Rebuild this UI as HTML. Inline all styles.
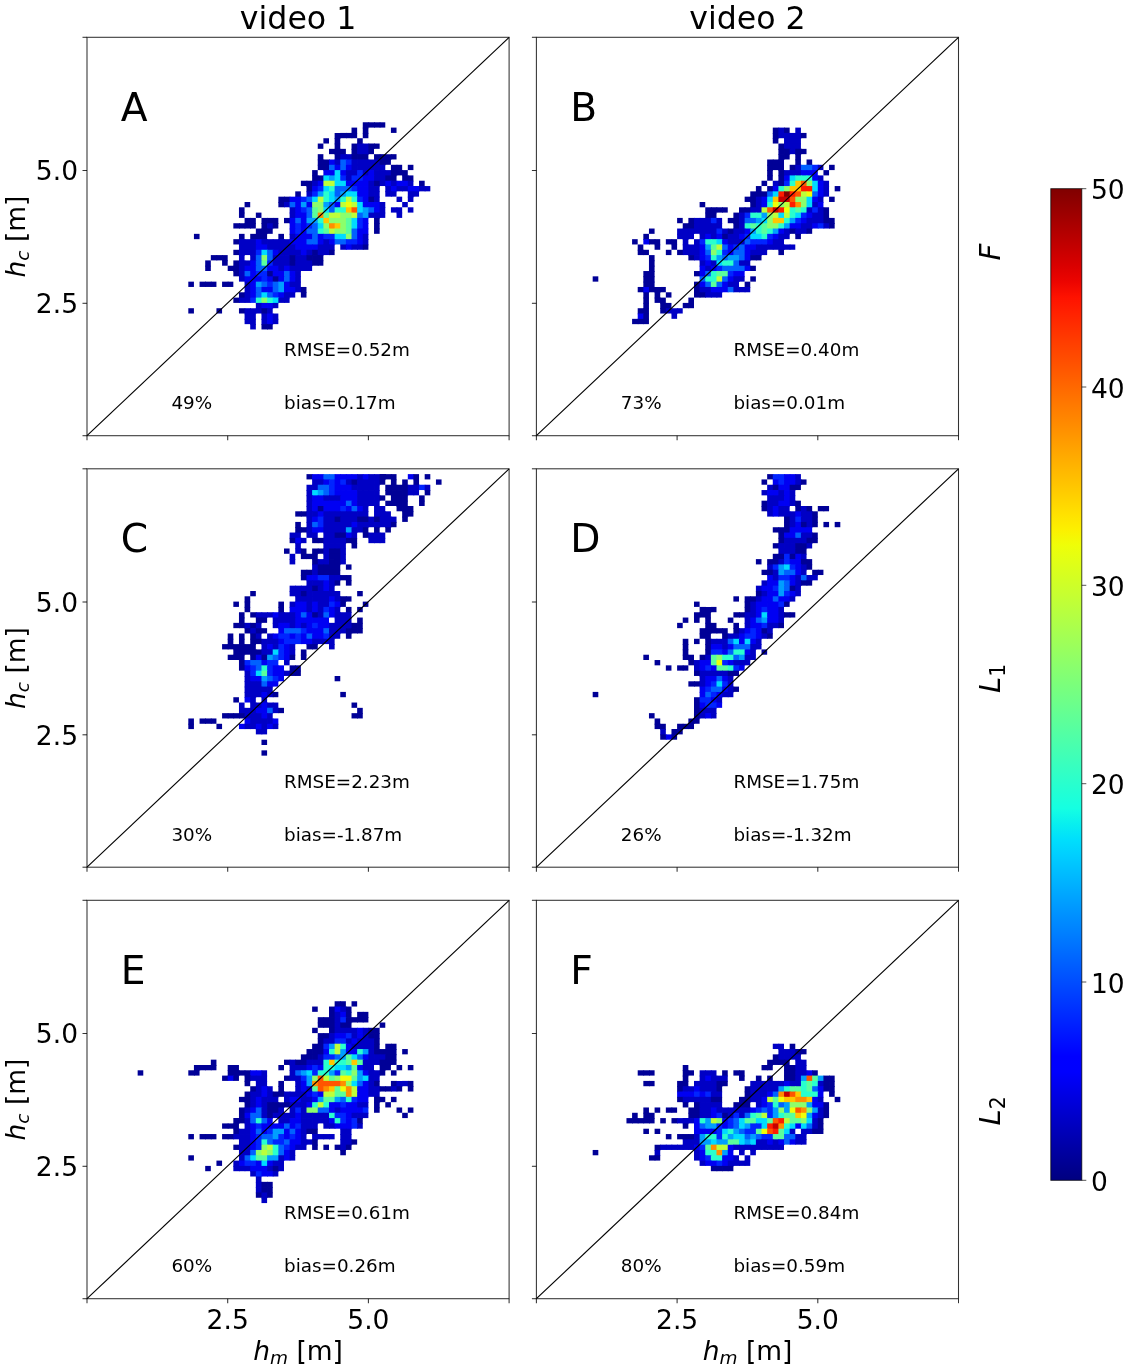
<!DOCTYPE html>
<html><head><meta charset="utf-8"><title>figure</title>
<style>html,body{margin:0;padding:0;background:#fff}svg{display:block}text{font-family:"DejaVu Sans","Liberation Sans",sans-serif;fill:#000}.it{font-style:oblique}</style></head><body>
<svg width="1127" height="1368" viewBox="0 0 1127 1368">
<rect width="1127" height="1368" fill="#fff"/>
<g id="panelA">
<g>
<path d="M362.77 122.29H369.20V127.60H368.40V128.40H362.77Z" fill="#000097"/>
<path d="M368.40 122.29H374.83V127.60H368.40Z" fill="#000097"/>
<path d="M374.03 122.29H380.46V127.60H374.03Z" fill="#000097"/>
<path d="M379.66 122.29H385.28V127.60H379.66Z" fill="#000097"/>
<path d="M351.52 127.60H357.14V133.72H351.52Z" fill="#000097"/>
<path d="M362.77 127.60H368.40V133.72H362.77Z" fill="#000097"/>
<path d="M390.91 127.60H396.54V132.92H390.91Z" fill="#000097"/>
<path d="M334.63 132.92H341.06V138.23H340.26V139.03H334.63Z" fill="#000097"/>
<path d="M340.26 132.92H346.69V138.23H340.26Z" fill="#000097"/>
<path d="M345.89 132.92H352.32V138.23H345.89Z" fill="#000097"/>
<path d="M351.52 132.92H357.14V138.23H351.52Z" fill="#000097"/>
<path d="M362.77 132.92H368.40V138.23H362.77Z" fill="#000097"/>
<path d="M323.38 138.23H329.00V143.54H323.38Z" fill="#000097"/>
<path d="M334.63 138.23H340.26V144.34H334.63Z" fill="#000097"/>
<path d="M357.14 138.23H362.77V144.34H357.14Z" fill="#000097"/>
<path d="M317.75 143.54H323.38V148.85H317.75Z" fill="#000097"/>
<path d="M334.63 143.54H340.26V149.65H334.63Z" fill="#000097"/>
<path d="M351.52 143.54H357.94V149.65H351.52Z" fill="#000097"/>
<path d="M357.14 143.54H363.57V149.65H357.14Z" fill="#0000c5"/>
<path d="M362.77 143.54H369.20V149.65H362.77Z" fill="#0000c5"/>
<path d="M368.40 143.54H374.83V148.85H374.03V149.65H368.40Z" fill="#000097"/>
<path d="M374.03 143.54H379.66V148.85H374.03Z" fill="#000097"/>
<path d="M329.00 148.85H335.43V154.16H329.00Z" fill="#000097"/>
<path d="M334.63 148.85H341.06V154.96H334.63Z" fill="#000097"/>
<path d="M340.26 148.85H345.89V154.96H340.26Z" fill="#000097"/>
<path d="M351.52 148.85H357.94V154.96H351.52Z" fill="#000097"/>
<path d="M357.14 148.85H363.57V154.96H357.14Z" fill="#0000c5"/>
<path d="M362.77 148.85H369.20V154.16H368.40V154.96H362.77Z" fill="#0000c5"/>
<path d="M368.40 148.85H374.03V154.16H368.40Z" fill="#000097"/>
<path d="M317.75 154.16H323.38V160.28H317.75Z" fill="#000097"/>
<path d="M334.63 154.16H341.06V160.28H334.63Z" fill="#000097"/>
<path d="M340.26 154.16H346.69V160.28H340.26Z" fill="#0000c5"/>
<path d="M345.89 154.16H352.32V160.28H345.89Z" fill="#0000c5"/>
<path d="M351.52 154.16H357.94V160.28H351.52Z" fill="#000097"/>
<path d="M357.14 154.16H363.57V160.28H357.14Z" fill="#000097"/>
<path d="M362.77 154.16H368.40V160.28H362.77Z" fill="#000097"/>
<path d="M374.03 154.16H380.46V160.28H374.03Z" fill="#000097"/>
<path d="M379.66 154.16H386.08V160.28H379.66Z" fill="#000097"/>
<path d="M385.28 154.16H391.71V159.48H390.91V160.28H385.28Z" fill="#000097"/>
<path d="M390.91 154.16H396.54V159.48H390.91Z" fill="#000097"/>
<path d="M317.75 159.48H324.18V165.59H317.75Z" fill="#000097"/>
<path d="M323.38 159.48H329.80V165.59H323.38Z" fill="#000097"/>
<path d="M329.00 159.48H335.43V165.59H329.00Z" fill="#0000f3"/>
<path d="M334.63 159.48H341.06V165.59H334.63Z" fill="#0000c5"/>
<path d="M340.26 159.48H346.69V165.59H340.26Z" fill="#0061ff"/>
<path d="M345.89 159.48H352.32V165.59H345.89Z" fill="#0024ff"/>
<path d="M351.52 159.48H357.94V165.59H351.52Z" fill="#0000c5"/>
<path d="M357.14 159.48H363.57V165.59H357.14Z" fill="#0000c5"/>
<path d="M362.77 159.48H369.20V165.59H362.77Z" fill="#0000c5"/>
<path d="M368.40 159.48H374.83V165.59H368.40Z" fill="#0000c5"/>
<path d="M374.03 159.48H380.46V165.59H374.03Z" fill="#0000c5"/>
<path d="M379.66 159.48H386.08V164.79H385.28V165.59H379.66Z" fill="#000097"/>
<path d="M385.28 159.48H390.91V164.79H385.28Z" fill="#000097"/>
<path d="M317.75 164.79H324.18V170.10H317.75Z" fill="#000097"/>
<path d="M323.38 164.79H329.80V170.90H323.38Z" fill="#000097"/>
<path d="M329.00 164.79H335.43V170.90H329.00Z" fill="#0061ff"/>
<path d="M334.63 164.79H341.06V170.90H334.63Z" fill="#0000f3"/>
<path d="M340.26 164.79H346.69V170.90H340.26Z" fill="#0061ff"/>
<path d="M345.89 164.79H352.32V170.90H345.89Z" fill="#0000f3"/>
<path d="M351.52 164.79H357.94V170.90H351.52Z" fill="#0000c5"/>
<path d="M357.14 164.79H363.57V170.90H357.14Z" fill="#0000c5"/>
<path d="M362.77 164.79H369.20V170.90H362.77Z" fill="#0000c5"/>
<path d="M368.40 164.79H374.83V170.90H368.40Z" fill="#0000c5"/>
<path d="M374.03 164.79H380.46V170.90H374.03Z" fill="#0000c5"/>
<path d="M379.66 164.79H385.28V170.90H379.66Z" fill="#0000c5"/>
<path d="M390.91 164.79H397.34V170.90H390.91Z" fill="#000097"/>
<path d="M396.54 164.79H402.17V170.90H396.54Z" fill="#000097"/>
<path d="M407.80 164.79H413.42V170.10H407.80Z" fill="#000097"/>
<path d="M312.12 170.10H317.75V176.21H312.12Z" fill="#000097"/>
<path d="M323.38 170.10H329.80V176.21H323.38Z" fill="#0000f3"/>
<path d="M329.00 170.10H335.43V176.21H329.00Z" fill="#0000f3"/>
<path d="M334.63 170.10H341.06V176.21H334.63Z" fill="#00dbff"/>
<path d="M340.26 170.10H346.69V176.21H340.26Z" fill="#0000f3"/>
<path d="M345.89 170.10H352.32V176.21H345.89Z" fill="#0000c5"/>
<path d="M351.52 170.10H357.94V176.21H351.52Z" fill="#0000c5"/>
<path d="M357.14 170.10H363.57V176.21H357.14Z" fill="#0024ff"/>
<path d="M362.77 170.10H369.20V176.21H362.77Z" fill="#0000c5"/>
<path d="M368.40 170.10H374.83V176.21H368.40Z" fill="#0000f3"/>
<path d="M374.03 170.10H380.46V176.21H374.03Z" fill="#0000c5"/>
<path d="M379.66 170.10H386.08V176.21H379.66Z" fill="#0000c5"/>
<path d="M385.28 170.10H391.71V176.21H385.28Z" fill="#0000c5"/>
<path d="M390.91 170.10H397.34V175.41H396.54V176.21H390.91Z" fill="#000097"/>
<path d="M396.54 170.10H402.97V175.41H396.54Z" fill="#000097"/>
<path d="M402.17 170.10H407.80V176.21H402.17Z" fill="#000097"/>
<path d="M312.12 175.41H318.55V181.52H312.12Z" fill="#000097"/>
<path d="M317.75 175.41H324.18V181.52H317.75Z" fill="#000097"/>
<path d="M323.38 175.41H329.80V181.52H323.38Z" fill="#00dbff"/>
<path d="M329.00 175.41H335.43V181.52H329.00Z" fill="#009eff"/>
<path d="M334.63 175.41H341.06V181.52H334.63Z" fill="#00dbff"/>
<path d="M340.26 175.41H346.69V181.52H340.26Z" fill="#0024ff"/>
<path d="M345.89 175.41H352.32V181.52H345.89Z" fill="#0000c5"/>
<path d="M351.52 175.41H357.94V181.52H351.52Z" fill="#0024ff"/>
<path d="M357.14 175.41H363.57V181.52H357.14Z" fill="#0024ff"/>
<path d="M362.77 175.41H369.20V181.52H362.77Z" fill="#0000f3"/>
<path d="M368.40 175.41H374.83V181.52H368.40Z" fill="#0000f3"/>
<path d="M374.03 175.41H380.46V181.52H374.03Z" fill="#0000c5"/>
<path d="M379.66 175.41H386.08V181.52H379.66Z" fill="#0000c5"/>
<path d="M385.28 175.41H391.71V181.52H385.28Z" fill="#000097"/>
<path d="M390.91 175.41H396.54V181.52H390.91Z" fill="#000097"/>
<path d="M402.17 175.41H408.60V181.52H402.17Z" fill="#000097"/>
<path d="M407.80 175.41H413.42V181.52H407.80Z" fill="#000097"/>
<path d="M300.86 180.72H307.29V186.04H300.86Z" fill="#000097"/>
<path d="M306.49 180.72H312.92V186.84H306.49Z" fill="#000097"/>
<path d="M312.12 180.72H318.55V186.84H312.12Z" fill="#0000c5"/>
<path d="M317.75 180.72H324.18V186.84H317.75Z" fill="#0000f3"/>
<path d="M323.38 180.72H329.80V186.84H323.38Z" fill="#bdff3a"/>
<path d="M329.00 180.72H335.43V186.84H329.00Z" fill="#bdff3a"/>
<path d="M334.63 180.72H341.06V186.84H334.63Z" fill="#00dbff"/>
<path d="M340.26 180.72H346.69V186.84H340.26Z" fill="#00dbff"/>
<path d="M345.89 180.72H352.32V186.84H345.89Z" fill="#0000f3"/>
<path d="M351.52 180.72H357.94V186.84H351.52Z" fill="#0000f3"/>
<path d="M357.14 180.72H363.57V186.84H357.14Z" fill="#0000f3"/>
<path d="M362.77 180.72H369.20V186.84H362.77Z" fill="#0000f3"/>
<path d="M368.40 180.72H374.83V186.84H368.40Z" fill="#0000c5"/>
<path d="M374.03 180.72H380.46V186.04H379.66V186.84H374.03Z" fill="#000097"/>
<path d="M379.66 180.72H386.08V186.04H379.66Z" fill="#0000c5"/>
<path d="M385.28 180.72H391.71V186.84H385.28Z" fill="#0000f3"/>
<path d="M390.91 180.72H397.34V186.84H390.91Z" fill="#0000c5"/>
<path d="M396.54 180.72H402.97V186.84H396.54Z" fill="#0000f3"/>
<path d="M402.17 180.72H408.60V186.84H402.17Z" fill="#0000f3"/>
<path d="M407.80 180.72H413.42V186.84H407.80Z" fill="#0000c5"/>
<path d="M419.05 180.72H424.68V186.84H419.05Z" fill="#000097"/>
<path d="M306.49 186.04H312.92V192.15H306.49Z" fill="#000097"/>
<path d="M312.12 186.04H318.55V192.15H312.12Z" fill="#0000f3"/>
<path d="M317.75 186.04H324.18V192.15H317.75Z" fill="#0024ff"/>
<path d="M323.38 186.04H329.80V192.15H323.38Z" fill="#00dbff"/>
<path d="M329.00 186.04H335.43V192.15H329.00Z" fill="#29ffce"/>
<path d="M334.63 186.04H341.06V192.15H334.63Z" fill="#0061ff"/>
<path d="M340.26 186.04H346.69V192.15H340.26Z" fill="#0061ff"/>
<path d="M345.89 186.04H352.32V192.15H345.89Z" fill="#0061ff"/>
<path d="M351.52 186.04H357.94V192.15H351.52Z" fill="#0024ff"/>
<path d="M357.14 186.04H363.57V192.15H357.14Z" fill="#0000f3"/>
<path d="M362.77 186.04H369.20V192.15H362.77Z" fill="#0000f3"/>
<path d="M368.40 186.04H374.83V192.15H368.40Z" fill="#0000c5"/>
<path d="M374.03 186.04H379.66V192.15H374.03Z" fill="#0000c5"/>
<path d="M385.28 186.04H391.71V192.15H385.28Z" fill="#0000c5"/>
<path d="M390.91 186.04H397.34V191.35H396.54V192.15H390.91Z" fill="#0000f3"/>
<path d="M396.54 186.04H402.97V191.35H396.54Z" fill="#0000c5"/>
<path d="M402.17 186.04H408.60V191.35H402.17Z" fill="#0000c5"/>
<path d="M407.80 186.04H414.22V192.15H407.80Z" fill="#0000f3"/>
<path d="M413.42 186.04H419.85V191.35H419.05V192.15H413.42Z" fill="#0000f3"/>
<path d="M419.05 186.04H425.48V191.35H419.05Z" fill="#0000c5"/>
<path d="M424.68 186.04H430.31V191.35H424.68Z" fill="#0000c5"/>
<path d="M295.24 191.35H300.86V197.46H295.24Z" fill="#000097"/>
<path d="M306.49 191.35H312.92V197.46H306.49Z" fill="#0000c5"/>
<path d="M312.12 191.35H318.55V197.46H312.12Z" fill="#0024ff"/>
<path d="M317.75 191.35H324.18V197.46H317.75Z" fill="#009eff"/>
<path d="M323.38 191.35H329.80V197.46H323.38Z" fill="#29ffce"/>
<path d="M329.00 191.35H335.43V197.46H329.00Z" fill="#00dbff"/>
<path d="M334.63 191.35H341.06V197.46H334.63Z" fill="#0061ff"/>
<path d="M340.26 191.35H346.69V197.46H340.26Z" fill="#009eff"/>
<path d="M345.89 191.35H352.32V197.46H345.89Z" fill="#00dbff"/>
<path d="M351.52 191.35H357.94V197.46H351.52Z" fill="#00dbff"/>
<path d="M357.14 191.35H363.57V197.46H357.14Z" fill="#0000f3"/>
<path d="M362.77 191.35H369.20V197.46H362.77Z" fill="#0000f3"/>
<path d="M368.40 191.35H374.83V197.46H368.40Z" fill="#0000c5"/>
<path d="M374.03 191.35H379.66V197.46H374.03Z" fill="#0000c5"/>
<path d="M385.28 191.35H391.71V196.66H385.28Z" fill="#0000c5"/>
<path d="M390.91 191.35H396.54V196.66H390.91Z" fill="#0000c5"/>
<path d="M407.80 191.35H414.22V196.66H413.42V197.46H407.80Z" fill="#0000c5"/>
<path d="M413.42 191.35H419.05V196.66H413.42Z" fill="#0000c5"/>
<path d="M278.35 196.66H284.78V202.77H278.35Z" fill="#000097"/>
<path d="M283.98 196.66H290.41V202.77H283.98Z" fill="#000097"/>
<path d="M289.61 196.66H296.04V202.77H289.61Z" fill="#0000f3"/>
<path d="M295.24 196.66H301.66V202.77H295.24Z" fill="#0000f3"/>
<path d="M300.86 196.66H307.29V202.77H300.86Z" fill="#0024ff"/>
<path d="M306.49 196.66H312.92V202.77H306.49Z" fill="#0061ff"/>
<path d="M312.12 196.66H318.55V202.77H312.12Z" fill="#00dbff"/>
<path d="M317.75 196.66H324.18V202.77H317.75Z" fill="#bdff3a"/>
<path d="M323.38 196.66H329.80V202.77H323.38Z" fill="#29ffce"/>
<path d="M329.00 196.66H335.43V202.77H329.00Z" fill="#00dbff"/>
<path d="M334.63 196.66H341.06V202.77H334.63Z" fill="#009eff"/>
<path d="M340.26 196.66H346.69V202.77H340.26Z" fill="#29ffce"/>
<path d="M345.89 196.66H352.32V202.77H345.89Z" fill="#bdff3a"/>
<path d="M351.52 196.66H357.94V202.77H351.52Z" fill="#29ffce"/>
<path d="M357.14 196.66H363.57V202.77H357.14Z" fill="#0024ff"/>
<path d="M362.77 196.66H369.20V202.77H362.77Z" fill="#0000f3"/>
<path d="M368.40 196.66H374.83V202.77H368.40Z" fill="#000097"/>
<path d="M374.03 196.66H379.66V202.77H374.03Z" fill="#0000c5"/>
<path d="M396.54 196.66H402.17V201.97H396.54Z" fill="#0000c5"/>
<path d="M407.80 196.66H413.42V201.97H407.80Z" fill="#0000c5"/>
<path d="M244.58 201.97H250.21V207.28H244.58Z" fill="#000097"/>
<path d="M278.35 201.97H284.78V207.28H278.35Z" fill="#000097"/>
<path d="M283.98 201.97H290.41V207.28H283.98Z" fill="#0000c5"/>
<path d="M289.61 201.97H296.04V208.08H289.61Z" fill="#0061ff"/>
<path d="M295.24 201.97H301.66V208.08H295.24Z" fill="#0000f3"/>
<path d="M300.86 201.97H307.29V208.08H300.86Z" fill="#009eff"/>
<path d="M306.49 201.97H312.92V208.08H306.49Z" fill="#0000f3"/>
<path d="M312.12 201.97H318.55V208.08H312.12Z" fill="#8cff6b"/>
<path d="M317.75 201.97H324.18V208.08H317.75Z" fill="#8cff6b"/>
<path d="M323.38 201.97H329.80V208.08H323.38Z" fill="#009eff"/>
<path d="M329.00 201.97H335.43V208.08H329.00Z" fill="#0061ff"/>
<path d="M334.63 201.97H341.06V208.08H334.63Z" fill="#0000f3"/>
<path d="M340.26 201.97H346.69V208.08H340.26Z" fill="#bdff3a"/>
<path d="M345.89 201.97H352.32V208.08H345.89Z" fill="#efff08"/>
<path d="M351.52 201.97H357.94V208.08H351.52Z" fill="#bdff3a"/>
<path d="M357.14 201.97H363.57V208.08H357.14Z" fill="#00dbff"/>
<path d="M362.77 201.97H369.20V208.08H362.77Z" fill="#0000f3"/>
<path d="M368.40 201.97H374.83V208.08H368.40Z" fill="#0000f3"/>
<path d="M374.03 201.97H380.46V208.08H374.03Z" fill="#0000f3"/>
<path d="M379.66 201.97H385.28V208.08H379.66Z" fill="#0000c5"/>
<path d="M402.17 201.97H407.80V207.28H402.17Z" fill="#0000c5"/>
<path d="M238.96 207.28H244.58V213.40H238.96Z" fill="#000097"/>
<path d="M289.61 207.28H296.04V213.40H289.61Z" fill="#0000c5"/>
<path d="M295.24 207.28H301.66V213.40H295.24Z" fill="#0000f3"/>
<path d="M300.86 207.28H307.29V213.40H300.86Z" fill="#0024ff"/>
<path d="M306.49 207.28H312.92V213.40H306.49Z" fill="#0061ff"/>
<path d="M312.12 207.28H318.55V213.40H312.12Z" fill="#5aff9c"/>
<path d="M317.75 207.28H324.18V213.40H317.75Z" fill="#8cff6b"/>
<path d="M323.38 207.28H329.80V213.40H323.38Z" fill="#00dbff"/>
<path d="M329.00 207.28H335.43V213.40H329.00Z" fill="#0061ff"/>
<path d="M334.63 207.28H341.06V213.40H334.63Z" fill="#29ffce"/>
<path d="M340.26 207.28H346.69V213.40H340.26Z" fill="#29ffce"/>
<path d="M345.89 207.28H352.32V213.40H345.89Z" fill="#ffc600"/>
<path d="M351.52 207.28H357.94V213.40H351.52Z" fill="#ff5500"/>
<path d="M357.14 207.28H363.57V213.40H357.14Z" fill="#00dbff"/>
<path d="M362.77 207.28H369.20V213.40H362.77Z" fill="#009eff"/>
<path d="M368.40 207.28H374.83V213.40H368.40Z" fill="#0061ff"/>
<path d="M374.03 207.28H380.46V213.40H374.03Z" fill="#0000f3"/>
<path d="M379.66 207.28H385.28V213.40H379.66Z" fill="#0000c5"/>
<path d="M390.91 207.28H397.34V212.60H390.91Z" fill="#0000c5"/>
<path d="M396.54 207.28H402.17V213.40H396.54Z" fill="#0000c5"/>
<path d="M407.80 207.28H413.42V212.60H407.80Z" fill="#0000c5"/>
<path d="M238.96 212.60H244.58V217.91H238.96Z" fill="#000097"/>
<path d="M255.84 212.60H261.47V217.91H255.84Z" fill="#000097"/>
<path d="M289.61 212.60H296.04V218.71H289.61Z" fill="#0000c5"/>
<path d="M295.24 212.60H301.66V218.71H295.24Z" fill="#0000f3"/>
<path d="M300.86 212.60H307.29V218.71H300.86Z" fill="#0000f3"/>
<path d="M306.49 212.60H312.92V218.71H306.49Z" fill="#0061ff"/>
<path d="M312.12 212.60H318.55V218.71H312.12Z" fill="#5aff9c"/>
<path d="M317.75 212.60H324.18V218.71H317.75Z" fill="#ff8e00"/>
<path d="M323.38 212.60H329.80V218.71H323.38Z" fill="#5aff9c"/>
<path d="M329.00 212.60H335.43V218.71H329.00Z" fill="#bdff3a"/>
<path d="M334.63 212.60H341.06V218.71H334.63Z" fill="#bdff3a"/>
<path d="M340.26 212.60H346.69V218.71H340.26Z" fill="#8cff6b"/>
<path d="M345.89 212.60H352.32V218.71H345.89Z" fill="#8cff6b"/>
<path d="M351.52 212.60H357.94V218.71H351.52Z" fill="#bdff3a"/>
<path d="M357.14 212.60H363.57V218.71H357.14Z" fill="#0061ff"/>
<path d="M362.77 212.60H369.20V217.91H368.40V218.71H362.77Z" fill="#009eff"/>
<path d="M368.40 212.60H374.83V217.91H368.40Z" fill="#0000c5"/>
<path d="M374.03 212.60H380.46V217.91H379.66V218.71H374.03Z" fill="#0000c5"/>
<path d="M379.66 212.60H385.28V217.91H379.66Z" fill="#0000c5"/>
<path d="M396.54 212.60H402.17V217.91H396.54Z" fill="#0000c5"/>
<path d="M244.58 217.91H251.01V224.02H244.58Z" fill="#000097"/>
<path d="M250.21 217.91H255.84V224.02H250.21Z" fill="#000097"/>
<path d="M261.47 217.91H267.90V224.02H261.47Z" fill="#000097"/>
<path d="M267.10 217.91H273.52V224.02H267.10Z" fill="#000097"/>
<path d="M272.72 217.91H278.35V224.02H272.72Z" fill="#000097"/>
<path d="M283.98 217.91H290.41V223.22H283.98Z" fill="#000097"/>
<path d="M289.61 217.91H296.04V224.02H289.61Z" fill="#0000f3"/>
<path d="M295.24 217.91H301.66V224.02H295.24Z" fill="#0061ff"/>
<path d="M300.86 217.91H307.29V224.02H300.86Z" fill="#0000f3"/>
<path d="M306.49 217.91H312.92V224.02H306.49Z" fill="#009eff"/>
<path d="M312.12 217.91H318.55V224.02H312.12Z" fill="#009eff"/>
<path d="M317.75 217.91H324.18V224.02H317.75Z" fill="#29ffce"/>
<path d="M323.38 217.91H329.80V224.02H323.38Z" fill="#ffc600"/>
<path d="M329.00 217.91H335.43V224.02H329.00Z" fill="#8cff6b"/>
<path d="M334.63 217.91H341.06V224.02H334.63Z" fill="#8cff6b"/>
<path d="M340.26 217.91H346.69V224.02H340.26Z" fill="#8cff6b"/>
<path d="M345.89 217.91H352.32V224.02H345.89Z" fill="#5aff9c"/>
<path d="M351.52 217.91H357.94V224.02H351.52Z" fill="#00dbff"/>
<path d="M357.14 217.91H363.57V224.02H357.14Z" fill="#0024ff"/>
<path d="M362.77 217.91H368.40V224.02H362.77Z" fill="#0000f3"/>
<path d="M374.03 217.91H379.66V224.02H374.03Z" fill="#000097"/>
<path d="M233.33 223.22H239.76V228.53H233.33Z" fill="#000097"/>
<path d="M238.96 223.22H245.38V228.53H238.96Z" fill="#000097"/>
<path d="M244.58 223.22H251.01V228.53H244.58Z" fill="#000097"/>
<path d="M250.21 223.22H255.84V228.53H250.21Z" fill="#000097"/>
<path d="M261.47 223.22H267.90V229.33H261.47Z" fill="#000097"/>
<path d="M267.10 223.22H273.52V228.53H272.72V229.33H267.10Z" fill="#0000c5"/>
<path d="M272.72 223.22H278.35V228.53H272.72Z" fill="#000097"/>
<path d="M289.61 223.22H296.04V229.33H289.61Z" fill="#0000f3"/>
<path d="M295.24 223.22H301.66V229.33H295.24Z" fill="#0024ff"/>
<path d="M300.86 223.22H307.29V229.33H300.86Z" fill="#0000f3"/>
<path d="M306.49 223.22H312.92V229.33H306.49Z" fill="#0024ff"/>
<path d="M312.12 223.22H318.55V229.33H312.12Z" fill="#0061ff"/>
<path d="M317.75 223.22H324.18V229.33H317.75Z" fill="#00dbff"/>
<path d="M323.38 223.22H329.80V229.33H323.38Z" fill="#8cff6b"/>
<path d="M329.00 223.22H335.43V229.33H329.00Z" fill="#ff8e00"/>
<path d="M334.63 223.22H341.06V229.33H334.63Z" fill="#ffc600"/>
<path d="M340.26 223.22H346.69V229.33H340.26Z" fill="#8cff6b"/>
<path d="M345.89 223.22H352.32V229.33H345.89Z" fill="#5aff9c"/>
<path d="M351.52 223.22H357.94V229.33H351.52Z" fill="#00dbff"/>
<path d="M357.14 223.22H363.57V229.33H357.14Z" fill="#0024ff"/>
<path d="M362.77 223.22H368.40V229.33H362.77Z" fill="#0000f3"/>
<path d="M374.03 223.22H379.66V229.33H374.03Z" fill="#000097"/>
<path d="M255.84 228.53H262.27V234.64H255.84Z" fill="#000097"/>
<path d="M261.47 228.53H267.90V233.84H267.10V234.64H261.47Z" fill="#000097"/>
<path d="M267.10 228.53H272.72V233.84H267.10Z" fill="#000097"/>
<path d="M289.61 228.53H296.04V234.64H289.61Z" fill="#0000f3"/>
<path d="M295.24 228.53H301.66V234.64H295.24Z" fill="#0024ff"/>
<path d="M300.86 228.53H307.29V234.64H300.86Z" fill="#0000f3"/>
<path d="M306.49 228.53H312.92V234.64H306.49Z" fill="#0061ff"/>
<path d="M312.12 228.53H318.55V234.64H312.12Z" fill="#0061ff"/>
<path d="M317.75 228.53H324.18V234.64H317.75Z" fill="#29ffce"/>
<path d="M323.38 228.53H329.80V234.64H323.38Z" fill="#5aff9c"/>
<path d="M329.00 228.53H335.43V234.64H329.00Z" fill="#bdff3a"/>
<path d="M334.63 228.53H341.06V234.64H334.63Z" fill="#8cff6b"/>
<path d="M340.26 228.53H346.69V234.64H340.26Z" fill="#8cff6b"/>
<path d="M345.89 228.53H352.32V234.64H345.89Z" fill="#5aff9c"/>
<path d="M351.52 228.53H357.94V234.64H351.52Z" fill="#0061ff"/>
<path d="M357.14 228.53H363.57V234.64H357.14Z" fill="#0000f3"/>
<path d="M362.77 228.53H368.40V234.64H362.77Z" fill="#0000f3"/>
<path d="M374.03 228.53H379.66V233.84H374.03Z" fill="#000097"/>
<path d="M193.93 233.84H199.56V239.16H193.93Z" fill="#000097"/>
<path d="M238.96 233.84H244.58V239.96H238.96Z" fill="#000097"/>
<path d="M250.21 233.84H256.64V239.96H250.21Z" fill="#000097"/>
<path d="M255.84 233.84H262.27V239.96H255.84Z" fill="#000097"/>
<path d="M261.47 233.84H267.10V239.96H261.47Z" fill="#000097"/>
<path d="M278.35 233.84H283.98V239.96H278.35Z" fill="#000097"/>
<path d="M289.61 233.84H296.04V239.96H289.61Z" fill="#0000c5"/>
<path d="M295.24 233.84H301.66V239.96H295.24Z" fill="#0000f3"/>
<path d="M300.86 233.84H307.29V239.96H300.86Z" fill="#0000f3"/>
<path d="M306.49 233.84H312.92V239.96H306.49Z" fill="#0000f3"/>
<path d="M312.12 233.84H318.55V239.96H312.12Z" fill="#0061ff"/>
<path d="M317.75 233.84H324.18V239.96H317.75Z" fill="#0000f3"/>
<path d="M323.38 233.84H329.80V239.96H323.38Z" fill="#0024ff"/>
<path d="M329.00 233.84H335.43V239.96H329.00Z" fill="#0024ff"/>
<path d="M334.63 233.84H341.06V239.96H334.63Z" fill="#00dbff"/>
<path d="M340.26 233.84H346.69V239.96H340.26Z" fill="#00dbff"/>
<path d="M345.89 233.84H352.32V239.96H345.89Z" fill="#8cff6b"/>
<path d="M351.52 233.84H357.94V239.96H351.52Z" fill="#0061ff"/>
<path d="M357.14 233.84H363.57V239.96H357.14Z" fill="#0000f3"/>
<path d="M362.77 233.84H368.40V239.96H362.77Z" fill="#0000c5"/>
<path d="M233.33 239.16H239.76V244.47H233.33Z" fill="#000097"/>
<path d="M238.96 239.16H245.38V245.27H238.96Z" fill="#0000c5"/>
<path d="M244.58 239.16H251.01V245.27H244.58Z" fill="#0000c5"/>
<path d="M250.21 239.16H256.64V245.27H250.21Z" fill="#0000c5"/>
<path d="M255.84 239.16H262.27V245.27H255.84Z" fill="#0000f3"/>
<path d="M261.47 239.16H267.90V245.27H261.47Z" fill="#0000c5"/>
<path d="M267.10 239.16H273.52V245.27H267.10Z" fill="#0000c5"/>
<path d="M272.72 239.16H279.15V245.27H272.72Z" fill="#0000c5"/>
<path d="M278.35 239.16H284.78V245.27H278.35Z" fill="#0000c5"/>
<path d="M283.98 239.16H290.41V245.27H283.98Z" fill="#0000c5"/>
<path d="M289.61 239.16H296.04V245.27H289.61Z" fill="#0000f3"/>
<path d="M295.24 239.16H301.66V245.27H295.24Z" fill="#0000f3"/>
<path d="M300.86 239.16H307.29V245.27H300.86Z" fill="#0000f3"/>
<path d="M306.49 239.16H312.92V245.27H306.49Z" fill="#0061ff"/>
<path d="M312.12 239.16H318.55V245.27H312.12Z" fill="#0061ff"/>
<path d="M317.75 239.16H324.18V245.27H317.75Z" fill="#0000f3"/>
<path d="M323.38 239.16H329.80V245.27H323.38Z" fill="#0000c5"/>
<path d="M329.00 239.16H335.43V244.47H334.63V245.27H329.00Z" fill="#0000f3"/>
<path d="M334.63 239.16H341.06V244.47H334.63Z" fill="#0061ff"/>
<path d="M340.26 239.16H346.69V245.27H340.26Z" fill="#0061ff"/>
<path d="M345.89 239.16H352.32V245.27H345.89Z" fill="#0024ff"/>
<path d="M351.52 239.16H357.94V245.27H351.52Z" fill="#0024ff"/>
<path d="M357.14 239.16H363.57V245.27H357.14Z" fill="#0000f3"/>
<path d="M362.77 239.16H368.40V245.27H362.77Z" fill="#0000c5"/>
<path d="M238.96 244.47H245.38V250.58H238.96Z" fill="#0000c5"/>
<path d="M244.58 244.47H251.01V250.58H244.58Z" fill="#0000c5"/>
<path d="M250.21 244.47H256.64V250.58H250.21Z" fill="#0000c5"/>
<path d="M255.84 244.47H262.27V250.58H255.84Z" fill="#0000f3"/>
<path d="M261.47 244.47H267.90V250.58H261.47Z" fill="#0000f3"/>
<path d="M267.10 244.47H273.52V250.58H267.10Z" fill="#0000c5"/>
<path d="M272.72 244.47H279.15V250.58H272.72Z" fill="#0000c5"/>
<path d="M278.35 244.47H284.78V250.58H278.35Z" fill="#0000c5"/>
<path d="M283.98 244.47H290.41V250.58H283.98Z" fill="#0000c5"/>
<path d="M289.61 244.47H296.04V250.58H289.61Z" fill="#0000c5"/>
<path d="M295.24 244.47H301.66V250.58H295.24Z" fill="#0000f3"/>
<path d="M300.86 244.47H307.29V250.58H300.86Z" fill="#0000f3"/>
<path d="M306.49 244.47H312.92V250.58H306.49Z" fill="#0000f3"/>
<path d="M312.12 244.47H318.55V250.58H312.12Z" fill="#0000f3"/>
<path d="M317.75 244.47H324.18V250.58H317.75Z" fill="#0000c5"/>
<path d="M323.38 244.47H329.80V250.58H323.38Z" fill="#0000c5"/>
<path d="M329.00 244.47H334.63V250.58H329.00Z" fill="#0000c5"/>
<path d="M340.26 244.47H346.69V249.78H340.26Z" fill="#0000c5"/>
<path d="M345.89 244.47H352.32V249.78H345.89Z" fill="#0000f3"/>
<path d="M351.52 244.47H357.94V249.78H351.52Z" fill="#0000c5"/>
<path d="M357.14 244.47H363.57V249.78H357.14Z" fill="#0000c5"/>
<path d="M362.77 244.47H368.40V249.78H362.77Z" fill="#000097"/>
<path d="M233.33 249.78H239.76V255.09H233.33Z" fill="#000097"/>
<path d="M238.96 249.78H245.38V255.09H244.58V255.89H238.96Z" fill="#0000c5"/>
<path d="M244.58 249.78H251.01V255.09H244.58Z" fill="#0000c5"/>
<path d="M250.21 249.78H256.64V255.89H250.21Z" fill="#0000c5"/>
<path d="M255.84 249.78H262.27V255.89H255.84Z" fill="#0024ff"/>
<path d="M261.47 249.78H267.90V255.89H261.47Z" fill="#00dbff"/>
<path d="M267.10 249.78H273.52V255.89H267.10Z" fill="#0061ff"/>
<path d="M272.72 249.78H279.15V255.89H272.72Z" fill="#0000f3"/>
<path d="M278.35 249.78H284.78V255.89H278.35Z" fill="#0000c5"/>
<path d="M283.98 249.78H290.41V255.89H283.98Z" fill="#0000c5"/>
<path d="M289.61 249.78H296.04V255.89H289.61Z" fill="#0000c5"/>
<path d="M295.24 249.78H301.66V255.89H295.24Z" fill="#0000c5"/>
<path d="M300.86 249.78H307.29V255.89H300.86Z" fill="#0000f3"/>
<path d="M306.49 249.78H312.92V255.89H306.49Z" fill="#0000c5"/>
<path d="M312.12 249.78H318.55V255.89H312.12Z" fill="#000097"/>
<path d="M317.75 249.78H324.18V255.09H323.38V255.89H317.75Z" fill="#0000c5"/>
<path d="M323.38 249.78H329.80V255.09H323.38Z" fill="#0000c5"/>
<path d="M329.00 249.78H334.63V255.09H329.00Z" fill="#000097"/>
<path d="M210.82 255.09H217.24V260.40H210.82Z" fill="#000097"/>
<path d="M216.44 255.09H222.87V260.40H216.44Z" fill="#000097"/>
<path d="M222.07 255.09H227.70V261.20H222.07Z" fill="#000097"/>
<path d="M238.96 255.09H244.58V261.20H238.96Z" fill="#0000c5"/>
<path d="M250.21 255.09H256.64V261.20H250.21Z" fill="#0000c5"/>
<path d="M255.84 255.09H262.27V261.20H255.84Z" fill="#0061ff"/>
<path d="M261.47 255.09H267.90V261.20H261.47Z" fill="#8cff6b"/>
<path d="M267.10 255.09H273.52V261.20H267.10Z" fill="#0061ff"/>
<path d="M272.72 255.09H279.15V261.20H272.72Z" fill="#0000c5"/>
<path d="M278.35 255.09H284.78V261.20H278.35Z" fill="#0000c5"/>
<path d="M283.98 255.09H290.41V261.20H283.98Z" fill="#0000c5"/>
<path d="M289.61 255.09H296.04V261.20H289.61Z" fill="#000097"/>
<path d="M295.24 255.09H301.66V261.20H295.24Z" fill="#0000c5"/>
<path d="M300.86 255.09H307.29V261.20H300.86Z" fill="#0000c5"/>
<path d="M306.49 255.09H312.92V261.20H306.49Z" fill="#000097"/>
<path d="M312.12 255.09H318.55V261.20H312.12Z" fill="#000097"/>
<path d="M317.75 255.09H323.38V261.20H317.75Z" fill="#000097"/>
<path d="M205.19 260.40H210.82V266.52H205.19Z" fill="#000097"/>
<path d="M222.07 260.40H227.70V265.72H222.07Z" fill="#000097"/>
<path d="M233.33 260.40H239.76V266.52H233.33Z" fill="#000097"/>
<path d="M238.96 260.40H245.38V266.52H238.96Z" fill="#0000c5"/>
<path d="M244.58 260.40H251.01V266.52H244.58Z" fill="#0000c5"/>
<path d="M250.21 260.40H256.64V266.52H250.21Z" fill="#0000f3"/>
<path d="M255.84 260.40H262.27V266.52H255.84Z" fill="#0061ff"/>
<path d="M261.47 260.40H267.90V266.52H261.47Z" fill="#5aff9c"/>
<path d="M267.10 260.40H273.52V266.52H267.10Z" fill="#0024ff"/>
<path d="M272.72 260.40H279.15V266.52H272.72Z" fill="#0000c5"/>
<path d="M278.35 260.40H284.78V266.52H278.35Z" fill="#0000c5"/>
<path d="M283.98 260.40H290.41V266.52H283.98Z" fill="#0000c5"/>
<path d="M289.61 260.40H296.04V266.52H289.61Z" fill="#000097"/>
<path d="M295.24 260.40H301.66V266.52H295.24Z" fill="#0000c5"/>
<path d="M300.86 260.40H307.29V266.52H300.86Z" fill="#0000c5"/>
<path d="M306.49 260.40H312.92V265.72H312.12V266.52H306.49Z" fill="#0000c5"/>
<path d="M312.12 260.40H318.55V265.72H312.12Z" fill="#000097"/>
<path d="M317.75 260.40H323.38V265.72H317.75Z" fill="#000097"/>
<path d="M205.19 265.72H210.82V271.03H205.19Z" fill="#000097"/>
<path d="M227.70 265.72H234.13V271.03H227.70Z" fill="#000097"/>
<path d="M233.33 265.72H239.76V271.83H233.33Z" fill="#000097"/>
<path d="M238.96 265.72H245.38V271.83H238.96Z" fill="#0000c5"/>
<path d="M244.58 265.72H251.01V271.83H244.58Z" fill="#0000f3"/>
<path d="M250.21 265.72H256.64V271.83H250.21Z" fill="#0000f3"/>
<path d="M255.84 265.72H262.27V271.83H255.84Z" fill="#0061ff"/>
<path d="M261.47 265.72H267.90V271.83H261.47Z" fill="#0061ff"/>
<path d="M267.10 265.72H273.52V271.83H267.10Z" fill="#0000f3"/>
<path d="M272.72 265.72H279.15V271.83H272.72Z" fill="#0000f3"/>
<path d="M278.35 265.72H284.78V271.83H278.35Z" fill="#0000c5"/>
<path d="M283.98 265.72H290.41V271.83H283.98Z" fill="#0000f3"/>
<path d="M289.61 265.72H296.04V271.83H289.61Z" fill="#0000c5"/>
<path d="M295.24 265.72H301.66V271.03H300.86V271.83H295.24Z" fill="#0000c5"/>
<path d="M300.86 265.72H307.29V271.03H300.86Z" fill="#0000c5"/>
<path d="M306.49 265.72H312.12V271.03H306.49Z" fill="#0000c5"/>
<path d="M233.33 271.03H239.76V276.34H233.33Z" fill="#000097"/>
<path d="M238.96 271.03H245.38V277.14H238.96Z" fill="#0000c5"/>
<path d="M244.58 271.03H251.01V277.14H244.58Z" fill="#0061ff"/>
<path d="M250.21 271.03H256.64V277.14H250.21Z" fill="#0000f3"/>
<path d="M255.84 271.03H262.27V277.14H255.84Z" fill="#0024ff"/>
<path d="M261.47 271.03H267.90V277.14H261.47Z" fill="#0024ff"/>
<path d="M267.10 271.03H273.52V277.14H267.10Z" fill="#000097"/>
<path d="M272.72 271.03H279.15V277.14H272.72Z" fill="#0000f3"/>
<path d="M278.35 271.03H284.78V277.14H278.35Z" fill="#0000f3"/>
<path d="M283.98 271.03H290.41V277.14H283.98Z" fill="#0061ff"/>
<path d="M289.61 271.03H296.04V277.14H289.61Z" fill="#0000f3"/>
<path d="M295.24 271.03H300.86V277.14H295.24Z" fill="#0000c5"/>
<path d="M238.96 276.34H245.38V281.65H238.96Z" fill="#0000c5"/>
<path d="M244.58 276.34H251.01V282.45H244.58Z" fill="#0000f3"/>
<path d="M250.21 276.34H256.64V282.45H250.21Z" fill="#0000f3"/>
<path d="M255.84 276.34H262.27V282.45H255.84Z" fill="#0000f3"/>
<path d="M261.47 276.34H267.90V282.45H261.47Z" fill="#0024ff"/>
<path d="M267.10 276.34H273.52V282.45H267.10Z" fill="#0000f3"/>
<path d="M272.72 276.34H279.15V282.45H272.72Z" fill="#000097"/>
<path d="M278.35 276.34H284.78V282.45H278.35Z" fill="#0000f3"/>
<path d="M283.98 276.34H290.41V282.45H283.98Z" fill="#0061ff"/>
<path d="M289.61 276.34H296.04V282.45H289.61Z" fill="#0000f3"/>
<path d="M295.24 276.34H300.86V282.45H295.24Z" fill="#0000c5"/>
<path d="M188.30 281.65H193.93V286.96H188.30Z" fill="#000097"/>
<path d="M199.56 281.65H205.99V286.96H199.56Z" fill="#000097"/>
<path d="M205.19 281.65H211.62V286.96H205.19Z" fill="#000097"/>
<path d="M210.82 281.65H216.44V286.96H210.82Z" fill="#000097"/>
<path d="M222.07 281.65H228.50V286.96H222.07Z" fill="#000097"/>
<path d="M227.70 281.65H233.33V286.96H227.70Z" fill="#000097"/>
<path d="M244.58 281.65H251.01V287.76H244.58Z" fill="#0000c5"/>
<path d="M250.21 281.65H256.64V287.76H250.21Z" fill="#0000f3"/>
<path d="M255.84 281.65H262.27V287.76H255.84Z" fill="#009eff"/>
<path d="M261.47 281.65H267.90V287.76H261.47Z" fill="#0061ff"/>
<path d="M267.10 281.65H273.52V287.76H267.10Z" fill="#0024ff"/>
<path d="M272.72 281.65H279.15V287.76H272.72Z" fill="#0061ff"/>
<path d="M278.35 281.65H284.78V287.76H278.35Z" fill="#009eff"/>
<path d="M283.98 281.65H290.41V287.76H283.98Z" fill="#0000f3"/>
<path d="M289.61 281.65H296.04V287.76H289.61Z" fill="#0000c5"/>
<path d="M295.24 281.65H300.86V287.76H295.24Z" fill="#0000c5"/>
<path d="M244.58 286.96H251.01V293.08H244.58Z" fill="#0000c5"/>
<path d="M250.21 286.96H256.64V293.08H250.21Z" fill="#0000f3"/>
<path d="M255.84 286.96H262.27V293.08H255.84Z" fill="#0061ff"/>
<path d="M261.47 286.96H267.90V293.08H261.47Z" fill="#0000f3"/>
<path d="M267.10 286.96H273.52V293.08H267.10Z" fill="#0000f3"/>
<path d="M272.72 286.96H279.15V293.08H272.72Z" fill="#0061ff"/>
<path d="M278.35 286.96H284.78V293.08H278.35Z" fill="#009eff"/>
<path d="M283.98 286.96H290.41V293.08H283.98Z" fill="#0000f3"/>
<path d="M289.61 286.96H296.04V292.28H295.24V293.08H289.61Z" fill="#0000f3"/>
<path d="M295.24 286.96H301.66V292.28H295.24Z" fill="#0000c5"/>
<path d="M300.86 286.96H306.49V293.08H300.86Z" fill="#000097"/>
<path d="M238.96 292.28H245.38V298.39H238.96Z" fill="#000097"/>
<path d="M244.58 292.28H251.01V298.39H244.58Z" fill="#0000c5"/>
<path d="M250.21 292.28H256.64V298.39H250.21Z" fill="#0000f3"/>
<path d="M255.84 292.28H262.27V298.39H255.84Z" fill="#0061ff"/>
<path d="M261.47 292.28H267.90V298.39H261.47Z" fill="#00dbff"/>
<path d="M267.10 292.28H273.52V298.39H267.10Z" fill="#0061ff"/>
<path d="M272.72 292.28H279.15V298.39H272.72Z" fill="#0024ff"/>
<path d="M278.35 292.28H284.78V298.39H278.35Z" fill="#0000f3"/>
<path d="M283.98 292.28H290.41V297.59H289.61V298.39H283.98Z" fill="#0000c5"/>
<path d="M289.61 292.28H295.24V297.59H289.61Z" fill="#0000c5"/>
<path d="M300.86 292.28H306.49V297.59H300.86Z" fill="#000097"/>
<path d="M233.33 297.59H239.76V302.90H233.33Z" fill="#000097"/>
<path d="M238.96 297.59H245.38V302.90H238.96Z" fill="#0000c5"/>
<path d="M244.58 297.59H251.01V302.90H244.58Z" fill="#0000c5"/>
<path d="M250.21 297.59H256.64V302.90H250.21Z" fill="#0024ff"/>
<path d="M255.84 297.59H262.27V303.70H255.84Z" fill="#29ffce"/>
<path d="M261.47 297.59H267.90V303.70H261.47Z" fill="#8cff6b"/>
<path d="M267.10 297.59H273.52V303.70H267.10Z" fill="#29ffce"/>
<path d="M272.72 297.59H279.15V302.90H278.35V303.70H272.72Z" fill="#00dbff"/>
<path d="M278.35 297.59H284.78V302.90H278.35Z" fill="#0000c5"/>
<path d="M283.98 297.59H289.61V302.90H283.98Z" fill="#0000c5"/>
<path d="M255.84 302.90H262.27V309.01H255.84Z" fill="#0000c5"/>
<path d="M261.47 302.90H267.90V309.01H261.47Z" fill="#0000f3"/>
<path d="M267.10 302.90H273.52V308.21H272.72V309.01H267.10Z" fill="#0000f3"/>
<path d="M272.72 302.90H278.35V308.21H272.72Z" fill="#0000c5"/>
<path d="M188.30 308.21H193.93V313.52H188.30Z" fill="#000097"/>
<path d="M216.44 308.21H222.07V313.52H216.44Z" fill="#000097"/>
<path d="M238.96 308.21H245.38V313.52H238.96Z" fill="#000097"/>
<path d="M244.58 308.21H251.01V314.32H244.58Z" fill="#0000c5"/>
<path d="M250.21 308.21H256.64V313.52H255.84V314.32H250.21Z" fill="#0000c5"/>
<path d="M255.84 308.21H262.27V313.52H255.84Z" fill="#0000c5"/>
<path d="M261.47 308.21H267.90V314.32H261.47Z" fill="#000097"/>
<path d="M267.10 308.21H272.72V314.32H267.10Z" fill="#0000c5"/>
<path d="M244.58 313.52H251.01V319.64H244.58Z" fill="#0000c5"/>
<path d="M250.21 313.52H255.84V319.64H250.21Z" fill="#0000c5"/>
<path d="M261.47 313.52H267.90V319.64H261.47Z" fill="#0000c5"/>
<path d="M267.10 313.52H273.52V319.64H267.10Z" fill="#0000f3"/>
<path d="M272.72 313.52H278.35V319.64H272.72Z" fill="#0000c5"/>
<path d="M244.58 318.84H251.01V324.15H244.58Z" fill="#0000c5"/>
<path d="M250.21 318.84H255.84V324.95H250.21Z" fill="#0000c5"/>
<path d="M261.47 318.84H267.90V324.95H261.47Z" fill="#0000c5"/>
<path d="M267.10 318.84H273.52V324.15H272.72V324.95H267.10Z" fill="#0000f3"/>
<path d="M272.72 318.84H278.35V324.15H272.72Z" fill="#0000c5"/>
<path d="M250.21 324.15H255.84V329.46H250.21Z" fill="#0000c5"/>
<path d="M261.47 324.15H267.90V329.46H261.47Z" fill="#000097"/>
<path d="M267.10 324.15H272.72V329.46H267.10Z" fill="#000097"/>
</g>
<line x1="87.0" y1="435.7" x2="509.1" y2="37.3" stroke="#000" stroke-width="1.15"/>
<rect x="87.0" y="37.3" width="422.1" height="398.4" fill="none" stroke="#000" stroke-width="1.06" stroke-opacity="0.8"/>
<line x1="87.0" y1="435.7" x2="87.0" y2="440.2" stroke="#000" stroke-width="1.06" stroke-opacity="0.8"/>
<line x1="87.0" y1="435.7" x2="82.5" y2="435.7" stroke="#000" stroke-width="1.06" stroke-opacity="0.8"/>
<line x1="227.7" y1="435.7" x2="227.7" y2="440.2" stroke="#000" stroke-width="1.06" stroke-opacity="0.8"/>
<line x1="87.0" y1="303.3" x2="82.5" y2="303.3" stroke="#000" stroke-width="1.06" stroke-opacity="0.8"/>
<line x1="368.4" y1="435.7" x2="368.4" y2="440.2" stroke="#000" stroke-width="1.06" stroke-opacity="0.8"/>
<line x1="87.0" y1="170.5" x2="82.5" y2="170.5" stroke="#000" stroke-width="1.06" stroke-opacity="0.8"/>
<line x1="509.1" y1="435.7" x2="509.1" y2="440.2" stroke="#000" stroke-width="1.06" stroke-opacity="0.8"/>
<line x1="87.0" y1="37.3" x2="82.5" y2="37.3" stroke="#000" stroke-width="1.06" stroke-opacity="0.8"/>
<text x="78.0" y="313.1" font-size="26.5" text-anchor="end">2.5</text>
<text x="78.0" y="180.3" font-size="26.5" text-anchor="end">5.0</text>
<text transform="translate(25,236.5) rotate(-90)" font-size="26.5" text-anchor="middle"><tspan class="it">h</tspan><tspan class="it" font-size="18.5" dy="4">c</tspan><tspan dy="-4"> [m]</tspan></text>
<text x="298.1" y="29.3" font-size="31.6" text-anchor="middle">video 1</text>
<text x="120.8" y="120.7" font-size="39.2">A</text>
<text x="284.0" y="356.0" font-size="18.35" fill="#222">RMSE=0.52m</text>
<text x="284.0" y="409.1" font-size="18.35" fill="#222">bias=0.17m</text>
<text x="171.4" y="409.1" font-size="18.35" fill="#222">49%</text>
</g>
<g id="panelB">
<g>
<path d="M772.78 127.60H779.20V133.72H772.78Z" fill="#000097"/>
<path d="M778.40 127.60H784.83V133.72H778.40Z" fill="#0000c5"/>
<path d="M784.03 127.60H789.66V133.72H784.03Z" fill="#000097"/>
<path d="M795.29 127.60H800.92V133.72H795.29Z" fill="#0000c5"/>
<path d="M772.78 132.92H779.20V138.23H778.40V139.03H772.78Z" fill="#000097"/>
<path d="M778.40 132.92H784.83V138.23H778.40Z" fill="#0000c5"/>
<path d="M784.03 132.92H790.46V139.03H784.03Z" fill="#0000c5"/>
<path d="M789.66 132.92H796.09V139.03H789.66Z" fill="#0000c5"/>
<path d="M795.29 132.92H801.72V138.23H800.92V139.03H795.29Z" fill="#0000c5"/>
<path d="M800.92 132.92H806.54V138.23H800.92Z" fill="#000097"/>
<path d="M772.78 138.23H778.40V143.54H772.78Z" fill="#000097"/>
<path d="M784.03 138.23H790.46V144.34H784.03Z" fill="#0000c5"/>
<path d="M789.66 138.23H796.09V144.34H789.66Z" fill="#0000c5"/>
<path d="M795.29 138.23H800.92V144.34H795.29Z" fill="#0000c5"/>
<path d="M778.40 143.54H784.83V149.65H778.40Z" fill="#000097"/>
<path d="M784.03 143.54H790.46V149.65H784.03Z" fill="#0000c5"/>
<path d="M789.66 143.54H796.09V149.65H789.66Z" fill="#0000c5"/>
<path d="M795.29 143.54H800.92V149.65H795.29Z" fill="#0000c5"/>
<path d="M778.40 148.85H784.83V154.96H778.40Z" fill="#000097"/>
<path d="M784.03 148.85H790.46V154.16H789.66V154.96H784.03Z" fill="#000097"/>
<path d="M789.66 148.85H796.09V154.16H789.66Z" fill="#0000c5"/>
<path d="M795.29 148.85H801.72V154.16H800.92V154.96H795.29Z" fill="#000097"/>
<path d="M800.92 148.85H806.54V154.16H800.92Z" fill="#000097"/>
<path d="M778.40 154.16H784.83V159.48H784.03V160.28H778.40Z" fill="#000097"/>
<path d="M784.03 154.16H789.66V159.48H784.03Z" fill="#000097"/>
<path d="M795.29 154.16H800.92V160.28H795.29Z" fill="#000097"/>
<path d="M767.15 159.48H773.58V165.59H767.15Z" fill="#000097"/>
<path d="M772.78 159.48H779.20V165.59H772.78Z" fill="#000097"/>
<path d="M778.40 159.48H784.03V165.59H778.40Z" fill="#000097"/>
<path d="M795.29 159.48H800.92V165.59H795.29Z" fill="#000097"/>
<path d="M806.54 159.48H812.17V165.59H806.54Z" fill="#000097"/>
<path d="M767.15 164.79H773.58V170.10H772.78V170.90H767.15Z" fill="#000097"/>
<path d="M772.78 164.79H779.20V170.10H772.78Z" fill="#000097"/>
<path d="M778.40 164.79H784.03V170.90H778.40Z" fill="#000097"/>
<path d="M789.66 164.79H796.09V170.90H789.66Z" fill="#000097"/>
<path d="M795.29 164.79H801.72V170.90H795.29Z" fill="#0000c5"/>
<path d="M800.92 164.79H807.34V170.90H800.92Z" fill="#0061ff"/>
<path d="M806.54 164.79H812.97V170.90H806.54Z" fill="#0061ff"/>
<path d="M812.17 164.79H818.60V170.10H817.80V170.90H812.17Z" fill="#0024ff"/>
<path d="M817.80 164.79H823.43V170.10H817.80Z" fill="#0000c5"/>
<path d="M829.06 164.79H834.68V170.10H829.06Z" fill="#000097"/>
<path d="M767.15 170.10H772.78V176.21H767.15Z" fill="#000097"/>
<path d="M778.40 170.10H784.83V176.21H778.40Z" fill="#000097"/>
<path d="M784.03 170.10H790.46V176.21H784.03Z" fill="#0000c5"/>
<path d="M789.66 170.10H796.09V176.21H789.66Z" fill="#0000c5"/>
<path d="M795.29 170.10H801.72V176.21H795.29Z" fill="#0000c5"/>
<path d="M800.92 170.10H807.34V176.21H800.92Z" fill="#0000f3"/>
<path d="M806.54 170.10H812.97V176.21H806.54Z" fill="#0000f3"/>
<path d="M812.17 170.10H817.80V176.21H812.17Z" fill="#0000f3"/>
<path d="M823.43 170.10H829.06V175.41H823.43Z" fill="#000097"/>
<path d="M767.15 175.41H772.78V180.72H767.15Z" fill="#000097"/>
<path d="M778.40 175.41H784.83V181.52H778.40Z" fill="#000097"/>
<path d="M784.03 175.41H790.46V181.52H784.03Z" fill="#0000f3"/>
<path d="M789.66 175.41H796.09V181.52H789.66Z" fill="#00dbff"/>
<path d="M795.29 175.41H801.72V181.52H795.29Z" fill="#29ffce"/>
<path d="M800.92 175.41H807.34V181.52H800.92Z" fill="#29ffce"/>
<path d="M806.54 175.41H812.97V181.52H806.54Z" fill="#29ffce"/>
<path d="M812.17 175.41H818.60V181.52H812.17Z" fill="#0000f3"/>
<path d="M817.80 175.41H823.43V181.52H817.80Z" fill="#0000c5"/>
<path d="M761.52 180.72H767.15V186.04H761.52Z" fill="#000097"/>
<path d="M772.78 180.72H779.20V186.84H772.78Z" fill="#0000c5"/>
<path d="M778.40 180.72H784.83V186.84H778.40Z" fill="#000097"/>
<path d="M784.03 180.72H790.46V186.84H784.03Z" fill="#0024ff"/>
<path d="M789.66 180.72H796.09V186.84H789.66Z" fill="#29ffce"/>
<path d="M795.29 180.72H801.72V186.84H795.29Z" fill="#ffc600"/>
<path d="M800.92 180.72H807.34V186.84H800.92Z" fill="#ff5500"/>
<path d="M806.54 180.72H812.97V186.84H806.54Z" fill="#8cff6b"/>
<path d="M812.17 180.72H818.60V186.84H812.17Z" fill="#00dbff"/>
<path d="M817.80 180.72H824.23V186.84H817.80Z" fill="#0000f3"/>
<path d="M823.43 180.72H829.06V186.84H823.43Z" fill="#0000c5"/>
<path d="M755.89 186.04H761.52V192.15H755.89Z" fill="#000097"/>
<path d="M767.15 186.04H773.58V192.15H767.15Z" fill="#000097"/>
<path d="M772.78 186.04H779.20V192.15H772.78Z" fill="#0000f3"/>
<path d="M778.40 186.04H784.83V192.15H778.40Z" fill="#29ffce"/>
<path d="M784.03 186.04H790.46V192.15H784.03Z" fill="#8cff6b"/>
<path d="M789.66 186.04H796.09V192.15H789.66Z" fill="#ffc600"/>
<path d="M795.29 186.04H801.72V192.15H795.29Z" fill="#ffc600"/>
<path d="M800.92 186.04H807.34V192.15H800.92Z" fill="#ff1c00"/>
<path d="M806.54 186.04H812.97V192.15H806.54Z" fill="#ff1c00"/>
<path d="M812.17 186.04H818.60V192.15H812.17Z" fill="#00dbff"/>
<path d="M817.80 186.04H824.23V192.15H817.80Z" fill="#0000f3"/>
<path d="M823.43 186.04H829.06V192.15H823.43Z" fill="#0000c5"/>
<path d="M834.68 186.04H840.31V191.35H834.68Z" fill="#000097"/>
<path d="M750.26 191.35H756.69V197.46H750.26Z" fill="#000097"/>
<path d="M755.89 191.35H762.32V197.46H755.89Z" fill="#000097"/>
<path d="M761.52 191.35H767.95V197.46H761.52Z" fill="#000097"/>
<path d="M767.15 191.35H773.58V197.46H767.15Z" fill="#0061ff"/>
<path d="M772.78 191.35H779.20V197.46H772.78Z" fill="#00dbff"/>
<path d="M778.40 191.35H784.83V197.46H778.40Z" fill="#ff1c00"/>
<path d="M784.03 191.35H790.46V197.46H784.03Z" fill="#800000"/>
<path d="M789.66 191.35H796.09V197.46H789.66Z" fill="#ff1c00"/>
<path d="M795.29 191.35H801.72V197.46H795.29Z" fill="#ff5500"/>
<path d="M800.92 191.35H807.34V197.46H800.92Z" fill="#bdff3a"/>
<path d="M806.54 191.35H812.97V197.46H806.54Z" fill="#efff08"/>
<path d="M812.17 191.35H818.60V197.46H812.17Z" fill="#0061ff"/>
<path d="M817.80 191.35H824.23V196.66H823.43V197.46H817.80Z" fill="#0000f3"/>
<path d="M823.43 191.35H829.06V196.66H823.43Z" fill="#0000c5"/>
<path d="M744.64 196.66H751.06V201.97H744.64Z" fill="#000097"/>
<path d="M750.26 196.66H756.69V202.77H750.26Z" fill="#000097"/>
<path d="M755.89 196.66H762.32V202.77H755.89Z" fill="#0000c5"/>
<path d="M761.52 196.66H767.95V202.77H761.52Z" fill="#0000f3"/>
<path d="M767.15 196.66H773.58V202.77H767.15Z" fill="#00dbff"/>
<path d="M772.78 196.66H779.20V202.77H772.78Z" fill="#ffc600"/>
<path d="M778.40 196.66H784.83V202.77H778.40Z" fill="#c50000"/>
<path d="M784.03 196.66H790.46V202.77H784.03Z" fill="#c50000"/>
<path d="M789.66 196.66H796.09V202.77H789.66Z" fill="#ff5500"/>
<path d="M795.29 196.66H801.72V202.77H795.29Z" fill="#8cff6b"/>
<path d="M800.92 196.66H807.34V202.77H800.92Z" fill="#8cff6b"/>
<path d="M806.54 196.66H812.97V202.77H806.54Z" fill="#00dbff"/>
<path d="M812.17 196.66H818.60V202.77H812.17Z" fill="#0000f3"/>
<path d="M817.80 196.66H823.43V202.77H817.80Z" fill="#0000c5"/>
<path d="M829.06 196.66H834.68V201.97H829.06Z" fill="#000097"/>
<path d="M699.61 201.97H705.24V207.28H699.61Z" fill="#000097"/>
<path d="M750.26 201.97H756.69V208.08H750.26Z" fill="#000097"/>
<path d="M755.89 201.97H762.32V208.08H755.89Z" fill="#0000c5"/>
<path d="M761.52 201.97H767.95V208.08H761.52Z" fill="#0000f3"/>
<path d="M767.15 201.97H773.58V208.08H767.15Z" fill="#29ffce"/>
<path d="M772.78 201.97H779.20V208.08H772.78Z" fill="#efff08"/>
<path d="M778.40 201.97H784.83V208.08H778.40Z" fill="#8cff6b"/>
<path d="M784.03 201.97H790.46V208.08H784.03Z" fill="#bdff3a"/>
<path d="M789.66 201.97H796.09V208.08H789.66Z" fill="#ff1c00"/>
<path d="M795.29 201.97H801.72V208.08H795.29Z" fill="#ff8e00"/>
<path d="M800.92 201.97H807.34V208.08H800.92Z" fill="#8cff6b"/>
<path d="M806.54 201.97H812.97V208.08H806.54Z" fill="#00dbff"/>
<path d="M812.17 201.97H818.60V208.08H812.17Z" fill="#0000c5"/>
<path d="M817.80 201.97H823.43V208.08H817.80Z" fill="#0000f3"/>
<path d="M705.24 207.28H711.67V213.40H705.24Z" fill="#000097"/>
<path d="M710.87 207.28H717.30V212.60H716.50V213.40H710.87Z" fill="#000097"/>
<path d="M716.50 207.28H722.92V212.60H716.50Z" fill="#000097"/>
<path d="M722.12 207.28H727.75V212.60H722.12Z" fill="#000097"/>
<path d="M739.01 207.28H745.44V213.40H739.01Z" fill="#000097"/>
<path d="M744.64 207.28H751.06V213.40H744.64Z" fill="#000097"/>
<path d="M750.26 207.28H756.69V213.40H750.26Z" fill="#0000c5"/>
<path d="M755.89 207.28H762.32V213.40H755.89Z" fill="#0000c5"/>
<path d="M761.52 207.28H767.95V213.40H761.52Z" fill="#bdff3a"/>
<path d="M767.15 207.28H773.58V213.40H767.15Z" fill="#ff5500"/>
<path d="M772.78 207.28H779.20V213.40H772.78Z" fill="#c50000"/>
<path d="M778.40 207.28H784.83V213.40H778.40Z" fill="#ff1c00"/>
<path d="M784.03 207.28H790.46V213.40H784.03Z" fill="#efff08"/>
<path d="M789.66 207.28H796.09V213.40H789.66Z" fill="#29ffce"/>
<path d="M795.29 207.28H801.72V213.40H795.29Z" fill="#5aff9c"/>
<path d="M800.92 207.28H807.34V213.40H800.92Z" fill="#29ffce"/>
<path d="M806.54 207.28H812.97V213.40H806.54Z" fill="#0000c5"/>
<path d="M812.17 207.28H818.60V213.40H812.17Z" fill="#0024ff"/>
<path d="M817.80 207.28H824.23V213.40H817.80Z" fill="#0000c5"/>
<path d="M823.43 207.28H829.06V213.40H823.43Z" fill="#000097"/>
<path d="M705.24 212.60H711.67V218.71H705.24Z" fill="#000097"/>
<path d="M710.87 212.60H716.50V218.71H710.87Z" fill="#000097"/>
<path d="M733.38 212.60H739.81V218.71H733.38Z" fill="#000097"/>
<path d="M739.01 212.60H745.44V218.71H739.01Z" fill="#0000c5"/>
<path d="M744.64 212.60H751.06V218.71H744.64Z" fill="#0024ff"/>
<path d="M750.26 212.60H756.69V218.71H750.26Z" fill="#29ffce"/>
<path d="M755.89 212.60H762.32V218.71H755.89Z" fill="#29ffce"/>
<path d="M761.52 212.60H767.95V218.71H761.52Z" fill="#009eff"/>
<path d="M767.15 212.60H773.58V218.71H767.15Z" fill="#8cff6b"/>
<path d="M772.78 212.60H779.20V218.71H772.78Z" fill="#bdff3a"/>
<path d="M778.40 212.60H784.83V218.71H778.40Z" fill="#00dbff"/>
<path d="M784.03 212.60H790.46V218.71H784.03Z" fill="#bdff3a"/>
<path d="M789.66 212.60H796.09V218.71H789.66Z" fill="#29ffce"/>
<path d="M795.29 212.60H801.72V218.71H795.29Z" fill="#00dbff"/>
<path d="M800.92 212.60H807.34V218.71H800.92Z" fill="#0024ff"/>
<path d="M806.54 212.60H812.97V218.71H806.54Z" fill="#0000f3"/>
<path d="M812.17 212.60H818.60V218.71H812.17Z" fill="#0000c5"/>
<path d="M817.80 212.60H824.23V218.71H817.80Z" fill="#0000c5"/>
<path d="M823.43 212.60H829.06V218.71H823.43Z" fill="#000097"/>
<path d="M677.10 217.91H682.73V223.22H677.10Z" fill="#000097"/>
<path d="M688.36 217.91H694.78V224.02H688.36Z" fill="#000097"/>
<path d="M693.98 217.91H700.41V224.02H693.98Z" fill="#0000c5"/>
<path d="M699.61 217.91H706.04V224.02H699.61Z" fill="#0000c5"/>
<path d="M705.24 217.91H711.67V224.02H705.24Z" fill="#0000c5"/>
<path d="M710.87 217.91H717.30V224.02H710.87Z" fill="#0024ff"/>
<path d="M716.50 217.91H722.12V224.02H716.50Z" fill="#0000c5"/>
<path d="M727.75 217.91H734.18V223.22H727.75Z" fill="#000097"/>
<path d="M733.38 217.91H739.81V224.02H733.38Z" fill="#000097"/>
<path d="M739.01 217.91H745.44V224.02H739.01Z" fill="#0000c5"/>
<path d="M744.64 217.91H751.06V224.02H744.64Z" fill="#0061ff"/>
<path d="M750.26 217.91H756.69V224.02H750.26Z" fill="#0061ff"/>
<path d="M755.89 217.91H762.32V224.02H755.89Z" fill="#009eff"/>
<path d="M761.52 217.91H767.95V224.02H761.52Z" fill="#00dbff"/>
<path d="M767.15 217.91H773.58V224.02H767.15Z" fill="#8cff6b"/>
<path d="M772.78 217.91H779.20V224.02H772.78Z" fill="#ffc600"/>
<path d="M778.40 217.91H784.83V224.02H778.40Z" fill="#ffc600"/>
<path d="M784.03 217.91H790.46V224.02H784.03Z" fill="#29ffce"/>
<path d="M789.66 217.91H796.09V224.02H789.66Z" fill="#009eff"/>
<path d="M795.29 217.91H801.72V224.02H795.29Z" fill="#0024ff"/>
<path d="M800.92 217.91H807.34V224.02H800.92Z" fill="#0000f3"/>
<path d="M806.54 217.91H812.97V224.02H806.54Z" fill="#0000c5"/>
<path d="M812.17 217.91H818.60V224.02H812.17Z" fill="#0000c5"/>
<path d="M817.80 217.91H824.23V224.02H817.80Z" fill="#0000c5"/>
<path d="M823.43 217.91H829.86V224.02H823.43Z" fill="#000097"/>
<path d="M829.06 217.91H834.68V224.02H829.06Z" fill="#000097"/>
<path d="M682.73 223.22H689.16V229.33H682.73Z" fill="#000097"/>
<path d="M688.36 223.22H694.78V229.33H688.36Z" fill="#000097"/>
<path d="M693.98 223.22H700.41V229.33H693.98Z" fill="#0000c5"/>
<path d="M699.61 223.22H706.04V229.33H699.61Z" fill="#0000c5"/>
<path d="M705.24 223.22H711.67V229.33H705.24Z" fill="#0000c5"/>
<path d="M710.87 223.22H717.30V229.33H710.87Z" fill="#0000c5"/>
<path d="M716.50 223.22H722.12V229.33H716.50Z" fill="#0000c5"/>
<path d="M733.38 223.22H739.81V229.33H733.38Z" fill="#000097"/>
<path d="M739.01 223.22H745.44V229.33H739.01Z" fill="#0000c5"/>
<path d="M744.64 223.22H751.06V229.33H744.64Z" fill="#29ffce"/>
<path d="M750.26 223.22H756.69V229.33H750.26Z" fill="#5aff9c"/>
<path d="M755.89 223.22H762.32V229.33H755.89Z" fill="#29ffce"/>
<path d="M761.52 223.22H767.95V229.33H761.52Z" fill="#5aff9c"/>
<path d="M767.15 223.22H773.58V229.33H767.15Z" fill="#8cff6b"/>
<path d="M772.78 223.22H779.20V229.33H772.78Z" fill="#8cff6b"/>
<path d="M778.40 223.22H784.83V229.33H778.40Z" fill="#29ffce"/>
<path d="M784.03 223.22H790.46V229.33H784.03Z" fill="#009eff"/>
<path d="M789.66 223.22H796.09V229.33H789.66Z" fill="#0000f3"/>
<path d="M795.29 223.22H801.72V229.33H795.29Z" fill="#0000f3"/>
<path d="M800.92 223.22H807.34V229.33H800.92Z" fill="#0000c5"/>
<path d="M806.54 223.22H812.97V228.53H812.17V229.33H806.54Z" fill="#0000c5"/>
<path d="M812.17 223.22H818.60V228.53H812.17Z" fill="#0000f3"/>
<path d="M817.80 223.22H824.23V228.53H817.80Z" fill="#0024ff"/>
<path d="M823.43 223.22H829.86V228.53H823.43Z" fill="#0000c5"/>
<path d="M829.06 223.22H834.68V228.53H829.06Z" fill="#000097"/>
<path d="M648.96 228.53H654.59V233.84H648.96Z" fill="#000097"/>
<path d="M677.10 228.53H683.53V234.64H677.10Z" fill="#0000c5"/>
<path d="M682.73 228.53H689.16V234.64H682.73Z" fill="#0000c5"/>
<path d="M688.36 228.53H694.78V233.84H693.98V234.64H688.36Z" fill="#0000c5"/>
<path d="M693.98 228.53H700.41V233.84H693.98Z" fill="#0000c5"/>
<path d="M699.61 228.53H706.04V234.64H699.61Z" fill="#0000c5"/>
<path d="M705.24 228.53H711.67V234.64H705.24Z" fill="#0000c5"/>
<path d="M710.87 228.53H717.30V234.64H710.87Z" fill="#0000c5"/>
<path d="M716.50 228.53H722.92V234.64H716.50Z" fill="#0024ff"/>
<path d="M722.12 228.53H728.55V234.64H722.12Z" fill="#0000c5"/>
<path d="M727.75 228.53H734.18V234.64H727.75Z" fill="#000097"/>
<path d="M733.38 228.53H739.81V234.64H733.38Z" fill="#0000c5"/>
<path d="M739.01 228.53H745.44V234.64H739.01Z" fill="#0000c5"/>
<path d="M744.64 228.53H751.06V234.64H744.64Z" fill="#0000f3"/>
<path d="M750.26 228.53H756.69V234.64H750.26Z" fill="#009eff"/>
<path d="M755.89 228.53H762.32V234.64H755.89Z" fill="#29ffce"/>
<path d="M761.52 228.53H767.95V234.64H761.52Z" fill="#5aff9c"/>
<path d="M767.15 228.53H773.58V234.64H767.15Z" fill="#29ffce"/>
<path d="M772.78 228.53H779.20V234.64H772.78Z" fill="#009eff"/>
<path d="M778.40 228.53H784.83V234.64H778.40Z" fill="#0000f3"/>
<path d="M784.03 228.53H790.46V233.84H789.66V234.64H784.03Z" fill="#0000c5"/>
<path d="M789.66 228.53H796.09V233.84H789.66Z" fill="#000097"/>
<path d="M795.29 228.53H801.72V233.84H800.92V234.64H795.29Z" fill="#0000c5"/>
<path d="M800.92 228.53H807.34V233.84H800.92Z" fill="#0000c5"/>
<path d="M806.54 228.53H812.17V233.84H806.54Z" fill="#000097"/>
<path d="M643.33 233.84H648.96V239.96H643.33Z" fill="#000097"/>
<path d="M677.10 233.84H683.53V239.16H677.10Z" fill="#0000c5"/>
<path d="M682.73 233.84H689.16V239.16H688.36V239.96H682.73Z" fill="#0000c5"/>
<path d="M688.36 233.84H693.98V239.16H688.36Z" fill="#0000c5"/>
<path d="M699.61 233.84H706.04V239.96H699.61Z" fill="#0000c5"/>
<path d="M705.24 233.84H711.67V239.96H705.24Z" fill="#0000f3"/>
<path d="M710.87 233.84H717.30V239.96H710.87Z" fill="#0000c5"/>
<path d="M716.50 233.84H722.92V239.96H716.50Z" fill="#0000f3"/>
<path d="M722.12 233.84H728.55V239.96H722.12Z" fill="#000097"/>
<path d="M727.75 233.84H734.18V239.96H727.75Z" fill="#0000c5"/>
<path d="M733.38 233.84H739.81V239.96H733.38Z" fill="#0000c5"/>
<path d="M739.01 233.84H745.44V239.96H739.01Z" fill="#0000f3"/>
<path d="M744.64 233.84H751.06V239.96H744.64Z" fill="#0024ff"/>
<path d="M750.26 233.84H756.69V239.96H750.26Z" fill="#00dbff"/>
<path d="M755.89 233.84H762.32V239.96H755.89Z" fill="#00dbff"/>
<path d="M761.52 233.84H767.95V239.96H761.52Z" fill="#29ffce"/>
<path d="M767.15 233.84H773.58V239.96H767.15Z" fill="#0024ff"/>
<path d="M772.78 233.84H779.20V239.96H772.78Z" fill="#0000f3"/>
<path d="M778.40 233.84H784.83V239.16H784.03V239.96H778.40Z" fill="#0000c5"/>
<path d="M784.03 233.84H789.66V239.16H784.03Z" fill="#0000c5"/>
<path d="M795.29 233.84H800.92V239.16H795.29Z" fill="#000097"/>
<path d="M632.08 239.16H637.70V244.47H632.08Z" fill="#000097"/>
<path d="M643.33 239.16H649.76V244.47H643.33Z" fill="#0000f3"/>
<path d="M648.96 239.16H655.39V244.47H648.96Z" fill="#000097"/>
<path d="M654.59 239.16H660.22V245.27H654.59Z" fill="#000097"/>
<path d="M665.84 239.16H672.27V244.47H665.84Z" fill="#000097"/>
<path d="M671.47 239.16H677.10V245.27H671.47Z" fill="#000097"/>
<path d="M682.73 239.16H688.36V245.27H682.73Z" fill="#0000c5"/>
<path d="M693.98 239.16H700.41V245.27H693.98Z" fill="#0000c5"/>
<path d="M699.61 239.16H706.04V245.27H699.61Z" fill="#0024ff"/>
<path d="M705.24 239.16H711.67V245.27H705.24Z" fill="#29ffce"/>
<path d="M710.87 239.16H717.30V245.27H710.87Z" fill="#29ffce"/>
<path d="M716.50 239.16H722.92V245.27H716.50Z" fill="#00dbff"/>
<path d="M722.12 239.16H728.55V245.27H722.12Z" fill="#0000f3"/>
<path d="M727.75 239.16H734.18V245.27H727.75Z" fill="#0000c5"/>
<path d="M733.38 239.16H739.81V245.27H733.38Z" fill="#0000c5"/>
<path d="M739.01 239.16H745.44V245.27H739.01Z" fill="#0000c5"/>
<path d="M744.64 239.16H751.06V245.27H744.64Z" fill="#0061ff"/>
<path d="M750.26 239.16H756.69V245.27H750.26Z" fill="#0024ff"/>
<path d="M755.89 239.16H762.32V245.27H755.89Z" fill="#0024ff"/>
<path d="M761.52 239.16H767.95V245.27H761.52Z" fill="#0024ff"/>
<path d="M767.15 239.16H773.58V245.27H767.15Z" fill="#0000f3"/>
<path d="M772.78 239.16H779.20V245.27H772.78Z" fill="#0000c5"/>
<path d="M778.40 239.16H784.03V245.27H778.40Z" fill="#0000c5"/>
<path d="M637.70 244.47H643.33V250.58H637.70Z" fill="#000097"/>
<path d="M654.59 244.47H660.22V249.78H654.59Z" fill="#000097"/>
<path d="M671.47 244.47H677.10V249.78H671.47Z" fill="#000097"/>
<path d="M682.73 244.47H689.16V250.58H682.73Z" fill="#0000c5"/>
<path d="M688.36 244.47H694.78V250.58H688.36Z" fill="#0000c5"/>
<path d="M693.98 244.47H700.41V250.58H693.98Z" fill="#0000c5"/>
<path d="M699.61 244.47H706.04V250.58H699.61Z" fill="#0000f3"/>
<path d="M705.24 244.47H711.67V250.58H705.24Z" fill="#009eff"/>
<path d="M710.87 244.47H717.30V250.58H710.87Z" fill="#5aff9c"/>
<path d="M716.50 244.47H722.92V250.58H716.50Z" fill="#bdff3a"/>
<path d="M722.12 244.47H728.55V250.58H722.12Z" fill="#0061ff"/>
<path d="M727.75 244.47H734.18V250.58H727.75Z" fill="#0000f3"/>
<path d="M733.38 244.47H739.81V250.58H733.38Z" fill="#0024ff"/>
<path d="M739.01 244.47H745.44V250.58H739.01Z" fill="#0061ff"/>
<path d="M744.64 244.47H751.06V250.58H744.64Z" fill="#0000f3"/>
<path d="M750.26 244.47H756.69V250.58H750.26Z" fill="#0000f3"/>
<path d="M755.89 244.47H762.32V250.58H755.89Z" fill="#0000c5"/>
<path d="M761.52 244.47H767.95V249.78H767.15V250.58H761.52Z" fill="#0000c5"/>
<path d="M767.15 244.47H773.58V249.78H767.15Z" fill="#0000c5"/>
<path d="M772.78 244.47H779.20V249.78H772.78Z" fill="#0000c5"/>
<path d="M778.40 244.47H784.83V249.78H784.03V250.58H778.40Z" fill="#0000c5"/>
<path d="M784.03 244.47H790.46V249.78H784.03Z" fill="#0000c5"/>
<path d="M789.66 244.47H795.29V249.78H789.66Z" fill="#0000c5"/>
<path d="M637.70 249.78H644.13V255.09H637.70Z" fill="#000097"/>
<path d="M643.33 249.78H648.96V255.09H643.33Z" fill="#000097"/>
<path d="M665.84 249.78H671.47V255.09H665.84Z" fill="#000097"/>
<path d="M677.10 249.78H683.53V255.09H677.10Z" fill="#000097"/>
<path d="M682.73 249.78H689.16V255.09H682.73Z" fill="#0000c5"/>
<path d="M688.36 249.78H694.78V255.89H688.36Z" fill="#0000c5"/>
<path d="M693.98 249.78H700.41V255.89H693.98Z" fill="#0000c5"/>
<path d="M699.61 249.78H706.04V255.89H699.61Z" fill="#0000f3"/>
<path d="M705.24 249.78H711.67V255.89H705.24Z" fill="#0061ff"/>
<path d="M710.87 249.78H717.30V255.89H710.87Z" fill="#8cff6b"/>
<path d="M716.50 249.78H722.92V255.89H716.50Z" fill="#29ffce"/>
<path d="M722.12 249.78H728.55V255.89H722.12Z" fill="#0024ff"/>
<path d="M727.75 249.78H734.18V255.89H727.75Z" fill="#0000f3"/>
<path d="M733.38 249.78H739.81V255.89H733.38Z" fill="#0061ff"/>
<path d="M739.01 249.78H745.44V255.89H739.01Z" fill="#0061ff"/>
<path d="M744.64 249.78H751.06V255.89H744.64Z" fill="#0000f3"/>
<path d="M750.26 249.78H756.69V255.89H750.26Z" fill="#0000c5"/>
<path d="M755.89 249.78H762.32V255.09H761.52V255.89H755.89Z" fill="#0000c5"/>
<path d="M761.52 249.78H767.15V255.09H761.52Z" fill="#0000c5"/>
<path d="M778.40 249.78H784.03V255.09H778.40Z" fill="#000097"/>
<path d="M648.96 255.09H654.59V261.20H648.96Z" fill="#000097"/>
<path d="M688.36 255.09H694.78V260.40H688.36Z" fill="#000097"/>
<path d="M693.98 255.09H700.41V260.40H693.98Z" fill="#0000c5"/>
<path d="M699.61 255.09H706.04V261.20H699.61Z" fill="#0000f3"/>
<path d="M705.24 255.09H711.67V261.20H705.24Z" fill="#0024ff"/>
<path d="M710.87 255.09H717.30V261.20H710.87Z" fill="#29ffce"/>
<path d="M716.50 255.09H722.92V261.20H716.50Z" fill="#009eff"/>
<path d="M722.12 255.09H728.55V261.20H722.12Z" fill="#0061ff"/>
<path d="M727.75 255.09H734.18V261.20H727.75Z" fill="#009eff"/>
<path d="M733.38 255.09H739.81V261.20H733.38Z" fill="#009eff"/>
<path d="M739.01 255.09H745.44V261.20H739.01Z" fill="#0061ff"/>
<path d="M744.64 255.09H751.06V260.40H750.26V261.20H744.64Z" fill="#0000f3"/>
<path d="M750.26 255.09H756.69V260.40H750.26Z" fill="#000097"/>
<path d="M755.89 255.09H761.52V260.40H755.89Z" fill="#000097"/>
<path d="M648.96 260.40H654.59V266.52H648.96Z" fill="#000097"/>
<path d="M699.61 260.40H706.04V266.52H699.61Z" fill="#0000c5"/>
<path d="M705.24 260.40H711.67V266.52H705.24Z" fill="#0000f3"/>
<path d="M710.87 260.40H717.30V266.52H710.87Z" fill="#0000c5"/>
<path d="M716.50 260.40H722.92V266.52H716.50Z" fill="#00dbff"/>
<path d="M722.12 260.40H728.55V266.52H722.12Z" fill="#29ffce"/>
<path d="M727.75 260.40H734.18V266.52H727.75Z" fill="#29ffce"/>
<path d="M733.38 260.40H739.81V266.52H733.38Z" fill="#0061ff"/>
<path d="M739.01 260.40H745.44V266.52H739.01Z" fill="#0000c5"/>
<path d="M744.64 260.40H750.26V266.52H744.64Z" fill="#0000c5"/>
<path d="M648.96 265.72H654.59V271.83H648.96Z" fill="#000097"/>
<path d="M699.61 265.72H706.04V271.83H699.61Z" fill="#0000f3"/>
<path d="M705.24 265.72H711.67V271.83H705.24Z" fill="#0000c5"/>
<path d="M710.87 265.72H717.30V271.83H710.87Z" fill="#0000f3"/>
<path d="M716.50 265.72H722.92V271.83H716.50Z" fill="#0024ff"/>
<path d="M722.12 265.72H728.55V271.83H722.12Z" fill="#0061ff"/>
<path d="M727.75 265.72H734.18V271.83H727.75Z" fill="#0061ff"/>
<path d="M733.38 265.72H739.81V271.83H733.38Z" fill="#0061ff"/>
<path d="M739.01 265.72H745.44V271.03H744.64V271.83H739.01Z" fill="#0061ff"/>
<path d="M744.64 265.72H751.06V271.03H744.64Z" fill="#0000f3"/>
<path d="M750.26 265.72H755.89V271.03H750.26Z" fill="#000097"/>
<path d="M643.33 271.03H649.76V277.14H643.33Z" fill="#000097"/>
<path d="M648.96 271.03H654.59V277.14H648.96Z" fill="#000097"/>
<path d="M693.98 271.03H700.41V276.34H693.98Z" fill="#000097"/>
<path d="M699.61 271.03H706.04V277.14H699.61Z" fill="#0000f3"/>
<path d="M705.24 271.03H711.67V277.14H705.24Z" fill="#0061ff"/>
<path d="M710.87 271.03H717.30V277.14H710.87Z" fill="#29ffce"/>
<path d="M716.50 271.03H722.92V277.14H716.50Z" fill="#5aff9c"/>
<path d="M722.12 271.03H728.55V277.14H722.12Z" fill="#5aff9c"/>
<path d="M727.75 271.03H734.18V277.14H727.75Z" fill="#0024ff"/>
<path d="M733.38 271.03H739.81V277.14H733.38Z" fill="#0000f3"/>
<path d="M739.01 271.03H744.64V277.14H739.01Z" fill="#0000f3"/>
<path d="M592.68 276.34H598.31V281.65H592.68Z" fill="#000097"/>
<path d="M643.33 276.34H649.76V282.45H643.33Z" fill="#000097"/>
<path d="M648.96 276.34H654.59V282.45H648.96Z" fill="#000097"/>
<path d="M699.61 276.34H706.04V282.45H699.61Z" fill="#0061ff"/>
<path d="M705.24 276.34H711.67V282.45H705.24Z" fill="#29ffce"/>
<path d="M710.87 276.34H717.30V282.45H710.87Z" fill="#29ffce"/>
<path d="M716.50 276.34H722.92V282.45H716.50Z" fill="#bdff3a"/>
<path d="M722.12 276.34H728.55V282.45H722.12Z" fill="#0061ff"/>
<path d="M727.75 276.34H734.18V282.45H727.75Z" fill="#0000f3"/>
<path d="M733.38 276.34H739.81V281.65H739.01V282.45H733.38Z" fill="#0000c5"/>
<path d="M739.01 276.34H744.64V281.65H739.01Z" fill="#0000c5"/>
<path d="M750.26 276.34H755.89V281.65H750.26Z" fill="#000097"/>
<path d="M643.33 281.65H649.76V287.76H643.33Z" fill="#000097"/>
<path d="M648.96 281.65H654.59V287.76H648.96Z" fill="#000097"/>
<path d="M693.98 281.65H700.41V287.76H693.98Z" fill="#000097"/>
<path d="M699.61 281.65H706.04V287.76H699.61Z" fill="#0000f3"/>
<path d="M705.24 281.65H711.67V287.76H705.24Z" fill="#0061ff"/>
<path d="M710.87 281.65H717.30V287.76H710.87Z" fill="#5aff9c"/>
<path d="M716.50 281.65H722.92V287.76H716.50Z" fill="#0061ff"/>
<path d="M722.12 281.65H728.55V287.76H722.12Z" fill="#0000f3"/>
<path d="M727.75 281.65H734.18V287.76H727.75Z" fill="#0000c5"/>
<path d="M733.38 281.65H739.01V287.76H733.38Z" fill="#0000c5"/>
<path d="M744.64 281.65H750.26V287.76H744.64Z" fill="#000097"/>
<path d="M637.70 286.96H644.13V292.28H637.70Z" fill="#000097"/>
<path d="M643.33 286.96H649.76V292.28H648.96V293.08H643.33Z" fill="#0000f3"/>
<path d="M648.96 286.96H655.39V292.28H648.96Z" fill="#000097"/>
<path d="M654.59 286.96H661.02V292.28H660.22V293.08H654.59Z" fill="#000097"/>
<path d="M660.22 286.96H665.84V292.28H660.22Z" fill="#000097"/>
<path d="M693.98 286.96H700.41V293.08H693.98Z" fill="#000097"/>
<path d="M699.61 286.96H706.04V293.08H699.61Z" fill="#0000c5"/>
<path d="M705.24 286.96H711.67V293.08H705.24Z" fill="#0000c5"/>
<path d="M710.87 286.96H717.30V293.08H710.87Z" fill="#0000f3"/>
<path d="M716.50 286.96H722.92V292.28H722.12V293.08H716.50Z" fill="#0000f3"/>
<path d="M722.12 286.96H728.55V292.28H722.12Z" fill="#0000f3"/>
<path d="M727.75 286.96H734.18V292.28H727.75Z" fill="#0061ff"/>
<path d="M733.38 286.96H739.81V292.28H733.38Z" fill="#0000c5"/>
<path d="M739.01 286.96H745.44V292.28H739.01Z" fill="#0000c5"/>
<path d="M744.64 286.96H750.26V292.28H744.64Z" fill="#0000c5"/>
<path d="M643.33 292.28H648.96V298.39H643.33Z" fill="#000097"/>
<path d="M654.59 292.28H660.22V298.39H654.59Z" fill="#000097"/>
<path d="M665.84 292.28H671.47V297.59H665.84Z" fill="#000097"/>
<path d="M693.98 292.28H700.41V297.59H693.98Z" fill="#000097"/>
<path d="M699.61 292.28H706.04V297.59H699.61Z" fill="#000097"/>
<path d="M705.24 292.28H711.67V297.59H705.24Z" fill="#0000c5"/>
<path d="M710.87 292.28H717.30V297.59H710.87Z" fill="#0000c5"/>
<path d="M716.50 292.28H722.12V297.59H716.50Z" fill="#0000c5"/>
<path d="M643.33 297.59H648.96V303.70H643.33Z" fill="#000097"/>
<path d="M654.59 297.59H661.02V302.90H654.59Z" fill="#000097"/>
<path d="M660.22 297.59H665.84V303.70H660.22Z" fill="#000097"/>
<path d="M688.36 297.59H693.98V303.70H688.36Z" fill="#000097"/>
<path d="M643.33 302.90H648.96V309.01H643.33Z" fill="#000097"/>
<path d="M660.22 302.90H666.64V309.01H660.22Z" fill="#000097"/>
<path d="M665.84 302.90H671.47V309.01H665.84Z" fill="#000097"/>
<path d="M682.73 302.90H689.16V308.21H682.73Z" fill="#000097"/>
<path d="M688.36 302.90H693.98V308.21H688.36Z" fill="#000097"/>
<path d="M637.70 308.21H644.13V314.32H637.70Z" fill="#000097"/>
<path d="M643.33 308.21H648.96V314.32H643.33Z" fill="#000097"/>
<path d="M660.22 308.21H666.64V313.52H660.22Z" fill="#000097"/>
<path d="M665.84 308.21H672.27V313.52H665.84Z" fill="#0000c5"/>
<path d="M671.47 308.21H677.90V313.52H677.10V314.32H671.47Z" fill="#0000c5"/>
<path d="M677.10 308.21H682.73V313.52H677.10Z" fill="#0000c5"/>
<path d="M637.70 313.52H644.13V319.64H637.70Z" fill="#0000f3"/>
<path d="M643.33 313.52H648.96V319.64H643.33Z" fill="#000097"/>
<path d="M671.47 313.52H677.10V318.84H671.47Z" fill="#0000c5"/>
<path d="M632.08 318.84H638.50V324.15H632.08Z" fill="#000097"/>
<path d="M637.70 318.84H644.13V324.15H637.70Z" fill="#000097"/>
<path d="M643.33 318.84H648.96V324.15H643.33Z" fill="#000097"/>
</g>
<line x1="536.4" y1="435.7" x2="958.5" y2="37.3" stroke="#000" stroke-width="1.15"/>
<rect x="536.4" y="37.3" width="422.1" height="398.4" fill="none" stroke="#000" stroke-width="1.06" stroke-opacity="0.8"/>
<line x1="536.4" y1="435.7" x2="536.4" y2="440.2" stroke="#000" stroke-width="1.06" stroke-opacity="0.8"/>
<line x1="536.4" y1="435.7" x2="531.9" y2="435.7" stroke="#000" stroke-width="1.06" stroke-opacity="0.8"/>
<line x1="677.1" y1="435.7" x2="677.1" y2="440.2" stroke="#000" stroke-width="1.06" stroke-opacity="0.8"/>
<line x1="536.4" y1="303.3" x2="531.9" y2="303.3" stroke="#000" stroke-width="1.06" stroke-opacity="0.8"/>
<line x1="817.8" y1="435.7" x2="817.8" y2="440.2" stroke="#000" stroke-width="1.06" stroke-opacity="0.8"/>
<line x1="536.4" y1="170.5" x2="531.9" y2="170.5" stroke="#000" stroke-width="1.06" stroke-opacity="0.8"/>
<line x1="958.5" y1="435.7" x2="958.5" y2="440.2" stroke="#000" stroke-width="1.06" stroke-opacity="0.8"/>
<line x1="536.4" y1="37.3" x2="531.9" y2="37.3" stroke="#000" stroke-width="1.06" stroke-opacity="0.8"/>
<text x="747.5" y="29.3" font-size="31.6" text-anchor="middle">video 2</text>
<text x="570.2" y="120.7" font-size="39.2">B</text>
<text x="733.4" y="356.0" font-size="18.35" fill="#222">RMSE=0.40m</text>
<text x="733.4" y="409.1" font-size="18.35" fill="#222">bias=0.01m</text>
<text x="620.8" y="409.1" font-size="18.35" fill="#222">73%</text>
</g>
<g id="panelC">
<g>
<path d="M306.49 474.11H312.92V479.42H306.49Z" fill="#000097"/>
<path d="M312.12 474.11H318.55V480.22H312.12Z" fill="#0000f3"/>
<path d="M317.75 474.11H324.18V480.22H317.75Z" fill="#0000f3"/>
<path d="M323.38 474.11H329.80V480.22H323.38Z" fill="#0061ff"/>
<path d="M329.00 474.11H335.43V480.22H329.00Z" fill="#0061ff"/>
<path d="M334.63 474.11H341.06V480.22H334.63Z" fill="#0000f3"/>
<path d="M340.26 474.11H346.69V480.22H340.26Z" fill="#0000f3"/>
<path d="M345.89 474.11H352.32V480.22H345.89Z" fill="#0000f3"/>
<path d="M351.52 474.11H357.94V480.22H351.52Z" fill="#0000f3"/>
<path d="M357.14 474.11H363.57V480.22H357.14Z" fill="#0000c5"/>
<path d="M362.77 474.11H369.20V480.22H362.77Z" fill="#0000f3"/>
<path d="M368.40 474.11H374.83V480.22H368.40Z" fill="#0000c5"/>
<path d="M374.03 474.11H380.46V480.22H374.03Z" fill="#0000c5"/>
<path d="M379.66 474.11H386.08V479.42H385.28V480.22H379.66Z" fill="#000097"/>
<path d="M385.28 474.11H391.71V479.42H385.28Z" fill="#000097"/>
<path d="M390.91 474.11H396.54V480.22H390.91Z" fill="#000097"/>
<path d="M407.80 474.11H414.22V479.42H407.80Z" fill="#0000f3"/>
<path d="M413.42 474.11H419.05V480.22H413.42Z" fill="#000097"/>
<path d="M424.68 474.11H430.31V479.42H424.68Z" fill="#000097"/>
<path d="M312.12 479.42H318.55V485.54H312.12Z" fill="#0000c5"/>
<path d="M317.75 479.42H324.18V485.54H317.75Z" fill="#0000c5"/>
<path d="M323.38 479.42H329.80V485.54H323.38Z" fill="#0000f3"/>
<path d="M329.00 479.42H335.43V485.54H329.00Z" fill="#0024ff"/>
<path d="M334.63 479.42H341.06V485.54H334.63Z" fill="#0000f3"/>
<path d="M340.26 479.42H346.69V485.54H340.26Z" fill="#0024ff"/>
<path d="M345.89 479.42H352.32V485.54H345.89Z" fill="#0000c5"/>
<path d="M351.52 479.42H357.94V485.54H351.52Z" fill="#000097"/>
<path d="M357.14 479.42H363.57V485.54H357.14Z" fill="#0000c5"/>
<path d="M362.77 479.42H369.20V485.54H362.77Z" fill="#0000c5"/>
<path d="M368.40 479.42H374.83V485.54H368.40Z" fill="#0000c5"/>
<path d="M374.03 479.42H380.46V484.74H379.66V485.54H374.03Z" fill="#0000c5"/>
<path d="M379.66 479.42H385.28V484.74H379.66Z" fill="#000097"/>
<path d="M390.91 479.42H396.54V485.54H390.91Z" fill="#000097"/>
<path d="M402.17 479.42H407.80V485.54H402.17Z" fill="#000097"/>
<path d="M413.42 479.42H419.05V485.54H413.42Z" fill="#000097"/>
<path d="M435.94 479.42H441.56V484.74H435.94Z" fill="#000097"/>
<path d="M306.49 484.74H312.92V490.85H306.49Z" fill="#0000c5"/>
<path d="M312.12 484.74H318.55V490.85H312.12Z" fill="#0000c5"/>
<path d="M317.75 484.74H324.18V490.85H317.75Z" fill="#0061ff"/>
<path d="M323.38 484.74H329.80V490.85H323.38Z" fill="#0061ff"/>
<path d="M329.00 484.74H335.43V490.85H329.00Z" fill="#0024ff"/>
<path d="M334.63 484.74H341.06V490.85H334.63Z" fill="#0000f3"/>
<path d="M340.26 484.74H346.69V490.85H340.26Z" fill="#0000f3"/>
<path d="M345.89 484.74H352.32V490.85H345.89Z" fill="#0000f3"/>
<path d="M351.52 484.74H357.94V490.85H351.52Z" fill="#0000c5"/>
<path d="M357.14 484.74H363.57V490.85H357.14Z" fill="#0000c5"/>
<path d="M362.77 484.74H369.20V490.85H362.77Z" fill="#0000c5"/>
<path d="M368.40 484.74H374.83V490.85H368.40Z" fill="#0000c5"/>
<path d="M374.03 484.74H379.66V490.85H374.03Z" fill="#0000c5"/>
<path d="M385.28 484.74H391.71V490.85H385.28Z" fill="#000097"/>
<path d="M390.91 484.74H397.34V490.85H390.91Z" fill="#000097"/>
<path d="M396.54 484.74H402.97V490.85H396.54Z" fill="#000097"/>
<path d="M402.17 484.74H408.60V490.85H402.17Z" fill="#000097"/>
<path d="M407.80 484.74H414.22V490.85H407.80Z" fill="#0000c5"/>
<path d="M413.42 484.74H419.85V490.05H419.05V490.85H413.42Z" fill="#0000c5"/>
<path d="M419.05 484.74H425.48V490.05H419.05Z" fill="#0024ff"/>
<path d="M424.68 484.74H430.31V490.85H424.68Z" fill="#0000c5"/>
<path d="M306.49 490.05H312.92V496.16H306.49Z" fill="#0000c5"/>
<path d="M312.12 490.05H318.55V496.16H312.12Z" fill="#00dbff"/>
<path d="M317.75 490.05H324.18V496.16H317.75Z" fill="#009eff"/>
<path d="M323.38 490.05H329.80V496.16H323.38Z" fill="#0061ff"/>
<path d="M329.00 490.05H335.43V496.16H329.00Z" fill="#0024ff"/>
<path d="M334.63 490.05H341.06V496.16H334.63Z" fill="#0000f3"/>
<path d="M340.26 490.05H346.69V496.16H340.26Z" fill="#0000f3"/>
<path d="M345.89 490.05H352.32V496.16H345.89Z" fill="#0000f3"/>
<path d="M351.52 490.05H357.94V496.16H351.52Z" fill="#0000f3"/>
<path d="M357.14 490.05H363.57V496.16H357.14Z" fill="#0000c5"/>
<path d="M362.77 490.05H369.20V496.16H362.77Z" fill="#0000c5"/>
<path d="M368.40 490.05H374.83V496.16H368.40Z" fill="#0000c5"/>
<path d="M374.03 490.05H379.66V496.16H374.03Z" fill="#0000c5"/>
<path d="M385.28 490.05H391.71V495.36H385.28Z" fill="#000097"/>
<path d="M390.91 490.05H397.34V496.16H390.91Z" fill="#000097"/>
<path d="M396.54 490.05H402.97V496.16H396.54Z" fill="#000097"/>
<path d="M402.17 490.05H408.60V495.36H407.80V496.16H402.17Z" fill="#000097"/>
<path d="M407.80 490.05H414.22V495.36H407.80Z" fill="#0000c5"/>
<path d="M413.42 490.05H419.05V495.36H413.42Z" fill="#0000c5"/>
<path d="M424.68 490.05H430.31V495.36H424.68Z" fill="#000097"/>
<path d="M306.49 495.36H312.92V501.47H306.49Z" fill="#0000c5"/>
<path d="M312.12 495.36H318.55V501.47H312.12Z" fill="#0000f3"/>
<path d="M317.75 495.36H324.18V501.47H317.75Z" fill="#0000f3"/>
<path d="M323.38 495.36H329.80V501.47H323.38Z" fill="#0000c5"/>
<path d="M329.00 495.36H335.43V501.47H329.00Z" fill="#0000c5"/>
<path d="M334.63 495.36H341.06V501.47H334.63Z" fill="#0000c5"/>
<path d="M340.26 495.36H346.69V501.47H340.26Z" fill="#0000f3"/>
<path d="M345.89 495.36H352.32V501.47H345.89Z" fill="#0000f3"/>
<path d="M351.52 495.36H357.94V501.47H351.52Z" fill="#0000f3"/>
<path d="M357.14 495.36H363.57V501.47H357.14Z" fill="#0000c5"/>
<path d="M362.77 495.36H369.20V501.47H362.77Z" fill="#0000c5"/>
<path d="M368.40 495.36H374.83V501.47H368.40Z" fill="#0000c5"/>
<path d="M374.03 495.36H380.46V500.67H379.66V501.47H374.03Z" fill="#0000c5"/>
<path d="M379.66 495.36H385.28V500.67H379.66Z" fill="#000097"/>
<path d="M390.91 495.36H397.34V501.47H390.91Z" fill="#000097"/>
<path d="M396.54 495.36H402.97V501.47H396.54Z" fill="#000097"/>
<path d="M402.17 495.36H407.80V501.47H402.17Z" fill="#000097"/>
<path d="M419.05 495.36H424.68V501.47H419.05Z" fill="#000097"/>
<path d="M306.49 500.67H312.92V506.78H306.49Z" fill="#0000c5"/>
<path d="M312.12 500.67H318.55V506.78H312.12Z" fill="#0000f3"/>
<path d="M317.75 500.67H324.18V506.78H317.75Z" fill="#0000f3"/>
<path d="M323.38 500.67H329.80V506.78H323.38Z" fill="#0000f3"/>
<path d="M329.00 500.67H335.43V506.78H329.00Z" fill="#0000f3"/>
<path d="M334.63 500.67H341.06V506.78H334.63Z" fill="#0000f3"/>
<path d="M340.26 500.67H346.69V506.78H340.26Z" fill="#0000f3"/>
<path d="M345.89 500.67H352.32V506.78H345.89Z" fill="#0061ff"/>
<path d="M351.52 500.67H357.94V506.78H351.52Z" fill="#0000f3"/>
<path d="M357.14 500.67H363.57V506.78H357.14Z" fill="#0000c5"/>
<path d="M362.77 500.67H369.20V505.98H368.40V506.78H362.77Z" fill="#0000c5"/>
<path d="M368.40 500.67H374.83V505.98H368.40Z" fill="#0000c5"/>
<path d="M374.03 500.67H379.66V506.78H374.03Z" fill="#0000c5"/>
<path d="M385.28 500.67H391.71V505.98H385.28Z" fill="#000097"/>
<path d="M390.91 500.67H397.34V505.98H390.91Z" fill="#000097"/>
<path d="M396.54 500.67H402.97V506.78H396.54Z" fill="#000097"/>
<path d="M402.17 500.67H407.80V506.78H402.17Z" fill="#000097"/>
<path d="M419.05 500.67H424.68V505.98H419.05Z" fill="#000097"/>
<path d="M306.49 505.98H312.92V512.10H306.49Z" fill="#0000c5"/>
<path d="M312.12 505.98H318.55V512.10H312.12Z" fill="#0000f3"/>
<path d="M317.75 505.98H324.18V512.10H317.75Z" fill="#000097"/>
<path d="M323.38 505.98H329.80V512.10H323.38Z" fill="#0000f3"/>
<path d="M329.00 505.98H335.43V512.10H329.00Z" fill="#0000f3"/>
<path d="M334.63 505.98H341.06V512.10H334.63Z" fill="#0000f3"/>
<path d="M340.26 505.98H346.69V512.10H340.26Z" fill="#0024ff"/>
<path d="M345.89 505.98H352.32V512.10H345.89Z" fill="#0000f3"/>
<path d="M351.52 505.98H357.94V512.10H351.52Z" fill="#0061ff"/>
<path d="M357.14 505.98H363.57V512.10H357.14Z" fill="#0000f3"/>
<path d="M362.77 505.98H368.40V512.10H362.77Z" fill="#0000c5"/>
<path d="M374.03 505.98H380.46V512.10H374.03Z" fill="#0000c5"/>
<path d="M379.66 505.98H385.28V512.10H379.66Z" fill="#0000c5"/>
<path d="M396.54 505.98H402.97V511.30H396.54Z" fill="#000097"/>
<path d="M402.17 505.98H408.60V512.10H402.17Z" fill="#000097"/>
<path d="M407.80 505.98H413.42V512.10H407.80Z" fill="#000097"/>
<path d="M295.24 511.30H301.66V516.61H295.24Z" fill="#000097"/>
<path d="M300.86 511.30H307.29V516.61H300.86Z" fill="#000097"/>
<path d="M306.49 511.30H312.92V517.41H306.49Z" fill="#0000c5"/>
<path d="M312.12 511.30H318.55V517.41H312.12Z" fill="#0000c5"/>
<path d="M317.75 511.30H324.18V517.41H317.75Z" fill="#0000f3"/>
<path d="M323.38 511.30H329.80V517.41H323.38Z" fill="#0000c5"/>
<path d="M329.00 511.30H335.43V517.41H329.00Z" fill="#0000c5"/>
<path d="M334.63 511.30H341.06V517.41H334.63Z" fill="#0000c5"/>
<path d="M340.26 511.30H346.69V517.41H340.26Z" fill="#0000c5"/>
<path d="M345.89 511.30H352.32V517.41H345.89Z" fill="#0000c5"/>
<path d="M351.52 511.30H357.94V517.41H351.52Z" fill="#0000c5"/>
<path d="M357.14 511.30H363.57V517.41H357.14Z" fill="#0000c5"/>
<path d="M362.77 511.30H368.40V517.41H362.77Z" fill="#0000c5"/>
<path d="M374.03 511.30H380.46V517.41H374.03Z" fill="#0000c5"/>
<path d="M379.66 511.30H386.08V517.41H379.66Z" fill="#0000c5"/>
<path d="M385.28 511.30H390.91V517.41H385.28Z" fill="#0000c5"/>
<path d="M402.17 511.30H408.60V516.61H407.80V517.41H402.17Z" fill="#000097"/>
<path d="M407.80 511.30H413.42V516.61H407.80Z" fill="#000097"/>
<path d="M306.49 516.61H312.92V522.72H306.49Z" fill="#0000c5"/>
<path d="M312.12 516.61H318.55V522.72H312.12Z" fill="#0000f3"/>
<path d="M317.75 516.61H324.18V522.72H317.75Z" fill="#0024ff"/>
<path d="M323.38 516.61H329.80V522.72H323.38Z" fill="#0000c5"/>
<path d="M329.00 516.61H335.43V522.72H329.00Z" fill="#0000c5"/>
<path d="M334.63 516.61H341.06V522.72H334.63Z" fill="#000097"/>
<path d="M340.26 516.61H346.69V522.72H340.26Z" fill="#0000c5"/>
<path d="M345.89 516.61H352.32V522.72H345.89Z" fill="#0000c5"/>
<path d="M351.52 516.61H357.94V522.72H351.52Z" fill="#0000c5"/>
<path d="M357.14 516.61H363.57V522.72H357.14Z" fill="#000097"/>
<path d="M362.77 516.61H369.20V522.72H362.77Z" fill="#000097"/>
<path d="M368.40 516.61H374.83V522.72H368.40Z" fill="#0000c5"/>
<path d="M374.03 516.61H380.46V522.72H374.03Z" fill="#000097"/>
<path d="M379.66 516.61H386.08V522.72H379.66Z" fill="#0000c5"/>
<path d="M385.28 516.61H391.71V522.72H385.28Z" fill="#0000c5"/>
<path d="M390.91 516.61H396.54V522.72H390.91Z" fill="#0000c5"/>
<path d="M402.17 516.61H407.80V521.92H402.17Z" fill="#000097"/>
<path d="M295.24 521.92H300.86V528.03H295.24Z" fill="#000097"/>
<path d="M306.49 521.92H312.92V528.03H306.49Z" fill="#0000c5"/>
<path d="M312.12 521.92H318.55V528.03H312.12Z" fill="#0061ff"/>
<path d="M317.75 521.92H324.18V528.03H317.75Z" fill="#0024ff"/>
<path d="M323.38 521.92H329.80V528.03H323.38Z" fill="#0000c5"/>
<path d="M329.00 521.92H335.43V528.03H329.00Z" fill="#0000c5"/>
<path d="M334.63 521.92H341.06V528.03H334.63Z" fill="#0000c5"/>
<path d="M340.26 521.92H346.69V528.03H340.26Z" fill="#0000c5"/>
<path d="M345.89 521.92H352.32V528.03H345.89Z" fill="#0000c5"/>
<path d="M351.52 521.92H357.94V528.03H351.52Z" fill="#0000f3"/>
<path d="M357.14 521.92H363.57V528.03H357.14Z" fill="#0000c5"/>
<path d="M362.77 521.92H369.20V527.23H368.40V528.03H362.77Z" fill="#0000c5"/>
<path d="M368.40 521.92H374.83V527.23H368.40Z" fill="#0000c5"/>
<path d="M374.03 521.92H380.46V527.23H379.66V528.03H374.03Z" fill="#0000c5"/>
<path d="M379.66 521.92H386.08V527.23H379.66Z" fill="#0000c5"/>
<path d="M385.28 521.92H391.71V527.23H390.91V528.03H385.28Z" fill="#0000c5"/>
<path d="M390.91 521.92H396.54V527.23H390.91Z" fill="#000097"/>
<path d="M295.24 527.23H301.66V532.54H300.86V533.34H295.24Z" fill="#000097"/>
<path d="M300.86 527.23H307.29V532.54H300.86Z" fill="#000097"/>
<path d="M306.49 527.23H312.92V533.34H306.49Z" fill="#0000c5"/>
<path d="M312.12 527.23H318.55V532.54H317.75V533.34H312.12Z" fill="#0000f3"/>
<path d="M317.75 527.23H324.18V532.54H317.75Z" fill="#0000f3"/>
<path d="M323.38 527.23H329.80V533.34H323.38Z" fill="#0000c5"/>
<path d="M329.00 527.23H335.43V533.34H329.00Z" fill="#0000c5"/>
<path d="M334.63 527.23H341.06V533.34H334.63Z" fill="#0000c5"/>
<path d="M340.26 527.23H346.69V533.34H340.26Z" fill="#0000c5"/>
<path d="M345.89 527.23H352.32V533.34H345.89Z" fill="#009eff"/>
<path d="M351.52 527.23H357.94V532.54H357.14V533.34H351.52Z" fill="#0000c5"/>
<path d="M357.14 527.23H363.57V532.54H357.14Z" fill="#0000c5"/>
<path d="M362.77 527.23H368.40V533.34H362.77Z" fill="#000097"/>
<path d="M374.03 527.23H379.66V533.34H374.03Z" fill="#000097"/>
<path d="M385.28 527.23H390.91V532.54H385.28Z" fill="#000097"/>
<path d="M289.61 532.54H296.04V538.66H289.61Z" fill="#0000c5"/>
<path d="M295.24 532.54H300.86V538.66H295.24Z" fill="#0000c5"/>
<path d="M306.49 532.54H312.92V537.86H306.49Z" fill="#0000c5"/>
<path d="M312.12 532.54H317.75V538.66H312.12Z" fill="#0000c5"/>
<path d="M323.38 532.54H329.80V538.66H323.38Z" fill="#0000c5"/>
<path d="M329.00 532.54H335.43V538.66H329.00Z" fill="#0000c5"/>
<path d="M334.63 532.54H341.06V538.66H334.63Z" fill="#000097"/>
<path d="M340.26 532.54H346.69V538.66H340.26Z" fill="#000097"/>
<path d="M345.89 532.54H352.32V538.66H345.89Z" fill="#0000f3"/>
<path d="M351.52 532.54H357.14V538.66H351.52Z" fill="#0000c5"/>
<path d="M362.77 532.54H369.20V537.86H362.77Z" fill="#000097"/>
<path d="M368.40 532.54H374.83V538.66H368.40Z" fill="#0000c5"/>
<path d="M374.03 532.54H380.46V538.66H374.03Z" fill="#0000c5"/>
<path d="M379.66 532.54H385.28V538.66H379.66Z" fill="#0000c5"/>
<path d="M289.61 537.86H296.04V543.17H289.61Z" fill="#000097"/>
<path d="M295.24 537.86H301.66V543.17H300.86V543.97H295.24Z" fill="#0000f3"/>
<path d="M300.86 537.86H306.49V543.17H300.86Z" fill="#0000c5"/>
<path d="M312.12 537.86H318.55V543.17H312.12Z" fill="#000097"/>
<path d="M317.75 537.86H324.18V543.17H317.75Z" fill="#000097"/>
<path d="M323.38 537.86H329.80V543.97H323.38Z" fill="#0000c5"/>
<path d="M329.00 537.86H335.43V543.97H329.00Z" fill="#0000c5"/>
<path d="M334.63 537.86H341.06V543.97H334.63Z" fill="#0000c5"/>
<path d="M340.26 537.86H346.69V543.17H345.89V543.97H340.26Z" fill="#0000c5"/>
<path d="M345.89 537.86H352.32V543.17H345.89Z" fill="#000097"/>
<path d="M351.52 537.86H357.14V543.97H351.52Z" fill="#000097"/>
<path d="M368.40 537.86H374.83V543.17H368.40Z" fill="#0000c5"/>
<path d="M374.03 537.86H380.46V543.17H374.03Z" fill="#0000c5"/>
<path d="M379.66 537.86H385.28V543.17H379.66Z" fill="#0000c5"/>
<path d="M295.24 543.17H300.86V549.28H295.24Z" fill="#0000c5"/>
<path d="M323.38 543.17H329.80V549.28H323.38Z" fill="#0000c5"/>
<path d="M329.00 543.17H335.43V549.28H329.00Z" fill="#0000c5"/>
<path d="M334.63 543.17H341.06V549.28H334.63Z" fill="#0000c5"/>
<path d="M340.26 543.17H345.89V549.28H340.26Z" fill="#0000c5"/>
<path d="M351.52 543.17H357.14V548.48H351.52Z" fill="#000097"/>
<path d="M283.98 548.48H289.61V553.79H283.98Z" fill="#000097"/>
<path d="M295.24 548.48H301.66V553.79H295.24Z" fill="#0000c5"/>
<path d="M300.86 548.48H306.49V554.59H300.86Z" fill="#000097"/>
<path d="M312.12 548.48H318.55V553.79H317.75V554.59H312.12Z" fill="#000097"/>
<path d="M317.75 548.48H324.18V553.79H317.75Z" fill="#000097"/>
<path d="M323.38 548.48H329.80V554.59H323.38Z" fill="#0000c5"/>
<path d="M329.00 548.48H335.43V554.59H329.00Z" fill="#000097"/>
<path d="M334.63 548.48H341.06V554.59H334.63Z" fill="#000097"/>
<path d="M340.26 548.48H345.89V554.59H340.26Z" fill="#0000c5"/>
<path d="M289.61 553.79H295.24V559.90H289.61Z" fill="#0000c5"/>
<path d="M300.86 553.79H307.29V559.10H300.86Z" fill="#000097"/>
<path d="M306.49 553.79H312.92V559.10H306.49Z" fill="#000097"/>
<path d="M312.12 553.79H317.75V559.90H312.12Z" fill="#000097"/>
<path d="M323.38 553.79H329.80V559.90H323.38Z" fill="#0000c5"/>
<path d="M329.00 553.79H335.43V559.90H329.00Z" fill="#000097"/>
<path d="M334.63 553.79H341.06V559.90H334.63Z" fill="#000097"/>
<path d="M340.26 553.79H345.89V559.90H340.26Z" fill="#0000c5"/>
<path d="M289.61 559.10H295.24V564.42H289.61Z" fill="#0000c5"/>
<path d="M312.12 559.10H318.55V565.22H312.12Z" fill="#000097"/>
<path d="M317.75 559.10H324.18V565.22H317.75Z" fill="#0000c5"/>
<path d="M323.38 559.10H329.80V565.22H323.38Z" fill="#0000c5"/>
<path d="M329.00 559.10H335.43V565.22H329.00Z" fill="#000097"/>
<path d="M334.63 559.10H341.06V564.42H340.26V565.22H334.63Z" fill="#000097"/>
<path d="M340.26 559.10H345.89V564.42H340.26Z" fill="#0000c5"/>
<path d="M312.12 564.42H318.55V570.53H312.12Z" fill="#0000c5"/>
<path d="M317.75 564.42H324.18V570.53H317.75Z" fill="#000097"/>
<path d="M323.38 564.42H329.80V570.53H323.38Z" fill="#000097"/>
<path d="M329.00 564.42H335.43V570.53H329.00Z" fill="#000097"/>
<path d="M334.63 564.42H340.26V570.53H334.63Z" fill="#000097"/>
<path d="M345.89 564.42H351.52V569.73H345.89Z" fill="#000097"/>
<path d="M300.86 569.73H307.29V575.84H300.86Z" fill="#000097"/>
<path d="M306.49 569.73H312.92V575.84H306.49Z" fill="#000097"/>
<path d="M312.12 569.73H318.55V575.84H312.12Z" fill="#0000c5"/>
<path d="M317.75 569.73H324.18V575.84H317.75Z" fill="#000097"/>
<path d="M323.38 569.73H329.80V575.84H323.38Z" fill="#000097"/>
<path d="M329.00 569.73H335.43V575.84H329.00Z" fill="#000097"/>
<path d="M334.63 569.73H340.26V575.84H334.63Z" fill="#000097"/>
<path d="M300.86 575.04H307.29V580.35H300.86Z" fill="#000097"/>
<path d="M306.49 575.04H312.92V581.15H306.49Z" fill="#0000f3"/>
<path d="M312.12 575.04H318.55V581.15H312.12Z" fill="#0000f3"/>
<path d="M317.75 575.04H324.18V581.15H317.75Z" fill="#0024ff"/>
<path d="M323.38 575.04H329.80V581.15H323.38Z" fill="#0024ff"/>
<path d="M329.00 575.04H335.43V581.15H329.00Z" fill="#0000c5"/>
<path d="M334.63 575.04H341.06V580.35H340.26V581.15H334.63Z" fill="#0000c5"/>
<path d="M340.26 575.04H346.69V580.35H340.26Z" fill="#000097"/>
<path d="M345.89 575.04H351.52V581.15H345.89Z" fill="#000097"/>
<path d="M306.49 580.35H312.92V586.46H306.49Z" fill="#0000c5"/>
<path d="M312.12 580.35H318.55V586.46H312.12Z" fill="#0000c5"/>
<path d="M317.75 580.35H324.18V586.46H317.75Z" fill="#0000c5"/>
<path d="M323.38 580.35H329.80V586.46H323.38Z" fill="#0000f3"/>
<path d="M329.00 580.35H335.43V585.66H334.63V586.46H329.00Z" fill="#0000c5"/>
<path d="M334.63 580.35H340.26V585.66H334.63Z" fill="#000097"/>
<path d="M345.89 580.35H351.52V585.66H345.89Z" fill="#000097"/>
<path d="M289.61 585.66H296.04V591.78H289.61Z" fill="#0000c5"/>
<path d="M295.24 585.66H301.66V591.78H295.24Z" fill="#0000c5"/>
<path d="M300.86 585.66H307.29V591.78H300.86Z" fill="#0000c5"/>
<path d="M306.49 585.66H312.92V591.78H306.49Z" fill="#0000c5"/>
<path d="M312.12 585.66H318.55V591.78H312.12Z" fill="#000097"/>
<path d="M317.75 585.66H324.18V591.78H317.75Z" fill="#0000c5"/>
<path d="M323.38 585.66H329.80V591.78H323.38Z" fill="#0000f3"/>
<path d="M329.00 585.66H334.63V591.78H329.00Z" fill="#0000c5"/>
<path d="M250.21 590.98H255.84V596.29H250.21Z" fill="#000097"/>
<path d="M289.61 590.98H296.04V596.29H289.61Z" fill="#0000c5"/>
<path d="M295.24 590.98H301.66V597.09H295.24Z" fill="#0000c5"/>
<path d="M300.86 590.98H307.29V597.09H300.86Z" fill="#000097"/>
<path d="M306.49 590.98H312.92V597.09H306.49Z" fill="#0000c5"/>
<path d="M312.12 590.98H318.55V597.09H312.12Z" fill="#0000c5"/>
<path d="M317.75 590.98H324.18V597.09H317.75Z" fill="#0000c5"/>
<path d="M323.38 590.98H329.80V597.09H323.38Z" fill="#0000c5"/>
<path d="M329.00 590.98H335.43V597.09H329.00Z" fill="#0000c5"/>
<path d="M334.63 590.98H340.26V597.09H334.63Z" fill="#0000c5"/>
<path d="M357.14 590.98H362.77V596.29H357.14Z" fill="#000097"/>
<path d="M244.58 596.29H250.21V602.40H244.58Z" fill="#000097"/>
<path d="M295.24 596.29H301.66V602.40H295.24Z" fill="#0000c5"/>
<path d="M300.86 596.29H307.29V602.40H300.86Z" fill="#0000c5"/>
<path d="M306.49 596.29H312.92V602.40H306.49Z" fill="#0000c5"/>
<path d="M312.12 596.29H318.55V602.40H312.12Z" fill="#0000c5"/>
<path d="M317.75 596.29H324.18V602.40H317.75Z" fill="#0000c5"/>
<path d="M323.38 596.29H329.80V602.40H323.38Z" fill="#0000c5"/>
<path d="M329.00 596.29H335.43V602.40H329.00Z" fill="#0000f3"/>
<path d="M334.63 596.29H341.06V602.40H334.63Z" fill="#0000c5"/>
<path d="M340.26 596.29H346.69V601.60H345.89V602.40H340.26Z" fill="#000097"/>
<path d="M345.89 596.29H351.52V601.60H345.89Z" fill="#000097"/>
<path d="M233.33 601.60H238.96V606.91H233.33Z" fill="#000097"/>
<path d="M244.58 601.60H250.21V607.71H244.58Z" fill="#000097"/>
<path d="M278.35 601.60H283.98V607.71H278.35Z" fill="#000097"/>
<path d="M289.61 601.60H296.04V607.71H289.61Z" fill="#0000c5"/>
<path d="M295.24 601.60H301.66V607.71H295.24Z" fill="#0000f3"/>
<path d="M300.86 601.60H307.29V607.71H300.86Z" fill="#0000f3"/>
<path d="M306.49 601.60H312.92V607.71H306.49Z" fill="#0000c5"/>
<path d="M312.12 601.60H318.55V607.71H312.12Z" fill="#0000f3"/>
<path d="M317.75 601.60H324.18V607.71H317.75Z" fill="#0000c5"/>
<path d="M323.38 601.60H329.80V607.71H323.38Z" fill="#0000c5"/>
<path d="M329.00 601.60H335.43V607.71H329.00Z" fill="#0024ff"/>
<path d="M334.63 601.60H341.06V606.91H340.26V607.71H334.63Z" fill="#0000f3"/>
<path d="M340.26 601.60H345.89V606.91H340.26Z" fill="#000097"/>
<path d="M362.77 601.60H368.40V606.91H362.77Z" fill="#000097"/>
<path d="M244.58 606.91H250.21V612.22H244.58Z" fill="#000097"/>
<path d="M278.35 606.91H283.98V613.02H278.35Z" fill="#000097"/>
<path d="M289.61 606.91H296.04V613.02H289.61Z" fill="#0000f3"/>
<path d="M295.24 606.91H301.66V613.02H295.24Z" fill="#0000f3"/>
<path d="M300.86 606.91H307.29V613.02H300.86Z" fill="#0000f3"/>
<path d="M306.49 606.91H312.92V613.02H306.49Z" fill="#0000c5"/>
<path d="M312.12 606.91H318.55V613.02H312.12Z" fill="#0000f3"/>
<path d="M317.75 606.91H324.18V613.02H317.75Z" fill="#0000c5"/>
<path d="M323.38 606.91H329.80V613.02H323.38Z" fill="#0024ff"/>
<path d="M329.00 606.91H335.43V613.02H329.00Z" fill="#0000f3"/>
<path d="M334.63 606.91H340.26V613.02H334.63Z" fill="#0000c5"/>
<path d="M345.89 606.91H351.52V613.02H345.89Z" fill="#000097"/>
<path d="M357.14 606.91H362.77V612.22H357.14Z" fill="#000097"/>
<path d="M238.96 612.22H244.58V618.34H238.96Z" fill="#000097"/>
<path d="M250.21 612.22H256.64V617.54H250.21Z" fill="#000097"/>
<path d="M255.84 612.22H262.27V618.34H255.84Z" fill="#0000c5"/>
<path d="M261.47 612.22H267.90V617.54H267.10V618.34H261.47Z" fill="#0000c5"/>
<path d="M267.10 612.22H273.52V617.54H267.10Z" fill="#0000c5"/>
<path d="M272.72 612.22H279.15V618.34H272.72Z" fill="#0000f3"/>
<path d="M278.35 612.22H284.78V618.34H278.35Z" fill="#0000c5"/>
<path d="M283.98 612.22H290.41V618.34H283.98Z" fill="#0000c5"/>
<path d="M289.61 612.22H296.04V618.34H289.61Z" fill="#0000c5"/>
<path d="M295.24 612.22H301.66V618.34H295.24Z" fill="#0000f3"/>
<path d="M300.86 612.22H307.29V618.34H300.86Z" fill="#0061ff"/>
<path d="M306.49 612.22H312.92V618.34H306.49Z" fill="#0000f3"/>
<path d="M312.12 612.22H318.55V618.34H312.12Z" fill="#000097"/>
<path d="M317.75 612.22H324.18V618.34H317.75Z" fill="#0000c5"/>
<path d="M323.38 612.22H329.80V617.54H329.00V618.34H323.38Z" fill="#0061ff"/>
<path d="M329.00 612.22H335.43V617.54H329.00Z" fill="#0000f3"/>
<path d="M334.63 612.22H341.06V618.34H334.63Z" fill="#0000c5"/>
<path d="M340.26 612.22H346.69V618.34H340.26Z" fill="#0000c5"/>
<path d="M345.89 612.22H351.52V618.34H345.89Z" fill="#0000c5"/>
<path d="M238.96 617.54H244.58V623.65H238.96Z" fill="#000097"/>
<path d="M255.84 617.54H262.27V622.85H261.47V623.65H255.84Z" fill="#000097"/>
<path d="M261.47 617.54H267.10V622.85H261.47Z" fill="#000097"/>
<path d="M272.72 617.54H279.15V623.65H272.72Z" fill="#0000c5"/>
<path d="M278.35 617.54H284.78V623.65H278.35Z" fill="#0000c5"/>
<path d="M283.98 617.54H290.41V623.65H283.98Z" fill="#0000c5"/>
<path d="M289.61 617.54H296.04V623.65H289.61Z" fill="#0000c5"/>
<path d="M295.24 617.54H301.66V623.65H295.24Z" fill="#0000f3"/>
<path d="M300.86 617.54H307.29V623.65H300.86Z" fill="#0000f3"/>
<path d="M306.49 617.54H312.92V623.65H306.49Z" fill="#0000f3"/>
<path d="M312.12 617.54H318.55V623.65H312.12Z" fill="#0000f3"/>
<path d="M317.75 617.54H324.18V623.65H317.75Z" fill="#0000f3"/>
<path d="M323.38 617.54H329.00V623.65H323.38Z" fill="#0000f3"/>
<path d="M334.63 617.54H341.06V623.65H334.63Z" fill="#0000c5"/>
<path d="M340.26 617.54H346.69V623.65H340.26Z" fill="#0000c5"/>
<path d="M345.89 617.54H351.52V623.65H345.89Z" fill="#0000c5"/>
<path d="M357.14 617.54H362.77V623.65H357.14Z" fill="#000097"/>
<path d="M233.33 622.85H239.76V628.16H233.33Z" fill="#000097"/>
<path d="M238.96 622.85H245.38V628.16H238.96Z" fill="#000097"/>
<path d="M244.58 622.85H251.01V628.96H244.58Z" fill="#0000c5"/>
<path d="M250.21 622.85H256.64V628.96H250.21Z" fill="#000097"/>
<path d="M255.84 622.85H261.47V628.96H255.84Z" fill="#0000c5"/>
<path d="M272.72 622.85H279.15V628.16H272.72Z" fill="#0000c5"/>
<path d="M278.35 622.85H284.78V628.96H278.35Z" fill="#0000f3"/>
<path d="M283.98 622.85H290.41V628.96H283.98Z" fill="#0000f3"/>
<path d="M289.61 622.85H296.04V628.96H289.61Z" fill="#0000c5"/>
<path d="M295.24 622.85H301.66V628.96H295.24Z" fill="#0000f3"/>
<path d="M300.86 622.85H307.29V628.96H300.86Z" fill="#0000c5"/>
<path d="M306.49 622.85H312.92V628.96H306.49Z" fill="#0000f3"/>
<path d="M312.12 622.85H318.55V628.96H312.12Z" fill="#0024ff"/>
<path d="M317.75 622.85H324.18V628.96H317.75Z" fill="#0000f3"/>
<path d="M323.38 622.85H329.80V628.96H323.38Z" fill="#0000f3"/>
<path d="M329.00 622.85H335.43V628.96H329.00Z" fill="#0000c5"/>
<path d="M334.63 622.85H341.06V628.96H334.63Z" fill="#0000c5"/>
<path d="M340.26 622.85H346.69V628.96H340.26Z" fill="#0000c5"/>
<path d="M345.89 622.85H352.32V628.96H345.89Z" fill="#0000c5"/>
<path d="M351.52 622.85H357.94V628.96H351.52Z" fill="#000097"/>
<path d="M357.14 622.85H362.77V628.96H357.14Z" fill="#000097"/>
<path d="M244.58 628.16H251.01V633.47H244.58Z" fill="#000097"/>
<path d="M250.21 628.16H256.64V634.27H250.21Z" fill="#0000c5"/>
<path d="M255.84 628.16H262.27V633.47H261.47V634.27H255.84Z" fill="#000097"/>
<path d="M261.47 628.16H267.10V633.47H261.47Z" fill="#000097"/>
<path d="M278.35 628.16H284.78V634.27H278.35Z" fill="#0000f3"/>
<path d="M283.98 628.16H290.41V634.27H283.98Z" fill="#0061ff"/>
<path d="M289.61 628.16H296.04V634.27H289.61Z" fill="#0061ff"/>
<path d="M295.24 628.16H301.66V634.27H295.24Z" fill="#0061ff"/>
<path d="M300.86 628.16H307.29V634.27H300.86Z" fill="#0024ff"/>
<path d="M306.49 628.16H312.92V634.27H306.49Z" fill="#0000f3"/>
<path d="M312.12 628.16H318.55V634.27H312.12Z" fill="#0000f3"/>
<path d="M317.75 628.16H324.18V634.27H317.75Z" fill="#0000f3"/>
<path d="M323.38 628.16H329.80V634.27H323.38Z" fill="#0061ff"/>
<path d="M329.00 628.16H335.43V634.27H329.00Z" fill="#0000c5"/>
<path d="M334.63 628.16H341.06V633.47H340.26V634.27H334.63Z" fill="#0000c5"/>
<path d="M340.26 628.16H346.69V633.47H340.26Z" fill="#0000c5"/>
<path d="M345.89 628.16H352.32V633.47H351.52V634.27H345.89Z" fill="#000097"/>
<path d="M351.52 628.16H357.94V633.47H351.52Z" fill="#000097"/>
<path d="M357.14 628.16H362.77V633.47H357.14Z" fill="#000097"/>
<path d="M227.70 633.47H233.33V639.58H227.70Z" fill="#000097"/>
<path d="M238.96 633.47H244.58V639.58H238.96Z" fill="#000097"/>
<path d="M250.21 633.47H256.64V639.58H250.21Z" fill="#000097"/>
<path d="M255.84 633.47H261.47V639.58H255.84Z" fill="#0000c5"/>
<path d="M267.10 633.47H273.52V639.58H267.10Z" fill="#0000c5"/>
<path d="M272.72 633.47H279.15V639.58H272.72Z" fill="#0000f3"/>
<path d="M278.35 633.47H284.78V639.58H278.35Z" fill="#0024ff"/>
<path d="M283.98 633.47H290.41V639.58H283.98Z" fill="#0024ff"/>
<path d="M289.61 633.47H296.04V639.58H289.61Z" fill="#0000f3"/>
<path d="M295.24 633.47H301.66V639.58H295.24Z" fill="#0024ff"/>
<path d="M300.86 633.47H307.29V639.58H300.86Z" fill="#0000f3"/>
<path d="M306.49 633.47H312.92V639.58H306.49Z" fill="#0061ff"/>
<path d="M312.12 633.47H318.55V639.58H312.12Z" fill="#0000f3"/>
<path d="M317.75 633.47H324.18V639.58H317.75Z" fill="#0000f3"/>
<path d="M323.38 633.47H329.80V639.58H323.38Z" fill="#0024ff"/>
<path d="M329.00 633.47H335.43V638.78H334.63V639.58H329.00Z" fill="#0000c5"/>
<path d="M334.63 633.47H340.26V638.78H334.63Z" fill="#0000c5"/>
<path d="M345.89 633.47H351.52V638.78H345.89Z" fill="#000097"/>
<path d="M227.70 638.78H233.33V644.90H227.70Z" fill="#000097"/>
<path d="M238.96 638.78H244.58V644.90H238.96Z" fill="#000097"/>
<path d="M250.21 638.78H256.64V644.10H255.84V644.90H250.21Z" fill="#000097"/>
<path d="M255.84 638.78H262.27V644.10H255.84Z" fill="#000097"/>
<path d="M261.47 638.78H267.90V644.90H261.47Z" fill="#0000c5"/>
<path d="M267.10 638.78H273.52V644.90H267.10Z" fill="#0000c5"/>
<path d="M272.72 638.78H279.15V644.90H272.72Z" fill="#0000c5"/>
<path d="M278.35 638.78H284.78V644.90H278.35Z" fill="#0000f3"/>
<path d="M283.98 638.78H290.41V644.90H283.98Z" fill="#0024ff"/>
<path d="M289.61 638.78H296.04V644.10H295.24V644.90H289.61Z" fill="#0024ff"/>
<path d="M295.24 638.78H301.66V644.10H295.24Z" fill="#0024ff"/>
<path d="M300.86 638.78H307.29V644.10H300.86Z" fill="#0000f3"/>
<path d="M306.49 638.78H312.92V644.90H306.49Z" fill="#0000f3"/>
<path d="M312.12 638.78H318.55V644.10H317.75V644.90H312.12Z" fill="#0000c5"/>
<path d="M317.75 638.78H324.18V644.10H317.75Z" fill="#0000c5"/>
<path d="M323.38 638.78H329.80V644.10H323.38Z" fill="#0000c5"/>
<path d="M329.00 638.78H334.63V644.90H329.00Z" fill="#0000c5"/>
<path d="M222.07 644.10H228.50V649.41H222.07Z" fill="#000097"/>
<path d="M227.70 644.10H234.13V649.41H227.70Z" fill="#000097"/>
<path d="M233.33 644.10H239.76V650.21H233.33Z" fill="#000097"/>
<path d="M238.96 644.10H245.38V650.21H238.96Z" fill="#000097"/>
<path d="M244.58 644.10H251.01V650.21H244.58Z" fill="#000097"/>
<path d="M250.21 644.10H255.84V650.21H250.21Z" fill="#000097"/>
<path d="M261.47 644.10H267.90V650.21H261.47Z" fill="#0000c5"/>
<path d="M267.10 644.10H273.52V650.21H267.10Z" fill="#0000f3"/>
<path d="M272.72 644.10H279.15V650.21H272.72Z" fill="#0000c5"/>
<path d="M278.35 644.10H284.78V650.21H278.35Z" fill="#0024ff"/>
<path d="M283.98 644.10H290.41V650.21H283.98Z" fill="#0000f3"/>
<path d="M289.61 644.10H295.24V650.21H289.61Z" fill="#0000c5"/>
<path d="M306.49 644.10H312.92V649.41H306.49Z" fill="#000097"/>
<path d="M312.12 644.10H317.75V649.41H312.12Z" fill="#000097"/>
<path d="M329.00 644.10H334.63V649.41H329.00Z" fill="#0000c5"/>
<path d="M233.33 649.41H239.76V655.52H233.33Z" fill="#000097"/>
<path d="M238.96 649.41H245.38V654.72H244.58V655.52H238.96Z" fill="#000097"/>
<path d="M244.58 649.41H251.01V654.72H244.58Z" fill="#000097"/>
<path d="M250.21 649.41H256.64V655.52H250.21Z" fill="#000097"/>
<path d="M255.84 649.41H262.27V655.52H255.84Z" fill="#000097"/>
<path d="M261.47 649.41H267.90V655.52H261.47Z" fill="#0000c5"/>
<path d="M267.10 649.41H273.52V655.52H267.10Z" fill="#0000c5"/>
<path d="M272.72 649.41H279.15V655.52H272.72Z" fill="#00dbff"/>
<path d="M278.35 649.41H284.78V655.52H278.35Z" fill="#0024ff"/>
<path d="M283.98 649.41H290.41V655.52H283.98Z" fill="#0000f3"/>
<path d="M289.61 649.41H295.24V655.52H289.61Z" fill="#0000c5"/>
<path d="M300.86 649.41H306.49V655.52H300.86Z" fill="#000097"/>
<path d="M227.70 654.72H234.13V660.03H227.70Z" fill="#000097"/>
<path d="M233.33 654.72H239.76V660.03H233.33Z" fill="#000097"/>
<path d="M238.96 654.72H244.58V660.83H238.96Z" fill="#000097"/>
<path d="M250.21 654.72H256.64V660.83H250.21Z" fill="#000097"/>
<path d="M255.84 654.72H262.27V660.83H255.84Z" fill="#0000f3"/>
<path d="M261.47 654.72H267.90V660.83H261.47Z" fill="#000097"/>
<path d="M267.10 654.72H273.52V660.83H267.10Z" fill="#009eff"/>
<path d="M272.72 654.72H279.15V660.03H278.35V660.83H272.72Z" fill="#0061ff"/>
<path d="M278.35 654.72H284.78V660.03H278.35Z" fill="#0024ff"/>
<path d="M283.98 654.72H290.41V660.03H289.61V660.83H283.98Z" fill="#0000f3"/>
<path d="M289.61 654.72H295.24V660.03H289.61Z" fill="#000097"/>
<path d="M300.86 654.72H306.49V660.03H300.86Z" fill="#000097"/>
<path d="M238.96 660.03H245.38V666.14H238.96Z" fill="#000097"/>
<path d="M244.58 660.03H251.01V666.14H244.58Z" fill="#0024ff"/>
<path d="M250.21 660.03H256.64V666.14H250.21Z" fill="#0061ff"/>
<path d="M255.84 660.03H262.27V666.14H255.84Z" fill="#0061ff"/>
<path d="M261.47 660.03H267.90V666.14H261.47Z" fill="#0000f3"/>
<path d="M267.10 660.03H273.52V666.14H267.10Z" fill="#0024ff"/>
<path d="M272.72 660.03H278.35V666.14H272.72Z" fill="#0024ff"/>
<path d="M283.98 660.03H289.61V665.34H283.98Z" fill="#0000c5"/>
<path d="M238.96 665.34H245.38V670.66H238.96Z" fill="#000097"/>
<path d="M244.58 665.34H251.01V671.46H244.58Z" fill="#0000f3"/>
<path d="M250.21 665.34H256.64V671.46H250.21Z" fill="#0024ff"/>
<path d="M255.84 665.34H262.27V671.46H255.84Z" fill="#0061ff"/>
<path d="M261.47 665.34H267.90V671.46H261.47Z" fill="#29ffce"/>
<path d="M267.10 665.34H273.52V671.46H267.10Z" fill="#0024ff"/>
<path d="M272.72 665.34H279.15V671.46H272.72Z" fill="#0000f3"/>
<path d="M278.35 665.34H283.98V671.46H278.35Z" fill="#0000f3"/>
<path d="M289.61 665.34H296.04V671.46H289.61Z" fill="#000097"/>
<path d="M295.24 665.34H300.86V671.46H295.24Z" fill="#000097"/>
<path d="M244.58 670.66H251.01V676.77H244.58Z" fill="#0000c5"/>
<path d="M250.21 670.66H256.64V676.77H250.21Z" fill="#0024ff"/>
<path d="M255.84 670.66H262.27V676.77H255.84Z" fill="#00dbff"/>
<path d="M261.47 670.66H267.90V676.77H261.47Z" fill="#5aff9c"/>
<path d="M267.10 670.66H273.52V676.77H267.10Z" fill="#0024ff"/>
<path d="M272.72 670.66H279.15V676.77H272.72Z" fill="#0000f3"/>
<path d="M278.35 670.66H284.78V675.97H283.98V676.77H278.35Z" fill="#0000f3"/>
<path d="M283.98 670.66H290.41V675.97H283.98Z" fill="#0000c5"/>
<path d="M289.61 670.66H296.04V675.97H289.61Z" fill="#000097"/>
<path d="M295.24 670.66H300.86V675.97H295.24Z" fill="#000097"/>
<path d="M244.58 675.97H251.01V682.08H244.58Z" fill="#0000c5"/>
<path d="M250.21 675.97H256.64V682.08H250.21Z" fill="#0000f3"/>
<path d="M255.84 675.97H262.27V682.08H255.84Z" fill="#0000f3"/>
<path d="M261.47 675.97H267.90V682.08H261.47Z" fill="#009eff"/>
<path d="M267.10 675.97H273.52V682.08H267.10Z" fill="#0061ff"/>
<path d="M272.72 675.97H279.15V681.28H278.35V682.08H272.72Z" fill="#0024ff"/>
<path d="M278.35 675.97H283.98V681.28H278.35Z" fill="#0000f3"/>
<path d="M334.63 675.97H340.26V681.28H334.63Z" fill="#000097"/>
<path d="M244.58 681.28H251.01V687.39H244.58Z" fill="#0000c5"/>
<path d="M250.21 681.28H256.64V687.39H250.21Z" fill="#0000c5"/>
<path d="M255.84 681.28H262.27V687.39H255.84Z" fill="#0000c5"/>
<path d="M261.47 681.28H267.90V687.39H261.47Z" fill="#0061ff"/>
<path d="M267.10 681.28H273.52V686.59H272.72V687.39H267.10Z" fill="#0000f3"/>
<path d="M272.72 681.28H278.35V686.59H272.72Z" fill="#0000f3"/>
<path d="M244.58 686.59H251.01V692.70H244.58Z" fill="#0000c5"/>
<path d="M250.21 686.59H256.64V692.70H250.21Z" fill="#0000c5"/>
<path d="M255.84 686.59H262.27V692.70H255.84Z" fill="#0000c5"/>
<path d="M261.47 686.59H267.90V692.70H261.47Z" fill="#0000c5"/>
<path d="M267.10 686.59H272.72V692.70H267.10Z" fill="#0000c5"/>
<path d="M244.58 691.90H251.01V698.02H244.58Z" fill="#0000c5"/>
<path d="M250.21 691.90H256.64V697.22H255.84V698.02H250.21Z" fill="#0000c5"/>
<path d="M255.84 691.90H262.27V697.22H255.84Z" fill="#0000c5"/>
<path d="M261.47 691.90H267.90V697.22H267.10V698.02H261.47Z" fill="#0000f3"/>
<path d="M267.10 691.90H273.52V697.22H267.10Z" fill="#0000c5"/>
<path d="M272.72 691.90H278.35V697.22H272.72Z" fill="#000097"/>
<path d="M340.26 691.90H345.89V697.22H340.26Z" fill="#000097"/>
<path d="M233.33 697.22H238.96V702.53H233.33Z" fill="#000097"/>
<path d="M244.58 697.22H251.01V702.53H244.58Z" fill="#0000f3"/>
<path d="M250.21 697.22H255.84V703.33H250.21Z" fill="#0000c5"/>
<path d="M261.47 697.22H267.10V703.33H261.47Z" fill="#0000c5"/>
<path d="M238.96 702.53H244.58V708.64H238.96Z" fill="#0000c5"/>
<path d="M250.21 702.53H256.64V708.64H250.21Z" fill="#0000c5"/>
<path d="M255.84 702.53H262.27V708.64H255.84Z" fill="#0000c5"/>
<path d="M261.47 702.53H267.90V708.64H261.47Z" fill="#0000f3"/>
<path d="M267.10 702.53H273.52V708.64H267.10Z" fill="#0000c5"/>
<path d="M272.72 702.53H278.35V708.64H272.72Z" fill="#0000c5"/>
<path d="M351.52 702.53H357.14V707.84H351.52Z" fill="#000097"/>
<path d="M238.96 707.84H245.38V713.95H238.96Z" fill="#0000c5"/>
<path d="M244.58 707.84H251.01V713.95H244.58Z" fill="#0000c5"/>
<path d="M250.21 707.84H256.64V713.95H250.21Z" fill="#0000c5"/>
<path d="M255.84 707.84H262.27V713.95H255.84Z" fill="#0000f3"/>
<path d="M261.47 707.84H267.90V713.95H261.47Z" fill="#0000f3"/>
<path d="M267.10 707.84H273.52V713.15H272.72V713.95H267.10Z" fill="#0061ff"/>
<path d="M272.72 707.84H279.15V713.15H272.72Z" fill="#0000c5"/>
<path d="M278.35 707.84H283.98V713.15H278.35Z" fill="#000097"/>
<path d="M357.14 707.84H362.77V713.95H357.14Z" fill="#000097"/>
<path d="M222.07 713.15H228.50V718.46H222.07Z" fill="#000097"/>
<path d="M227.70 713.15H234.13V718.46H227.70Z" fill="#000097"/>
<path d="M233.33 713.15H239.76V718.46H233.33Z" fill="#000097"/>
<path d="M238.96 713.15H245.38V718.46H238.96Z" fill="#000097"/>
<path d="M244.58 713.15H251.01V719.26H244.58Z" fill="#0000c5"/>
<path d="M250.21 713.15H256.64V719.26H250.21Z" fill="#0000c5"/>
<path d="M255.84 713.15H262.27V719.26H255.84Z" fill="#0000c5"/>
<path d="M261.47 713.15H267.90V719.26H261.47Z" fill="#0000f3"/>
<path d="M267.10 713.15H272.72V719.26H267.10Z" fill="#0000c5"/>
<path d="M351.52 713.15H357.94V718.46H351.52Z" fill="#000097"/>
<path d="M357.14 713.15H362.77V718.46H357.14Z" fill="#000097"/>
<path d="M188.30 718.46H193.93V724.58H188.30Z" fill="#000097"/>
<path d="M199.56 718.46H205.99V723.78H199.56Z" fill="#000097"/>
<path d="M205.19 718.46H211.62V723.78H205.19Z" fill="#000097"/>
<path d="M210.82 718.46H216.44V723.78H210.82Z" fill="#000097"/>
<path d="M244.58 718.46H251.01V724.58H244.58Z" fill="#0000f3"/>
<path d="M250.21 718.46H256.64V724.58H250.21Z" fill="#0000c5"/>
<path d="M255.84 718.46H262.27V724.58H255.84Z" fill="#0000c5"/>
<path d="M261.47 718.46H267.90V724.58H261.47Z" fill="#0000c5"/>
<path d="M267.10 718.46H273.52V724.58H267.10Z" fill="#0000c5"/>
<path d="M272.72 718.46H278.35V724.58H272.72Z" fill="#0000f3"/>
<path d="M188.30 723.78H193.93V729.09H188.30Z" fill="#000097"/>
<path d="M216.44 723.78H222.07V729.09H216.44Z" fill="#000097"/>
<path d="M238.96 723.78H245.38V729.09H238.96Z" fill="#0000f3"/>
<path d="M244.58 723.78H251.01V729.09H244.58Z" fill="#0000c5"/>
<path d="M250.21 723.78H256.64V729.09H250.21Z" fill="#0000c5"/>
<path d="M255.84 723.78H262.27V729.89H255.84Z" fill="#0000f3"/>
<path d="M261.47 723.78H267.90V729.09H267.10V729.89H261.47Z" fill="#0000c5"/>
<path d="M267.10 723.78H273.52V729.09H267.10Z" fill="#0000f3"/>
<path d="M272.72 723.78H278.35V729.09H272.72Z" fill="#0000c5"/>
<path d="M255.84 729.09H262.27V734.40H255.84Z" fill="#0000c5"/>
<path d="M261.47 729.09H267.10V734.40H261.47Z" fill="#0000c5"/>
<path d="M261.47 739.71H267.10V745.02H261.47Z" fill="#000097"/>
<path d="M261.47 750.34H267.10V755.65H261.47Z" fill="#000097"/>
</g>
<line x1="87.0" y1="867.2" x2="509.1" y2="468.8" stroke="#000" stroke-width="1.15"/>
<rect x="87.0" y="468.8" width="422.1" height="398.4" fill="none" stroke="#000" stroke-width="1.06" stroke-opacity="0.8"/>
<line x1="87.0" y1="867.2" x2="87.0" y2="871.7" stroke="#000" stroke-width="1.06" stroke-opacity="0.8"/>
<line x1="87.0" y1="867.2" x2="82.5" y2="867.2" stroke="#000" stroke-width="1.06" stroke-opacity="0.8"/>
<line x1="227.7" y1="867.2" x2="227.7" y2="871.7" stroke="#000" stroke-width="1.06" stroke-opacity="0.8"/>
<line x1="87.0" y1="734.8" x2="82.5" y2="734.8" stroke="#000" stroke-width="1.06" stroke-opacity="0.8"/>
<line x1="368.4" y1="867.2" x2="368.4" y2="871.7" stroke="#000" stroke-width="1.06" stroke-opacity="0.8"/>
<line x1="87.0" y1="602.0" x2="82.5" y2="602.0" stroke="#000" stroke-width="1.06" stroke-opacity="0.8"/>
<line x1="509.1" y1="867.2" x2="509.1" y2="871.7" stroke="#000" stroke-width="1.06" stroke-opacity="0.8"/>
<line x1="87.0" y1="468.8" x2="82.5" y2="468.8" stroke="#000" stroke-width="1.06" stroke-opacity="0.8"/>
<text x="78.0" y="744.6" font-size="26.5" text-anchor="end">2.5</text>
<text x="78.0" y="611.8" font-size="26.5" text-anchor="end">5.0</text>
<text transform="translate(25,668.0) rotate(-90)" font-size="26.5" text-anchor="middle"><tspan class="it">h</tspan><tspan class="it" font-size="18.5" dy="4">c</tspan><tspan dy="-4"> [m]</tspan></text>
<text x="120.8" y="552.2" font-size="39.2">C</text>
<text x="284.0" y="787.5" font-size="18.35" fill="#222">RMSE=2.23m</text>
<text x="284.0" y="840.6" font-size="18.35" fill="#222">bias=-1.87m</text>
<text x="171.4" y="840.6" font-size="18.35" fill="#222">30%</text>
</g>
<g id="panelD">
<g>
<path d="M767.15 474.11H773.58V479.42H767.15Z" fill="#000097"/>
<path d="M772.78 474.11H779.20V480.22H772.78Z" fill="#0024ff"/>
<path d="M778.40 474.11H784.83V480.22H778.40Z" fill="#0024ff"/>
<path d="M784.03 474.11H790.46V480.22H784.03Z" fill="#0000f3"/>
<path d="M789.66 474.11H796.09V480.22H789.66Z" fill="#0000f3"/>
<path d="M795.29 474.11H800.92V480.22H795.29Z" fill="#0000c5"/>
<path d="M761.52 479.42H767.15V484.74H761.52Z" fill="#000097"/>
<path d="M772.78 479.42H779.20V485.54H772.78Z" fill="#0000f3"/>
<path d="M778.40 479.42H784.83V485.54H778.40Z" fill="#0024ff"/>
<path d="M784.03 479.42H790.46V485.54H784.03Z" fill="#0000f3"/>
<path d="M789.66 479.42H796.09V485.54H789.66Z" fill="#0000f3"/>
<path d="M795.29 479.42H801.72V484.74H800.92V485.54H795.29Z" fill="#0000c5"/>
<path d="M800.92 479.42H806.54V484.74H800.92Z" fill="#000097"/>
<path d="M767.15 484.74H773.58V490.85H767.15Z" fill="#0000c5"/>
<path d="M772.78 484.74H779.20V490.85H772.78Z" fill="#000097"/>
<path d="M778.40 484.74H784.83V490.85H778.40Z" fill="#0000f3"/>
<path d="M784.03 484.74H790.46V490.85H784.03Z" fill="#0000f3"/>
<path d="M789.66 484.74H796.09V490.05H795.29V490.85H789.66Z" fill="#000097"/>
<path d="M795.29 484.74H800.92V490.05H795.29Z" fill="#000097"/>
<path d="M761.52 490.05H767.95V495.36H761.52Z" fill="#0000c5"/>
<path d="M767.15 490.05H773.58V496.16H767.15Z" fill="#0000f3"/>
<path d="M772.78 490.05H779.20V496.16H772.78Z" fill="#0000f3"/>
<path d="M778.40 490.05H784.83V496.16H778.40Z" fill="#0000c5"/>
<path d="M784.03 490.05H790.46V496.16H784.03Z" fill="#0000f3"/>
<path d="M789.66 490.05H795.29V496.16H789.66Z" fill="#0000c5"/>
<path d="M767.15 495.36H773.58V501.47H767.15Z" fill="#0000c5"/>
<path d="M772.78 495.36H779.20V501.47H772.78Z" fill="#0000c5"/>
<path d="M778.40 495.36H784.83V501.47H778.40Z" fill="#0000c5"/>
<path d="M784.03 495.36H790.46V501.47H784.03Z" fill="#0000f3"/>
<path d="M789.66 495.36H795.29V501.47H789.66Z" fill="#0000c5"/>
<path d="M761.52 500.67H767.95V506.78H761.52Z" fill="#000097"/>
<path d="M767.15 500.67H773.58V506.78H767.15Z" fill="#0000c5"/>
<path d="M772.78 500.67H779.20V506.78H772.78Z" fill="#0000c5"/>
<path d="M778.40 500.67H784.83V506.78H778.40Z" fill="#0000f3"/>
<path d="M784.03 500.67H790.46V505.98H789.66V506.78H784.03Z" fill="#0000f3"/>
<path d="M789.66 500.67H796.09V505.98H789.66Z" fill="#0000c5"/>
<path d="M795.29 500.67H800.92V506.78H795.29Z" fill="#000097"/>
<path d="M761.52 505.98H767.95V511.30H761.52Z" fill="#000097"/>
<path d="M767.15 505.98H773.58V512.10H767.15Z" fill="#0000c5"/>
<path d="M772.78 505.98H779.20V512.10H772.78Z" fill="#0000f3"/>
<path d="M778.40 505.98H784.83V512.10H778.40Z" fill="#0000c5"/>
<path d="M784.03 505.98H789.66V512.10H784.03Z" fill="#0000c5"/>
<path d="M795.29 505.98H801.72V512.10H795.29Z" fill="#000097"/>
<path d="M800.92 505.98H807.34V512.10H800.92Z" fill="#0000c5"/>
<path d="M806.54 505.98H812.17V512.10H806.54Z" fill="#000097"/>
<path d="M817.80 505.98H824.23V511.30H817.80Z" fill="#000097"/>
<path d="M823.43 505.98H829.06V511.30H823.43Z" fill="#000097"/>
<path d="M767.15 511.30H773.58V516.61H767.15Z" fill="#0000c5"/>
<path d="M772.78 511.30H779.20V516.61H772.78Z" fill="#0000f3"/>
<path d="M778.40 511.30H784.83V516.61H778.40Z" fill="#0000c5"/>
<path d="M784.03 511.30H790.46V517.41H784.03Z" fill="#0000c5"/>
<path d="M789.66 511.30H796.09V517.41H789.66Z" fill="#0000c5"/>
<path d="M795.29 511.30H801.72V517.41H795.29Z" fill="#0000f3"/>
<path d="M800.92 511.30H807.34V517.41H800.92Z" fill="#0000c5"/>
<path d="M806.54 511.30H812.97V517.41H806.54Z" fill="#0000c5"/>
<path d="M812.17 511.30H817.80V517.41H812.17Z" fill="#000097"/>
<path d="M784.03 516.61H790.46V522.72H784.03Z" fill="#000097"/>
<path d="M789.66 516.61H796.09V522.72H789.66Z" fill="#0000c5"/>
<path d="M795.29 516.61H801.72V522.72H795.29Z" fill="#0024ff"/>
<path d="M800.92 516.61H807.34V522.72H800.92Z" fill="#0000c5"/>
<path d="M806.54 516.61H812.97V522.72H806.54Z" fill="#0000c5"/>
<path d="M812.17 516.61H817.80V522.72H812.17Z" fill="#000097"/>
<path d="M784.03 521.92H790.46V528.03H784.03Z" fill="#000097"/>
<path d="M789.66 521.92H796.09V528.03H789.66Z" fill="#0000c5"/>
<path d="M795.29 521.92H801.72V528.03H795.29Z" fill="#0000f3"/>
<path d="M800.92 521.92H807.34V528.03H800.92Z" fill="#000097"/>
<path d="M806.54 521.92H812.97V527.23H812.17V528.03H806.54Z" fill="#0000c5"/>
<path d="M812.17 521.92H817.80V527.23H812.17Z" fill="#000097"/>
<path d="M823.43 521.92H829.06V527.23H823.43Z" fill="#000097"/>
<path d="M834.68 521.92H840.31V527.23H834.68Z" fill="#000097"/>
<path d="M772.78 527.23H779.20V532.54H772.78Z" fill="#000097"/>
<path d="M778.40 527.23H784.83V533.34H778.40Z" fill="#000097"/>
<path d="M784.03 527.23H790.46V533.34H784.03Z" fill="#000097"/>
<path d="M789.66 527.23H796.09V533.34H789.66Z" fill="#0000f3"/>
<path d="M795.29 527.23H801.72V533.34H795.29Z" fill="#0000f3"/>
<path d="M800.92 527.23H807.34V533.34H800.92Z" fill="#0000f3"/>
<path d="M806.54 527.23H812.17V533.34H806.54Z" fill="#0000f3"/>
<path d="M778.40 532.54H784.83V538.66H778.40Z" fill="#000097"/>
<path d="M784.03 532.54H790.46V538.66H784.03Z" fill="#0000f3"/>
<path d="M789.66 532.54H796.09V538.66H789.66Z" fill="#0000f3"/>
<path d="M795.29 532.54H801.72V538.66H795.29Z" fill="#0061ff"/>
<path d="M800.92 532.54H807.34V538.66H800.92Z" fill="#0000c5"/>
<path d="M806.54 532.54H812.97V538.66H806.54Z" fill="#0000c5"/>
<path d="M812.17 532.54H817.80V538.66H812.17Z" fill="#000097"/>
<path d="M778.40 537.86H784.83V543.97H778.40Z" fill="#000097"/>
<path d="M784.03 537.86H790.46V543.97H784.03Z" fill="#0000c5"/>
<path d="M789.66 537.86H796.09V543.97H789.66Z" fill="#0000c5"/>
<path d="M795.29 537.86H801.72V543.97H795.29Z" fill="#0000c5"/>
<path d="M800.92 537.86H807.34V543.97H800.92Z" fill="#0000c5"/>
<path d="M806.54 537.86H812.97V543.17H812.17V543.97H806.54Z" fill="#000097"/>
<path d="M812.17 537.86H817.80V543.17H812.17Z" fill="#000097"/>
<path d="M772.78 543.17H779.20V548.48H772.78Z" fill="#000097"/>
<path d="M778.40 543.17H784.83V549.28H778.40Z" fill="#0000c5"/>
<path d="M784.03 543.17H790.46V549.28H784.03Z" fill="#0000c5"/>
<path d="M789.66 543.17H796.09V549.28H789.66Z" fill="#0000c5"/>
<path d="M795.29 543.17H801.72V549.28H795.29Z" fill="#000097"/>
<path d="M800.92 543.17H807.34V548.48H806.54V549.28H800.92Z" fill="#000097"/>
<path d="M806.54 543.17H812.17V548.48H806.54Z" fill="#0000c5"/>
<path d="M778.40 548.48H784.83V554.59H778.40Z" fill="#0000c5"/>
<path d="M784.03 548.48H790.46V554.59H784.03Z" fill="#0000c5"/>
<path d="M789.66 548.48H796.09V554.59H789.66Z" fill="#0000c5"/>
<path d="M795.29 548.48H801.72V554.59H795.29Z" fill="#000097"/>
<path d="M800.92 548.48H806.54V554.59H800.92Z" fill="#000097"/>
<path d="M772.78 553.79H779.20V559.90H772.78Z" fill="#000097"/>
<path d="M778.40 553.79H784.83V559.90H778.40Z" fill="#000097"/>
<path d="M784.03 553.79H790.46V559.90H784.03Z" fill="#0024ff"/>
<path d="M789.66 553.79H796.09V559.90H789.66Z" fill="#000097"/>
<path d="M795.29 553.79H801.72V559.90H795.29Z" fill="#0000f3"/>
<path d="M800.92 553.79H806.54V559.90H800.92Z" fill="#0000c5"/>
<path d="M755.89 559.10H761.52V564.42H755.89Z" fill="#000097"/>
<path d="M767.15 559.10H773.58V565.22H767.15Z" fill="#000097"/>
<path d="M772.78 559.10H779.20V565.22H772.78Z" fill="#000097"/>
<path d="M778.40 559.10H784.83V565.22H778.40Z" fill="#0000c5"/>
<path d="M784.03 559.10H790.46V565.22H784.03Z" fill="#0024ff"/>
<path d="M789.66 559.10H796.09V565.22H789.66Z" fill="#0000f3"/>
<path d="M795.29 559.10H801.72V565.22H795.29Z" fill="#0000f3"/>
<path d="M800.92 559.10H807.34V565.22H800.92Z" fill="#000097"/>
<path d="M806.54 559.10H812.17V565.22H806.54Z" fill="#000097"/>
<path d="M767.15 564.42H773.58V570.53H767.15Z" fill="#0000c5"/>
<path d="M772.78 564.42H779.20V570.53H772.78Z" fill="#0024ff"/>
<path d="M778.40 564.42H784.83V570.53H778.40Z" fill="#009eff"/>
<path d="M784.03 564.42H790.46V570.53H784.03Z" fill="#00dbff"/>
<path d="M789.66 564.42H796.09V570.53H789.66Z" fill="#0024ff"/>
<path d="M795.29 564.42H801.72V570.53H795.29Z" fill="#0000f3"/>
<path d="M800.92 564.42H807.34V569.73H806.54V570.53H800.92Z" fill="#0000c5"/>
<path d="M806.54 564.42H812.17V569.73H806.54Z" fill="#000097"/>
<path d="M761.52 569.73H767.95V575.04H761.52Z" fill="#000097"/>
<path d="M767.15 569.73H773.58V575.84H767.15Z" fill="#000097"/>
<path d="M772.78 569.73H779.20V575.84H772.78Z" fill="#0000c5"/>
<path d="M778.40 569.73H784.83V575.84H778.40Z" fill="#009eff"/>
<path d="M784.03 569.73H790.46V575.84H784.03Z" fill="#0061ff"/>
<path d="M789.66 569.73H796.09V575.84H789.66Z" fill="#0061ff"/>
<path d="M795.29 569.73H801.72V575.84H795.29Z" fill="#0000f3"/>
<path d="M800.92 569.73H806.54V575.84H800.92Z" fill="#0000c5"/>
<path d="M812.17 569.73H818.60V575.04H817.80V575.84H812.17Z" fill="#000097"/>
<path d="M817.80 569.73H823.43V575.04H817.80Z" fill="#000097"/>
<path d="M767.15 575.04H773.58V581.15H767.15Z" fill="#0000f3"/>
<path d="M772.78 575.04H779.20V581.15H772.78Z" fill="#0000c5"/>
<path d="M778.40 575.04H784.83V581.15H778.40Z" fill="#0024ff"/>
<path d="M784.03 575.04H790.46V581.15H784.03Z" fill="#0024ff"/>
<path d="M789.66 575.04H796.09V581.15H789.66Z" fill="#0000f3"/>
<path d="M795.29 575.04H801.72V581.15H795.29Z" fill="#0000c5"/>
<path d="M800.92 575.04H807.34V581.15H800.92Z" fill="#0061ff"/>
<path d="M806.54 575.04H812.97V580.35H812.17V581.15H806.54Z" fill="#0000c5"/>
<path d="M812.17 575.04H817.80V580.35H812.17Z" fill="#0000c5"/>
<path d="M761.52 580.35H767.95V586.46H761.52Z" fill="#0000c5"/>
<path d="M767.15 580.35H773.58V586.46H767.15Z" fill="#0000f3"/>
<path d="M772.78 580.35H779.20V586.46H772.78Z" fill="#0000f3"/>
<path d="M778.40 580.35H784.83V586.46H778.40Z" fill="#009eff"/>
<path d="M784.03 580.35H790.46V586.46H784.03Z" fill="#0061ff"/>
<path d="M789.66 580.35H796.09V586.46H789.66Z" fill="#0000f3"/>
<path d="M795.29 580.35H801.72V585.66H800.92V586.46H795.29Z" fill="#0000c5"/>
<path d="M800.92 580.35H807.34V585.66H800.92Z" fill="#000097"/>
<path d="M806.54 580.35H812.17V585.66H806.54Z" fill="#000097"/>
<path d="M755.89 585.66H762.32V591.78H755.89Z" fill="#0000c5"/>
<path d="M761.52 585.66H767.95V591.78H761.52Z" fill="#0000f3"/>
<path d="M767.15 585.66H773.58V591.78H767.15Z" fill="#0000f3"/>
<path d="M772.78 585.66H779.20V591.78H772.78Z" fill="#0024ff"/>
<path d="M778.40 585.66H784.83V591.78H778.40Z" fill="#009eff"/>
<path d="M784.03 585.66H790.46V591.78H784.03Z" fill="#0061ff"/>
<path d="M789.66 585.66H796.09V591.78H789.66Z" fill="#000097"/>
<path d="M795.29 585.66H800.92V591.78H795.29Z" fill="#0000c5"/>
<path d="M755.89 590.98H762.32V597.09H755.89Z" fill="#000097"/>
<path d="M761.52 590.98H767.95V597.09H761.52Z" fill="#0000c5"/>
<path d="M767.15 590.98H773.58V597.09H767.15Z" fill="#0000f3"/>
<path d="M772.78 590.98H779.20V597.09H772.78Z" fill="#0000f3"/>
<path d="M778.40 590.98H784.83V597.09H778.40Z" fill="#009eff"/>
<path d="M784.03 590.98H790.46V597.09H784.03Z" fill="#0024ff"/>
<path d="M789.66 590.98H796.09V596.29H795.29V597.09H789.66Z" fill="#0000f3"/>
<path d="M795.29 590.98H800.92V596.29H795.29Z" fill="#0000c5"/>
<path d="M733.38 596.29H739.01V601.60H733.38Z" fill="#000097"/>
<path d="M744.64 596.29H751.06V602.40H744.64Z" fill="#000097"/>
<path d="M750.26 596.29H756.69V602.40H750.26Z" fill="#000097"/>
<path d="M755.89 596.29H762.32V602.40H755.89Z" fill="#0000c5"/>
<path d="M761.52 596.29H767.95V602.40H761.52Z" fill="#0000f3"/>
<path d="M767.15 596.29H773.58V602.40H767.15Z" fill="#0000f3"/>
<path d="M772.78 596.29H779.20V602.40H772.78Z" fill="#0061ff"/>
<path d="M778.40 596.29H784.83V602.40H778.40Z" fill="#0000f3"/>
<path d="M784.03 596.29H790.46V601.60H789.66V602.40H784.03Z" fill="#0000f3"/>
<path d="M789.66 596.29H795.29V601.60H789.66Z" fill="#0000c5"/>
<path d="M693.98 601.60H699.61V606.91H693.98Z" fill="#000097"/>
<path d="M744.64 601.60H751.06V607.71H744.64Z" fill="#000097"/>
<path d="M750.26 601.60H756.69V607.71H750.26Z" fill="#0000c5"/>
<path d="M755.89 601.60H762.32V607.71H755.89Z" fill="#0000f3"/>
<path d="M761.52 601.60H767.95V607.71H761.52Z" fill="#0000f3"/>
<path d="M767.15 601.60H773.58V607.71H767.15Z" fill="#0000f3"/>
<path d="M772.78 601.60H779.20V607.71H772.78Z" fill="#0000f3"/>
<path d="M778.40 601.60H784.83V606.91H784.03V607.71H778.40Z" fill="#0024ff"/>
<path d="M784.03 601.60H789.66V606.91H784.03Z" fill="#000097"/>
<path d="M699.61 606.91H706.04V613.02H699.61Z" fill="#000097"/>
<path d="M705.24 606.91H711.67V612.22H710.87V613.02H705.24Z" fill="#000097"/>
<path d="M710.87 606.91H716.50V612.22H710.87Z" fill="#000097"/>
<path d="M744.64 606.91H751.06V613.02H744.64Z" fill="#000097"/>
<path d="M750.26 606.91H756.69V613.02H750.26Z" fill="#0000c5"/>
<path d="M755.89 606.91H762.32V613.02H755.89Z" fill="#0000f3"/>
<path d="M761.52 606.91H767.95V613.02H761.52Z" fill="#0024ff"/>
<path d="M767.15 606.91H773.58V613.02H767.15Z" fill="#0000f3"/>
<path d="M772.78 606.91H779.20V613.02H772.78Z" fill="#0000f3"/>
<path d="M778.40 606.91H784.03V613.02H778.40Z" fill="#0000c5"/>
<path d="M693.98 612.22H700.41V617.54H699.61V618.34H693.98Z" fill="#000097"/>
<path d="M699.61 612.22H706.04V617.54H699.61Z" fill="#000097"/>
<path d="M705.24 612.22H710.87V618.34H705.24Z" fill="#000097"/>
<path d="M733.38 612.22H739.81V617.54H733.38Z" fill="#000097"/>
<path d="M739.01 612.22H745.44V617.54H739.01Z" fill="#000097"/>
<path d="M744.64 612.22H751.06V618.34H744.64Z" fill="#0000c5"/>
<path d="M750.26 612.22H756.69V618.34H750.26Z" fill="#0000c5"/>
<path d="M755.89 612.22H762.32V618.34H755.89Z" fill="#0000f3"/>
<path d="M761.52 612.22H767.95V618.34H761.52Z" fill="#00dbff"/>
<path d="M767.15 612.22H773.58V618.34H767.15Z" fill="#0000f3"/>
<path d="M772.78 612.22H779.20V618.34H772.78Z" fill="#0000f3"/>
<path d="M778.40 612.22H784.83V617.54H784.03V618.34H778.40Z" fill="#0000c5"/>
<path d="M784.03 612.22H790.46V617.54H784.03Z" fill="#000097"/>
<path d="M789.66 612.22H795.29V617.54H789.66Z" fill="#000097"/>
<path d="M682.73 617.54H688.36V622.85H682.73Z" fill="#000097"/>
<path d="M693.98 617.54H699.61V622.85H693.98Z" fill="#000097"/>
<path d="M705.24 617.54H710.87V623.65H705.24Z" fill="#000097"/>
<path d="M727.75 617.54H733.38V622.85H727.75Z" fill="#000097"/>
<path d="M744.64 617.54H751.06V623.65H744.64Z" fill="#0000c5"/>
<path d="M750.26 617.54H756.69V623.65H750.26Z" fill="#0000f3"/>
<path d="M755.89 617.54H762.32V623.65H755.89Z" fill="#0061ff"/>
<path d="M761.52 617.54H767.95V623.65H761.52Z" fill="#009eff"/>
<path d="M767.15 617.54H773.58V623.65H767.15Z" fill="#0000f3"/>
<path d="M772.78 617.54H779.20V623.65H772.78Z" fill="#0000f3"/>
<path d="M778.40 617.54H784.03V623.65H778.40Z" fill="#0000c5"/>
<path d="M677.10 622.85H682.73V628.16H677.10Z" fill="#000097"/>
<path d="M705.24 622.85H711.67V628.96H705.24Z" fill="#000097"/>
<path d="M710.87 622.85H716.50V628.96H710.87Z" fill="#000097"/>
<path d="M733.38 622.85H739.01V628.96H733.38Z" fill="#000097"/>
<path d="M744.64 622.85H751.06V628.96H744.64Z" fill="#0000c5"/>
<path d="M750.26 622.85H756.69V628.96H750.26Z" fill="#0000f3"/>
<path d="M755.89 622.85H762.32V628.96H755.89Z" fill="#0000f3"/>
<path d="M761.52 622.85H767.95V628.96H761.52Z" fill="#0024ff"/>
<path d="M767.15 622.85H773.58V628.16H772.78V628.96H767.15Z" fill="#0000c5"/>
<path d="M772.78 622.85H779.20V628.16H772.78Z" fill="#0000c5"/>
<path d="M778.40 622.85H784.03V628.16H778.40Z" fill="#000097"/>
<path d="M699.61 628.16H706.04V634.27H699.61Z" fill="#000097"/>
<path d="M705.24 628.16H711.67V633.47H710.87V634.27H705.24Z" fill="#000097"/>
<path d="M710.87 628.16H717.30V633.47H710.87Z" fill="#000097"/>
<path d="M716.50 628.16H722.92V633.47H716.50Z" fill="#000097"/>
<path d="M722.12 628.16H727.75V634.27H722.12Z" fill="#000097"/>
<path d="M733.38 628.16H739.81V634.27H733.38Z" fill="#000097"/>
<path d="M739.01 628.16H745.44V634.27H739.01Z" fill="#0000c5"/>
<path d="M744.64 628.16H751.06V634.27H744.64Z" fill="#0000f3"/>
<path d="M750.26 628.16H756.69V634.27H750.26Z" fill="#0024ff"/>
<path d="M755.89 628.16H762.32V634.27H755.89Z" fill="#0000f3"/>
<path d="M761.52 628.16H767.95V634.27H761.52Z" fill="#000097"/>
<path d="M767.15 628.16H772.78V634.27H767.15Z" fill="#0000c5"/>
<path d="M699.61 633.47H706.04V638.78H699.61Z" fill="#000097"/>
<path d="M705.24 633.47H710.87V639.58H705.24Z" fill="#000097"/>
<path d="M722.12 633.47H728.55V639.58H722.12Z" fill="#000097"/>
<path d="M727.75 633.47H734.18V639.58H727.75Z" fill="#0000c5"/>
<path d="M733.38 633.47H739.81V639.58H733.38Z" fill="#0000c5"/>
<path d="M739.01 633.47H745.44V639.58H739.01Z" fill="#0000f3"/>
<path d="M744.64 633.47H751.06V639.58H744.64Z" fill="#0024ff"/>
<path d="M750.26 633.47H756.69V639.58H750.26Z" fill="#0024ff"/>
<path d="M755.89 633.47H762.32V638.78H761.52V639.58H755.89Z" fill="#0000f3"/>
<path d="M761.52 633.47H767.95V638.78H761.52Z" fill="#0000c5"/>
<path d="M767.15 633.47H772.78V638.78H767.15Z" fill="#000097"/>
<path d="M682.73 638.78H688.36V644.90H682.73Z" fill="#000097"/>
<path d="M693.98 638.78H699.61V644.10H693.98Z" fill="#000097"/>
<path d="M705.24 638.78H711.67V644.90H705.24Z" fill="#000097"/>
<path d="M710.87 638.78H717.30V644.90H710.87Z" fill="#0000c5"/>
<path d="M716.50 638.78H722.92V644.90H716.50Z" fill="#0000c5"/>
<path d="M722.12 638.78H728.55V644.90H722.12Z" fill="#0000c5"/>
<path d="M727.75 638.78H734.18V644.90H727.75Z" fill="#0061ff"/>
<path d="M733.38 638.78H739.81V644.90H733.38Z" fill="#00dbff"/>
<path d="M739.01 638.78H745.44V644.90H739.01Z" fill="#0000f3"/>
<path d="M744.64 638.78H751.06V644.90H744.64Z" fill="#00dbff"/>
<path d="M750.26 638.78H756.69V644.90H750.26Z" fill="#0000f3"/>
<path d="M755.89 638.78H761.52V644.90H755.89Z" fill="#0000c5"/>
<path d="M682.73 644.10H688.36V650.21H682.73Z" fill="#000097"/>
<path d="M705.24 644.10H711.67V650.21H705.24Z" fill="#000097"/>
<path d="M710.87 644.10H717.30V650.21H710.87Z" fill="#0000f3"/>
<path d="M716.50 644.10H722.92V650.21H716.50Z" fill="#0000f3"/>
<path d="M722.12 644.10H728.55V650.21H722.12Z" fill="#0000c5"/>
<path d="M727.75 644.10H734.18V650.21H727.75Z" fill="#0000f3"/>
<path d="M733.38 644.10H739.81V650.21H733.38Z" fill="#0061ff"/>
<path d="M739.01 644.10H745.44V650.21H739.01Z" fill="#0061ff"/>
<path d="M744.64 644.10H751.06V650.21H744.64Z" fill="#0061ff"/>
<path d="M750.26 644.10H756.69V649.41H755.89V650.21H750.26Z" fill="#0000c5"/>
<path d="M755.89 644.10H761.52V649.41H755.89Z" fill="#0000c5"/>
<path d="M682.73 649.41H688.36V655.52H682.73Z" fill="#000097"/>
<path d="M705.24 649.41H711.67V655.52H705.24Z" fill="#000097"/>
<path d="M710.87 649.41H717.30V655.52H710.87Z" fill="#0024ff"/>
<path d="M716.50 649.41H722.92V655.52H716.50Z" fill="#0024ff"/>
<path d="M722.12 649.41H728.55V655.52H722.12Z" fill="#0000f3"/>
<path d="M727.75 649.41H734.18V655.52H727.75Z" fill="#0061ff"/>
<path d="M733.38 649.41H739.81V655.52H733.38Z" fill="#29ffce"/>
<path d="M739.01 649.41H745.44V655.52H739.01Z" fill="#29ffce"/>
<path d="M744.64 649.41H751.06V655.52H744.64Z" fill="#0000f3"/>
<path d="M750.26 649.41H755.89V655.52H750.26Z" fill="#0000c5"/>
<path d="M761.52 649.41H767.15V654.72H761.52Z" fill="#000097"/>
<path d="M643.33 654.72H648.96V660.03H643.33Z" fill="#000097"/>
<path d="M682.73 654.72H689.16V660.03H682.73Z" fill="#000097"/>
<path d="M688.36 654.72H693.98V660.83H688.36Z" fill="#000097"/>
<path d="M699.61 654.72H706.04V660.83H699.61Z" fill="#000097"/>
<path d="M705.24 654.72H711.67V660.83H705.24Z" fill="#0000c5"/>
<path d="M710.87 654.72H717.30V660.83H710.87Z" fill="#5aff9c"/>
<path d="M716.50 654.72H722.92V660.83H716.50Z" fill="#8cff6b"/>
<path d="M722.12 654.72H728.55V660.83H722.12Z" fill="#29ffce"/>
<path d="M727.75 654.72H734.18V660.83H727.75Z" fill="#29ffce"/>
<path d="M733.38 654.72H739.81V660.83H733.38Z" fill="#0061ff"/>
<path d="M739.01 654.72H745.44V660.83H739.01Z" fill="#009eff"/>
<path d="M744.64 654.72H751.06V660.03H750.26V660.83H744.64Z" fill="#0000c5"/>
<path d="M750.26 654.72H755.89V660.03H750.26Z" fill="#0000c5"/>
<path d="M654.59 660.03H660.22V665.34H654.59Z" fill="#000097"/>
<path d="M688.36 660.03H694.78V665.34H688.36Z" fill="#000097"/>
<path d="M693.98 660.03H700.41V666.14H693.98Z" fill="#0000c5"/>
<path d="M699.61 660.03H706.04V666.14H699.61Z" fill="#0000f3"/>
<path d="M705.24 660.03H711.67V666.14H705.24Z" fill="#0000f3"/>
<path d="M710.87 660.03H717.30V666.14H710.87Z" fill="#5aff9c"/>
<path d="M716.50 660.03H722.92V666.14H716.50Z" fill="#efff08"/>
<path d="M722.12 660.03H728.55V666.14H722.12Z" fill="#0024ff"/>
<path d="M727.75 660.03H734.18V666.14H727.75Z" fill="#0000f3"/>
<path d="M733.38 660.03H739.81V666.14H733.38Z" fill="#0000c5"/>
<path d="M739.01 660.03H745.44V665.34H744.64V666.14H739.01Z" fill="#0000c5"/>
<path d="M744.64 660.03H750.26V665.34H744.64Z" fill="#0000c5"/>
<path d="M665.84 665.34H671.47V670.66H665.84Z" fill="#000097"/>
<path d="M677.10 665.34H683.53V670.66H677.10Z" fill="#000097"/>
<path d="M682.73 665.34H688.36V670.66H682.73Z" fill="#000097"/>
<path d="M693.98 665.34H700.41V671.46H693.98Z" fill="#0000c5"/>
<path d="M699.61 665.34H706.04V671.46H699.61Z" fill="#0000f3"/>
<path d="M705.24 665.34H711.67V671.46H705.24Z" fill="#0024ff"/>
<path d="M710.87 665.34H717.30V671.46H710.87Z" fill="#0000f3"/>
<path d="M716.50 665.34H722.92V671.46H716.50Z" fill="#5aff9c"/>
<path d="M722.12 665.34H728.55V671.46H722.12Z" fill="#5aff9c"/>
<path d="M727.75 665.34H734.18V671.46H727.75Z" fill="#29ffce"/>
<path d="M733.38 665.34H739.81V670.66H739.01V671.46H733.38Z" fill="#0024ff"/>
<path d="M739.01 665.34H744.64V670.66H739.01Z" fill="#0000f3"/>
<path d="M693.98 670.66H700.41V675.97H693.98Z" fill="#000097"/>
<path d="M699.61 670.66H706.04V676.77H699.61Z" fill="#0000c5"/>
<path d="M705.24 670.66H711.67V676.77H705.24Z" fill="#0000c5"/>
<path d="M710.87 670.66H717.30V676.77H710.87Z" fill="#0000c5"/>
<path d="M716.50 670.66H722.92V676.77H716.50Z" fill="#0000c5"/>
<path d="M722.12 670.66H728.55V676.77H722.12Z" fill="#0000c5"/>
<path d="M727.75 670.66H734.18V675.97H733.38V676.77H727.75Z" fill="#000097"/>
<path d="M733.38 670.66H739.01V675.97H733.38Z" fill="#000097"/>
<path d="M699.61 675.97H706.04V682.08H699.61Z" fill="#0000c5"/>
<path d="M705.24 675.97H711.67V682.08H705.24Z" fill="#0000f3"/>
<path d="M710.87 675.97H717.30V682.08H710.87Z" fill="#0000f3"/>
<path d="M716.50 675.97H722.92V682.08H716.50Z" fill="#0061ff"/>
<path d="M722.12 675.97H728.55V682.08H722.12Z" fill="#0000f3"/>
<path d="M727.75 675.97H733.38V682.08H727.75Z" fill="#0000c5"/>
<path d="M688.36 681.28H694.78V686.59H688.36Z" fill="#000097"/>
<path d="M693.98 681.28H700.41V686.59H693.98Z" fill="#000097"/>
<path d="M699.61 681.28H706.04V687.39H699.61Z" fill="#0000c5"/>
<path d="M705.24 681.28H711.67V687.39H705.24Z" fill="#0000f3"/>
<path d="M710.87 681.28H717.30V687.39H710.87Z" fill="#0024ff"/>
<path d="M716.50 681.28H722.92V687.39H716.50Z" fill="#00dbff"/>
<path d="M722.12 681.28H728.55V687.39H722.12Z" fill="#0024ff"/>
<path d="M727.75 681.28H733.38V687.39H727.75Z" fill="#0000c5"/>
<path d="M699.61 686.59H706.04V692.70H699.61Z" fill="#0000f3"/>
<path d="M705.24 686.59H711.67V692.70H705.24Z" fill="#0024ff"/>
<path d="M710.87 686.59H717.30V692.70H710.87Z" fill="#0061ff"/>
<path d="M716.50 686.59H722.92V692.70H716.50Z" fill="#0061ff"/>
<path d="M722.12 686.59H728.55V692.70H722.12Z" fill="#0000f3"/>
<path d="M727.75 686.59H734.18V691.90H733.38V692.70H727.75Z" fill="#0000c5"/>
<path d="M733.38 686.59H739.01V691.90H733.38Z" fill="#000097"/>
<path d="M592.68 691.90H598.31V697.22H592.68Z" fill="#000097"/>
<path d="M699.61 691.90H706.04V698.02H699.61Z" fill="#0000f3"/>
<path d="M705.24 691.90H711.67V698.02H705.24Z" fill="#0061ff"/>
<path d="M710.87 691.90H717.30V698.02H710.87Z" fill="#0024ff"/>
<path d="M716.50 691.90H722.92V697.22H722.12V698.02H716.50Z" fill="#0000f3"/>
<path d="M722.12 691.90H728.55V697.22H722.12Z" fill="#0000c5"/>
<path d="M727.75 691.90H733.38V697.22H727.75Z" fill="#0000c5"/>
<path d="M693.98 697.22H700.41V703.33H693.98Z" fill="#000097"/>
<path d="M699.61 697.22H706.04V703.33H699.61Z" fill="#0024ff"/>
<path d="M705.24 697.22H711.67V703.33H705.24Z" fill="#0024ff"/>
<path d="M710.87 697.22H717.30V703.33H710.87Z" fill="#0000f3"/>
<path d="M716.50 697.22H722.12V703.33H716.50Z" fill="#0000c5"/>
<path d="M693.98 702.53H700.41V708.64H693.98Z" fill="#000097"/>
<path d="M699.61 702.53H706.04V708.64H699.61Z" fill="#0000f3"/>
<path d="M705.24 702.53H711.67V708.64H705.24Z" fill="#0024ff"/>
<path d="M710.87 702.53H717.30V707.84H716.50V708.64H710.87Z" fill="#0024ff"/>
<path d="M716.50 702.53H722.12V707.84H716.50Z" fill="#0000f3"/>
<path d="M693.98 707.84H700.41V713.95H693.98Z" fill="#000097"/>
<path d="M699.61 707.84H706.04V713.95H699.61Z" fill="#0000c5"/>
<path d="M705.24 707.84H711.67V713.95H705.24Z" fill="#0000c5"/>
<path d="M710.87 707.84H716.50V713.95H710.87Z" fill="#0000c5"/>
<path d="M648.96 713.15H654.59V718.46H648.96Z" fill="#000097"/>
<path d="M693.98 713.15H700.41V718.46H699.61V719.26H693.98Z" fill="#000097"/>
<path d="M699.61 713.15H706.04V718.46H699.61Z" fill="#0000c5"/>
<path d="M705.24 713.15H711.67V718.46H705.24Z" fill="#0000f3"/>
<path d="M710.87 713.15H716.50V718.46H710.87Z" fill="#0000c5"/>
<path d="M654.59 718.46H660.22V724.58H654.59Z" fill="#000097"/>
<path d="M688.36 718.46H694.78V723.78H693.98V724.58H688.36Z" fill="#000097"/>
<path d="M693.98 718.46H699.61V723.78H693.98Z" fill="#000097"/>
<path d="M654.59 723.78H661.02V729.09H654.59Z" fill="#000097"/>
<path d="M660.22 723.78H665.84V729.89H660.22Z" fill="#000097"/>
<path d="M677.10 723.78H683.53V729.09H682.73V729.89H677.10Z" fill="#000097"/>
<path d="M682.73 723.78H689.16V729.09H682.73Z" fill="#000097"/>
<path d="M688.36 723.78H693.98V729.09H688.36Z" fill="#000097"/>
<path d="M660.22 729.09H665.84V735.20H660.22Z" fill="#0000c5"/>
<path d="M671.47 729.09H677.90V734.40H677.10V735.20H671.47Z" fill="#000097"/>
<path d="M677.10 729.09H682.73V734.40H677.10Z" fill="#000097"/>
<path d="M660.22 734.40H666.64V739.71H660.22Z" fill="#000097"/>
<path d="M665.84 734.40H672.27V739.71H665.84Z" fill="#0000f3"/>
<path d="M671.47 734.40H677.10V739.71H671.47Z" fill="#000097"/>
</g>
<line x1="536.4" y1="867.2" x2="958.5" y2="468.8" stroke="#000" stroke-width="1.15"/>
<rect x="536.4" y="468.8" width="422.1" height="398.4" fill="none" stroke="#000" stroke-width="1.06" stroke-opacity="0.8"/>
<line x1="536.4" y1="867.2" x2="536.4" y2="871.7" stroke="#000" stroke-width="1.06" stroke-opacity="0.8"/>
<line x1="536.4" y1="867.2" x2="531.9" y2="867.2" stroke="#000" stroke-width="1.06" stroke-opacity="0.8"/>
<line x1="677.1" y1="867.2" x2="677.1" y2="871.7" stroke="#000" stroke-width="1.06" stroke-opacity="0.8"/>
<line x1="536.4" y1="734.8" x2="531.9" y2="734.8" stroke="#000" stroke-width="1.06" stroke-opacity="0.8"/>
<line x1="817.8" y1="867.2" x2="817.8" y2="871.7" stroke="#000" stroke-width="1.06" stroke-opacity="0.8"/>
<line x1="536.4" y1="602.0" x2="531.9" y2="602.0" stroke="#000" stroke-width="1.06" stroke-opacity="0.8"/>
<line x1="958.5" y1="867.2" x2="958.5" y2="871.7" stroke="#000" stroke-width="1.06" stroke-opacity="0.8"/>
<line x1="536.4" y1="468.8" x2="531.9" y2="468.8" stroke="#000" stroke-width="1.06" stroke-opacity="0.8"/>
<text x="570.2" y="552.2" font-size="39.2">D</text>
<text x="733.4" y="787.5" font-size="18.35" fill="#222">RMSE=1.75m</text>
<text x="733.4" y="840.6" font-size="18.35" fill="#222">bias=-1.32m</text>
<text x="620.8" y="840.6" font-size="18.35" fill="#222">26%</text>
</g>
<g id="panelE">
<g>
<path d="M334.63 1001.23H341.06V1007.34H334.63Z" fill="#000097"/>
<path d="M340.26 1001.23H345.89V1007.34H340.26Z" fill="#000097"/>
<path d="M351.52 1001.23H357.14V1006.54H351.52Z" fill="#000097"/>
<path d="M312.12 1006.54H317.75V1011.85H312.12Z" fill="#000097"/>
<path d="M329.00 1006.54H335.43V1012.65H329.00Z" fill="#000097"/>
<path d="M334.63 1006.54H341.06V1012.65H334.63Z" fill="#0000f3"/>
<path d="M340.26 1006.54H346.69V1012.65H340.26Z" fill="#0000c5"/>
<path d="M345.89 1006.54H351.52V1012.65H345.89Z" fill="#000097"/>
<path d="M329.00 1011.85H335.43V1017.96H329.00Z" fill="#000097"/>
<path d="M334.63 1011.85H341.06V1017.96H334.63Z" fill="#0000c5"/>
<path d="M340.26 1011.85H346.69V1017.96H340.26Z" fill="#0000f3"/>
<path d="M345.89 1011.85H351.52V1017.96H345.89Z" fill="#000097"/>
<path d="M357.14 1011.85H363.57V1017.96H357.14Z" fill="#000097"/>
<path d="M362.77 1011.85H368.40V1017.96H362.77Z" fill="#000097"/>
<path d="M317.75 1017.16H324.18V1023.28H317.75Z" fill="#000097"/>
<path d="M323.38 1017.16H329.80V1023.28H323.38Z" fill="#000097"/>
<path d="M329.00 1017.16H335.43V1023.28H329.00Z" fill="#000097"/>
<path d="M334.63 1017.16H341.06V1023.28H334.63Z" fill="#0000c5"/>
<path d="M340.26 1017.16H346.69V1023.28H340.26Z" fill="#0024ff"/>
<path d="M345.89 1017.16H352.32V1022.48H351.52V1023.28H345.89Z" fill="#000097"/>
<path d="M351.52 1017.16H357.94V1022.48H351.52Z" fill="#000097"/>
<path d="M357.14 1017.16H363.57V1022.48H357.14Z" fill="#000097"/>
<path d="M362.77 1017.16H368.40V1022.48H362.77Z" fill="#000097"/>
<path d="M317.75 1022.48H324.18V1027.79H317.75Z" fill="#000097"/>
<path d="M323.38 1022.48H329.80V1027.79H323.38Z" fill="#000097"/>
<path d="M329.00 1022.48H335.43V1028.59H329.00Z" fill="#000097"/>
<path d="M334.63 1022.48H341.06V1028.59H334.63Z" fill="#0000c5"/>
<path d="M340.26 1022.48H346.69V1028.59H340.26Z" fill="#000097"/>
<path d="M345.89 1022.48H351.52V1028.59H345.89Z" fill="#000097"/>
<path d="M379.66 1022.48H385.28V1027.79H379.66Z" fill="#000097"/>
<path d="M312.12 1027.79H317.75V1033.10H312.12Z" fill="#000097"/>
<path d="M329.00 1027.79H335.43V1033.90H329.00Z" fill="#000097"/>
<path d="M334.63 1027.79H341.06V1033.90H334.63Z" fill="#0000c5"/>
<path d="M340.26 1027.79H346.69V1033.90H340.26Z" fill="#0000c5"/>
<path d="M345.89 1027.79H352.32V1033.90H345.89Z" fill="#0000c5"/>
<path d="M351.52 1027.79H357.94V1033.90H351.52Z" fill="#0000c5"/>
<path d="M357.14 1027.79H363.57V1033.90H357.14Z" fill="#0000f3"/>
<path d="M362.77 1027.79H369.20V1033.90H362.77Z" fill="#0000c5"/>
<path d="M368.40 1027.79H374.83V1033.90H368.40Z" fill="#000097"/>
<path d="M374.03 1027.79H379.66V1033.90H374.03Z" fill="#000097"/>
<path d="M317.75 1033.10H324.18V1039.21H317.75Z" fill="#000097"/>
<path d="M323.38 1033.10H329.80V1039.21H323.38Z" fill="#000097"/>
<path d="M329.00 1033.10H335.43V1039.21H329.00Z" fill="#0000c5"/>
<path d="M334.63 1033.10H341.06V1039.21H334.63Z" fill="#0000f3"/>
<path d="M340.26 1033.10H346.69V1039.21H340.26Z" fill="#0000f3"/>
<path d="M345.89 1033.10H352.32V1039.21H345.89Z" fill="#0024ff"/>
<path d="M351.52 1033.10H357.94V1039.21H351.52Z" fill="#0000c5"/>
<path d="M357.14 1033.10H363.57V1039.21H357.14Z" fill="#0000f3"/>
<path d="M362.77 1033.10H369.20V1039.21H362.77Z" fill="#0000c5"/>
<path d="M368.40 1033.10H374.83V1039.21H368.40Z" fill="#000097"/>
<path d="M374.03 1033.10H379.66V1039.21H374.03Z" fill="#000097"/>
<path d="M317.75 1038.41H324.18V1044.52H317.75Z" fill="#000097"/>
<path d="M323.38 1038.41H329.80V1044.52H323.38Z" fill="#0000c5"/>
<path d="M329.00 1038.41H335.43V1044.52H329.00Z" fill="#0000c5"/>
<path d="M334.63 1038.41H341.06V1044.52H334.63Z" fill="#0024ff"/>
<path d="M340.26 1038.41H346.69V1044.52H340.26Z" fill="#0024ff"/>
<path d="M345.89 1038.41H352.32V1044.52H345.89Z" fill="#0000c5"/>
<path d="M351.52 1038.41H357.94V1044.52H351.52Z" fill="#0000f3"/>
<path d="M357.14 1038.41H363.57V1044.52H357.14Z" fill="#0000c5"/>
<path d="M362.77 1038.41H369.20V1044.52H362.77Z" fill="#0000c5"/>
<path d="M368.40 1038.41H374.83V1044.52H368.40Z" fill="#0000c5"/>
<path d="M374.03 1038.41H379.66V1044.52H374.03Z" fill="#000097"/>
<path d="M312.12 1043.72H318.55V1049.84H312.12Z" fill="#000097"/>
<path d="M317.75 1043.72H324.18V1049.84H317.75Z" fill="#000097"/>
<path d="M323.38 1043.72H329.80V1049.84H323.38Z" fill="#0024ff"/>
<path d="M329.00 1043.72H335.43V1049.84H329.00Z" fill="#009eff"/>
<path d="M334.63 1043.72H341.06V1049.84H334.63Z" fill="#bdff3a"/>
<path d="M340.26 1043.72H346.69V1049.84H340.26Z" fill="#29ffce"/>
<path d="M345.89 1043.72H352.32V1049.84H345.89Z" fill="#0000f3"/>
<path d="M351.52 1043.72H357.94V1049.84H351.52Z" fill="#0000c5"/>
<path d="M357.14 1043.72H363.57V1049.84H357.14Z" fill="#0000c5"/>
<path d="M362.77 1043.72H369.20V1049.84H362.77Z" fill="#0000c5"/>
<path d="M368.40 1043.72H374.83V1049.84H368.40Z" fill="#0000c5"/>
<path d="M374.03 1043.72H379.66V1049.84H374.03Z" fill="#000097"/>
<path d="M385.28 1043.72H391.71V1049.84H385.28Z" fill="#000097"/>
<path d="M390.91 1043.72H396.54V1049.84H390.91Z" fill="#000097"/>
<path d="M306.49 1049.04H312.92V1055.15H306.49Z" fill="#000097"/>
<path d="M312.12 1049.04H318.55V1055.15H312.12Z" fill="#000097"/>
<path d="M317.75 1049.04H324.18V1055.15H317.75Z" fill="#000097"/>
<path d="M323.38 1049.04H329.80V1055.15H323.38Z" fill="#0000f3"/>
<path d="M329.00 1049.04H335.43V1055.15H329.00Z" fill="#29ffce"/>
<path d="M334.63 1049.04H341.06V1055.15H334.63Z" fill="#bdff3a"/>
<path d="M340.26 1049.04H346.69V1055.15H340.26Z" fill="#009eff"/>
<path d="M345.89 1049.04H352.32V1055.15H345.89Z" fill="#0000f3"/>
<path d="M351.52 1049.04H357.94V1055.15H351.52Z" fill="#0000f3"/>
<path d="M357.14 1049.04H363.57V1055.15H357.14Z" fill="#29ffce"/>
<path d="M362.77 1049.04H369.20V1055.15H362.77Z" fill="#009eff"/>
<path d="M368.40 1049.04H374.83V1055.15H368.40Z" fill="#0000c5"/>
<path d="M374.03 1049.04H380.46V1055.15H374.03Z" fill="#000097"/>
<path d="M379.66 1049.04H386.08V1055.15H379.66Z" fill="#000097"/>
<path d="M385.28 1049.04H391.71V1055.15H385.28Z" fill="#000097"/>
<path d="M390.91 1049.04H396.54V1055.15H390.91Z" fill="#000097"/>
<path d="M402.17 1049.04H407.80V1054.35H402.17Z" fill="#000097"/>
<path d="M300.86 1054.35H307.29V1060.46H300.86Z" fill="#000097"/>
<path d="M306.49 1054.35H312.92V1060.46H306.49Z" fill="#000097"/>
<path d="M312.12 1054.35H318.55V1060.46H312.12Z" fill="#000097"/>
<path d="M317.75 1054.35H324.18V1060.46H317.75Z" fill="#0000c5"/>
<path d="M323.38 1054.35H329.80V1060.46H323.38Z" fill="#0024ff"/>
<path d="M329.00 1054.35H335.43V1060.46H329.00Z" fill="#0024ff"/>
<path d="M334.63 1054.35H341.06V1060.46H334.63Z" fill="#0061ff"/>
<path d="M340.26 1054.35H346.69V1060.46H340.26Z" fill="#009eff"/>
<path d="M345.89 1054.35H352.32V1060.46H345.89Z" fill="#5aff9c"/>
<path d="M351.52 1054.35H357.94V1060.46H351.52Z" fill="#00dbff"/>
<path d="M357.14 1054.35H363.57V1060.46H357.14Z" fill="#0061ff"/>
<path d="M362.77 1054.35H369.20V1060.46H362.77Z" fill="#0000f3"/>
<path d="M368.40 1054.35H374.83V1060.46H368.40Z" fill="#0000c5"/>
<path d="M374.03 1054.35H380.46V1060.46H374.03Z" fill="#0000c5"/>
<path d="M379.66 1054.35H386.08V1060.46H379.66Z" fill="#0000c5"/>
<path d="M385.28 1054.35H391.71V1060.46H385.28Z" fill="#000097"/>
<path d="M390.91 1054.35H396.54V1060.46H390.91Z" fill="#000097"/>
<path d="M210.82 1059.66H216.44V1065.77H210.82Z" fill="#000097"/>
<path d="M283.98 1059.66H290.41V1064.97H283.98Z" fill="#000097"/>
<path d="M289.61 1059.66H296.04V1065.77H289.61Z" fill="#0000c5"/>
<path d="M295.24 1059.66H301.66V1065.77H295.24Z" fill="#000097"/>
<path d="M300.86 1059.66H307.29V1065.77H300.86Z" fill="#000097"/>
<path d="M306.49 1059.66H312.92V1065.77H306.49Z" fill="#0000c5"/>
<path d="M312.12 1059.66H318.55V1065.77H312.12Z" fill="#0000c5"/>
<path d="M317.75 1059.66H324.18V1065.77H317.75Z" fill="#0000c5"/>
<path d="M323.38 1059.66H329.80V1065.77H323.38Z" fill="#29ffce"/>
<path d="M329.00 1059.66H335.43V1065.77H329.00Z" fill="#ffc600"/>
<path d="M334.63 1059.66H341.06V1065.77H334.63Z" fill="#29ffce"/>
<path d="M340.26 1059.66H346.69V1065.77H340.26Z" fill="#29ffce"/>
<path d="M345.89 1059.66H352.32V1065.77H345.89Z" fill="#5aff9c"/>
<path d="M351.52 1059.66H357.94V1065.77H351.52Z" fill="#ffc600"/>
<path d="M357.14 1059.66H363.57V1065.77H357.14Z" fill="#5aff9c"/>
<path d="M362.77 1059.66H369.20V1065.77H362.77Z" fill="#0000c5"/>
<path d="M368.40 1059.66H374.83V1064.97H374.03V1065.77H368.40Z" fill="#0000c5"/>
<path d="M374.03 1059.66H380.46V1064.97H374.03Z" fill="#0000c5"/>
<path d="M379.66 1059.66H386.08V1065.77H379.66Z" fill="#000097"/>
<path d="M385.28 1059.66H391.71V1064.97H390.91V1065.77H385.28Z" fill="#000097"/>
<path d="M390.91 1059.66H396.54V1064.97H390.91Z" fill="#000097"/>
<path d="M193.93 1064.97H200.36V1070.28H199.56V1071.08H193.93Z" fill="#000097"/>
<path d="M199.56 1064.97H205.99V1070.28H199.56Z" fill="#000097"/>
<path d="M205.19 1064.97H211.62V1070.28H205.19Z" fill="#000097"/>
<path d="M210.82 1064.97H216.44V1070.28H210.82Z" fill="#000097"/>
<path d="M227.70 1064.97H234.13V1071.08H227.70Z" fill="#000097"/>
<path d="M233.33 1064.97H238.96V1071.08H233.33Z" fill="#000097"/>
<path d="M278.35 1064.97H283.98V1070.28H278.35Z" fill="#000097"/>
<path d="M289.61 1064.97H296.04V1071.08H289.61Z" fill="#0000c5"/>
<path d="M295.24 1064.97H301.66V1071.08H295.24Z" fill="#0000c5"/>
<path d="M300.86 1064.97H307.29V1071.08H300.86Z" fill="#0000c5"/>
<path d="M306.49 1064.97H312.92V1071.08H306.49Z" fill="#0000f3"/>
<path d="M312.12 1064.97H318.55V1071.08H312.12Z" fill="#0024ff"/>
<path d="M317.75 1064.97H324.18V1071.08H317.75Z" fill="#0000f3"/>
<path d="M323.38 1064.97H329.80V1071.08H323.38Z" fill="#29ffce"/>
<path d="M329.00 1064.97H335.43V1071.08H329.00Z" fill="#29ffce"/>
<path d="M334.63 1064.97H341.06V1071.08H334.63Z" fill="#00dbff"/>
<path d="M340.26 1064.97H346.69V1071.08H340.26Z" fill="#00dbff"/>
<path d="M345.89 1064.97H352.32V1071.08H345.89Z" fill="#009eff"/>
<path d="M351.52 1064.97H357.94V1071.08H351.52Z" fill="#5aff9c"/>
<path d="M357.14 1064.97H363.57V1071.08H357.14Z" fill="#0000f3"/>
<path d="M362.77 1064.97H369.20V1071.08H362.77Z" fill="#0000c5"/>
<path d="M368.40 1064.97H374.03V1071.08H368.40Z" fill="#0000c5"/>
<path d="M379.66 1064.97H386.08V1070.28H385.28V1071.08H379.66Z" fill="#000097"/>
<path d="M385.28 1064.97H390.91V1070.28H385.28Z" fill="#000097"/>
<path d="M396.54 1064.97H402.17V1070.28H396.54Z" fill="#000097"/>
<path d="M407.80 1064.97H413.42V1070.28H407.80Z" fill="#000097"/>
<path d="M137.65 1070.28H143.28V1075.60H137.65Z" fill="#000097"/>
<path d="M188.30 1070.28H194.73V1075.60H188.30Z" fill="#000097"/>
<path d="M193.93 1070.28H199.56V1075.60H193.93Z" fill="#000097"/>
<path d="M227.70 1070.28H234.13V1076.40H227.70Z" fill="#000097"/>
<path d="M233.33 1070.28H239.76V1075.60H238.96V1076.40H233.33Z" fill="#000097"/>
<path d="M238.96 1070.28H245.38V1075.60H238.96Z" fill="#000097"/>
<path d="M244.58 1070.28H251.01V1076.40H244.58Z" fill="#000097"/>
<path d="M250.21 1070.28H256.64V1076.40H250.21Z" fill="#0000f3"/>
<path d="M255.84 1070.28H262.27V1076.40H255.84Z" fill="#0000f3"/>
<path d="M261.47 1070.28H267.10V1076.40H261.47Z" fill="#0000c5"/>
<path d="M289.61 1070.28H296.04V1076.40H289.61Z" fill="#0000c5"/>
<path d="M295.24 1070.28H301.66V1076.40H295.24Z" fill="#0061ff"/>
<path d="M300.86 1070.28H307.29V1076.40H300.86Z" fill="#009eff"/>
<path d="M306.49 1070.28H312.92V1076.40H306.49Z" fill="#00dbff"/>
<path d="M312.12 1070.28H318.55V1076.40H312.12Z" fill="#0024ff"/>
<path d="M317.75 1070.28H324.18V1076.40H317.75Z" fill="#29ffce"/>
<path d="M323.38 1070.28H329.80V1076.40H323.38Z" fill="#29ffce"/>
<path d="M329.00 1070.28H335.43V1076.40H329.00Z" fill="#009eff"/>
<path d="M334.63 1070.28H341.06V1076.40H334.63Z" fill="#0024ff"/>
<path d="M340.26 1070.28H346.69V1076.40H340.26Z" fill="#5aff9c"/>
<path d="M345.89 1070.28H352.32V1076.40H345.89Z" fill="#29ffce"/>
<path d="M351.52 1070.28H357.94V1076.40H351.52Z" fill="#8cff6b"/>
<path d="M357.14 1070.28H363.57V1076.40H357.14Z" fill="#009eff"/>
<path d="M362.77 1070.28H369.20V1076.40H362.77Z" fill="#0000f3"/>
<path d="M368.40 1070.28H374.83V1076.40H368.40Z" fill="#0000c5"/>
<path d="M374.03 1070.28H380.46V1075.60H379.66V1076.40H374.03Z" fill="#0000c5"/>
<path d="M379.66 1070.28H385.28V1075.60H379.66Z" fill="#000097"/>
<path d="M390.91 1070.28H396.54V1075.60H390.91Z" fill="#000097"/>
<path d="M222.07 1075.60H228.50V1080.91H222.07Z" fill="#000097"/>
<path d="M227.70 1075.60H234.13V1080.91H227.70Z" fill="#0000f3"/>
<path d="M233.33 1075.60H238.96V1080.91H233.33Z" fill="#000097"/>
<path d="M244.58 1075.60H251.01V1080.91H250.21V1081.71H244.58Z" fill="#000097"/>
<path d="M250.21 1075.60H256.64V1080.91H250.21Z" fill="#0000c5"/>
<path d="M255.84 1075.60H262.27V1081.71H255.84Z" fill="#0000c5"/>
<path d="M261.47 1075.60H267.10V1081.71H261.47Z" fill="#0000c5"/>
<path d="M283.98 1075.60H290.41V1080.91H283.98Z" fill="#000097"/>
<path d="M289.61 1075.60H296.04V1080.91H289.61Z" fill="#0000c5"/>
<path d="M295.24 1075.60H301.66V1081.71H295.24Z" fill="#0000c5"/>
<path d="M300.86 1075.60H307.29V1081.71H300.86Z" fill="#0024ff"/>
<path d="M306.49 1075.60H312.92V1081.71H306.49Z" fill="#009eff"/>
<path d="M312.12 1075.60H318.55V1081.71H312.12Z" fill="#8cff6b"/>
<path d="M317.75 1075.60H324.18V1081.71H317.75Z" fill="#ff5500"/>
<path d="M323.38 1075.60H329.80V1081.71H323.38Z" fill="#bdff3a"/>
<path d="M329.00 1075.60H335.43V1081.71H329.00Z" fill="#5aff9c"/>
<path d="M334.63 1075.60H341.06V1081.71H334.63Z" fill="#8cff6b"/>
<path d="M340.26 1075.60H346.69V1081.71H340.26Z" fill="#efff08"/>
<path d="M345.89 1075.60H352.32V1081.71H345.89Z" fill="#efff08"/>
<path d="M351.52 1075.60H357.94V1081.71H351.52Z" fill="#5aff9c"/>
<path d="M357.14 1075.60H363.57V1081.71H357.14Z" fill="#009eff"/>
<path d="M362.77 1075.60H369.20V1081.71H362.77Z" fill="#00dbff"/>
<path d="M368.40 1075.60H374.83V1081.71H368.40Z" fill="#0000c5"/>
<path d="M374.03 1075.60H379.66V1081.71H374.03Z" fill="#0000c5"/>
<path d="M244.58 1080.91H250.21V1086.22H244.58Z" fill="#000097"/>
<path d="M255.84 1080.91H262.27V1087.02H255.84Z" fill="#0000c5"/>
<path d="M261.47 1080.91H267.10V1087.02H261.47Z" fill="#0000c5"/>
<path d="M278.35 1080.91H283.98V1087.02H278.35Z" fill="#000097"/>
<path d="M295.24 1080.91H301.66V1087.02H295.24Z" fill="#0000c5"/>
<path d="M300.86 1080.91H307.29V1087.02H300.86Z" fill="#0000f3"/>
<path d="M306.49 1080.91H312.92V1087.02H306.49Z" fill="#009eff"/>
<path d="M312.12 1080.91H318.55V1087.02H312.12Z" fill="#ff8e00"/>
<path d="M317.75 1080.91H324.18V1087.02H317.75Z" fill="#ff5500"/>
<path d="M323.38 1080.91H329.80V1087.02H323.38Z" fill="#ff5500"/>
<path d="M329.00 1080.91H335.43V1087.02H329.00Z" fill="#ff5500"/>
<path d="M334.63 1080.91H341.06V1087.02H334.63Z" fill="#ff5500"/>
<path d="M340.26 1080.91H346.69V1087.02H340.26Z" fill="#ff8e00"/>
<path d="M345.89 1080.91H352.32V1087.02H345.89Z" fill="#8cff6b"/>
<path d="M351.52 1080.91H357.94V1087.02H351.52Z" fill="#00dbff"/>
<path d="M357.14 1080.91H363.57V1087.02H357.14Z" fill="#0061ff"/>
<path d="M362.77 1080.91H369.20V1087.02H362.77Z" fill="#0000f3"/>
<path d="M368.40 1080.91H374.83V1087.02H368.40Z" fill="#0000c5"/>
<path d="M374.03 1080.91H379.66V1087.02H374.03Z" fill="#000097"/>
<path d="M390.91 1080.91H397.34V1087.02H390.91Z" fill="#000097"/>
<path d="M396.54 1080.91H402.97V1086.22H402.17V1087.02H396.54Z" fill="#0000c5"/>
<path d="M402.17 1080.91H408.60V1086.22H402.17Z" fill="#0000c5"/>
<path d="M407.80 1080.91H413.42V1087.02H407.80Z" fill="#000097"/>
<path d="M250.21 1086.22H256.64V1092.33H250.21Z" fill="#000097"/>
<path d="M255.84 1086.22H262.27V1092.33H255.84Z" fill="#0000c5"/>
<path d="M261.47 1086.22H267.90V1092.33H261.47Z" fill="#0000f3"/>
<path d="M267.10 1086.22H272.72V1092.33H267.10Z" fill="#0000c5"/>
<path d="M278.35 1086.22H283.98V1092.33H278.35Z" fill="#000097"/>
<path d="M295.24 1086.22H301.66V1092.33H295.24Z" fill="#0000c5"/>
<path d="M300.86 1086.22H307.29V1092.33H300.86Z" fill="#0000f3"/>
<path d="M306.49 1086.22H312.92V1092.33H306.49Z" fill="#0000c5"/>
<path d="M312.12 1086.22H318.55V1092.33H312.12Z" fill="#5aff9c"/>
<path d="M317.75 1086.22H324.18V1092.33H317.75Z" fill="#ff5500"/>
<path d="M323.38 1086.22H329.80V1092.33H323.38Z" fill="#ff8e00"/>
<path d="M329.00 1086.22H335.43V1092.33H329.00Z" fill="#ffc600"/>
<path d="M334.63 1086.22H341.06V1092.33H334.63Z" fill="#5aff9c"/>
<path d="M340.26 1086.22H346.69V1092.33H340.26Z" fill="#efff08"/>
<path d="M345.89 1086.22H352.32V1092.33H345.89Z" fill="#ff8e00"/>
<path d="M351.52 1086.22H357.94V1092.33H351.52Z" fill="#bdff3a"/>
<path d="M357.14 1086.22H363.57V1092.33H357.14Z" fill="#0000f3"/>
<path d="M362.77 1086.22H369.20V1092.33H362.77Z" fill="#0000f3"/>
<path d="M368.40 1086.22H374.83V1092.33H368.40Z" fill="#0000c5"/>
<path d="M374.03 1086.22H380.46V1091.53H379.66V1092.33H374.03Z" fill="#0000c5"/>
<path d="M379.66 1086.22H386.08V1091.53H379.66Z" fill="#000097"/>
<path d="M385.28 1086.22H391.71V1091.53H385.28Z" fill="#000097"/>
<path d="M390.91 1086.22H397.34V1091.53H390.91Z" fill="#0000c5"/>
<path d="M396.54 1086.22H402.17V1091.53H396.54Z" fill="#000097"/>
<path d="M407.80 1086.22H413.42V1091.53H407.80Z" fill="#000097"/>
<path d="M244.58 1091.53H251.01V1097.64H244.58Z" fill="#000097"/>
<path d="M250.21 1091.53H256.64V1097.64H250.21Z" fill="#0000c5"/>
<path d="M255.84 1091.53H262.27V1097.64H255.84Z" fill="#0000c5"/>
<path d="M261.47 1091.53H267.90V1097.64H261.47Z" fill="#0000f3"/>
<path d="M267.10 1091.53H273.52V1097.64H267.10Z" fill="#0000c5"/>
<path d="M272.72 1091.53H279.15V1096.84H278.35V1097.64H272.72Z" fill="#000097"/>
<path d="M278.35 1091.53H284.78V1096.84H278.35Z" fill="#000097"/>
<path d="M283.98 1091.53H290.41V1097.64H283.98Z" fill="#0000c5"/>
<path d="M289.61 1091.53H296.04V1097.64H289.61Z" fill="#0000c5"/>
<path d="M295.24 1091.53H301.66V1097.64H295.24Z" fill="#0000c5"/>
<path d="M300.86 1091.53H307.29V1097.64H300.86Z" fill="#0000c5"/>
<path d="M306.49 1091.53H312.92V1097.64H306.49Z" fill="#0000f3"/>
<path d="M312.12 1091.53H318.55V1097.64H312.12Z" fill="#0024ff"/>
<path d="M317.75 1091.53H324.18V1097.64H317.75Z" fill="#0000f3"/>
<path d="M323.38 1091.53H329.80V1097.64H323.38Z" fill="#bdff3a"/>
<path d="M329.00 1091.53H335.43V1097.64H329.00Z" fill="#bdff3a"/>
<path d="M334.63 1091.53H341.06V1097.64H334.63Z" fill="#5aff9c"/>
<path d="M340.26 1091.53H346.69V1097.64H340.26Z" fill="#5aff9c"/>
<path d="M345.89 1091.53H352.32V1097.64H345.89Z" fill="#ff8e00"/>
<path d="M351.52 1091.53H357.94V1097.64H351.52Z" fill="#bdff3a"/>
<path d="M357.14 1091.53H363.57V1097.64H357.14Z" fill="#0000f3"/>
<path d="M362.77 1091.53H369.20V1096.84H368.40V1097.64H362.77Z" fill="#0000f3"/>
<path d="M368.40 1091.53H374.83V1096.84H368.40Z" fill="#0000c5"/>
<path d="M374.03 1091.53H379.66V1097.64H374.03Z" fill="#0000c5"/>
<path d="M238.96 1096.84H245.38V1102.16H238.96Z" fill="#000097"/>
<path d="M244.58 1096.84H251.01V1102.96H244.58Z" fill="#000097"/>
<path d="M250.21 1096.84H256.64V1102.96H250.21Z" fill="#0000c5"/>
<path d="M255.84 1096.84H262.27V1102.96H255.84Z" fill="#0000f3"/>
<path d="M261.47 1096.84H267.90V1102.96H261.47Z" fill="#0000c5"/>
<path d="M267.10 1096.84H273.52V1102.96H267.10Z" fill="#0000c5"/>
<path d="M272.72 1096.84H278.35V1102.96H272.72Z" fill="#0000c5"/>
<path d="M283.98 1096.84H290.41V1102.96H283.98Z" fill="#0000c5"/>
<path d="M289.61 1096.84H296.04V1102.96H289.61Z" fill="#0000f3"/>
<path d="M295.24 1096.84H301.66V1102.96H295.24Z" fill="#0000f3"/>
<path d="M300.86 1096.84H307.29V1102.96H300.86Z" fill="#0000c5"/>
<path d="M306.49 1096.84H312.92V1102.96H306.49Z" fill="#0000c5"/>
<path d="M312.12 1096.84H318.55V1102.96H312.12Z" fill="#0000f3"/>
<path d="M317.75 1096.84H324.18V1102.96H317.75Z" fill="#009eff"/>
<path d="M323.38 1096.84H329.80V1102.96H323.38Z" fill="#5aff9c"/>
<path d="M329.00 1096.84H335.43V1102.96H329.00Z" fill="#5aff9c"/>
<path d="M334.63 1096.84H341.06V1102.96H334.63Z" fill="#009eff"/>
<path d="M340.26 1096.84H346.69V1102.96H340.26Z" fill="#0061ff"/>
<path d="M345.89 1096.84H352.32V1102.96H345.89Z" fill="#29ffce"/>
<path d="M351.52 1096.84H357.94V1102.96H351.52Z" fill="#0024ff"/>
<path d="M357.14 1096.84H363.57V1102.96H357.14Z" fill="#0000f3"/>
<path d="M362.77 1096.84H368.40V1102.96H362.77Z" fill="#0000f3"/>
<path d="M374.03 1096.84H380.46V1102.16H379.66V1102.96H374.03Z" fill="#000097"/>
<path d="M379.66 1096.84H385.28V1102.16H379.66Z" fill="#000097"/>
<path d="M390.91 1096.84H396.54V1102.16H390.91Z" fill="#000097"/>
<path d="M244.58 1102.16H251.01V1108.27H244.58Z" fill="#000097"/>
<path d="M250.21 1102.16H256.64V1108.27H250.21Z" fill="#0000c5"/>
<path d="M255.84 1102.16H262.27V1108.27H255.84Z" fill="#0000f3"/>
<path d="M261.47 1102.16H267.90V1108.27H261.47Z" fill="#0000c5"/>
<path d="M267.10 1102.16H273.52V1108.27H267.10Z" fill="#000097"/>
<path d="M272.72 1102.16H279.15V1108.27H272.72Z" fill="#000097"/>
<path d="M278.35 1102.16H284.78V1107.47H283.98V1108.27H278.35Z" fill="#000097"/>
<path d="M283.98 1102.16H290.41V1107.47H283.98Z" fill="#000097"/>
<path d="M289.61 1102.16H296.04V1108.27H289.61Z" fill="#0000c5"/>
<path d="M295.24 1102.16H301.66V1108.27H295.24Z" fill="#0000c5"/>
<path d="M300.86 1102.16H307.29V1108.27H300.86Z" fill="#0000c5"/>
<path d="M306.49 1102.16H312.92V1108.27H306.49Z" fill="#0000f3"/>
<path d="M312.12 1102.16H318.55V1108.27H312.12Z" fill="#29ffce"/>
<path d="M317.75 1102.16H324.18V1108.27H317.75Z" fill="#bdff3a"/>
<path d="M323.38 1102.16H329.80V1108.27H323.38Z" fill="#29ffce"/>
<path d="M329.00 1102.16H335.43V1108.27H329.00Z" fill="#0000f3"/>
<path d="M334.63 1102.16H341.06V1108.27H334.63Z" fill="#0000f3"/>
<path d="M340.26 1102.16H346.69V1108.27H340.26Z" fill="#0024ff"/>
<path d="M345.89 1102.16H352.32V1108.27H345.89Z" fill="#0000f3"/>
<path d="M351.52 1102.16H357.94V1108.27H351.52Z" fill="#0000f3"/>
<path d="M357.14 1102.16H363.57V1108.27H357.14Z" fill="#0000c5"/>
<path d="M362.77 1102.16H368.40V1108.27H362.77Z" fill="#0000c5"/>
<path d="M374.03 1102.16H379.66V1108.27H374.03Z" fill="#000097"/>
<path d="M385.28 1102.16H390.91V1107.47H385.28Z" fill="#000097"/>
<path d="M238.96 1107.47H245.38V1113.58H238.96Z" fill="#000097"/>
<path d="M244.58 1107.47H251.01V1113.58H244.58Z" fill="#0000c5"/>
<path d="M250.21 1107.47H256.64V1113.58H250.21Z" fill="#0000f3"/>
<path d="M255.84 1107.47H262.27V1113.58H255.84Z" fill="#0061ff"/>
<path d="M261.47 1107.47H267.90V1113.58H261.47Z" fill="#0000c5"/>
<path d="M267.10 1107.47H273.52V1113.58H267.10Z" fill="#000097"/>
<path d="M272.72 1107.47H279.15V1113.58H272.72Z" fill="#000097"/>
<path d="M278.35 1107.47H283.98V1113.58H278.35Z" fill="#0000c5"/>
<path d="M289.61 1107.47H296.04V1113.58H289.61Z" fill="#0000c5"/>
<path d="M295.24 1107.47H301.66V1113.58H295.24Z" fill="#0024ff"/>
<path d="M300.86 1107.47H307.29V1113.58H300.86Z" fill="#0000c5"/>
<path d="M306.49 1107.47H312.92V1113.58H306.49Z" fill="#8cff6b"/>
<path d="M312.12 1107.47H318.55V1113.58H312.12Z" fill="#8cff6b"/>
<path d="M317.75 1107.47H324.18V1113.58H317.75Z" fill="#0061ff"/>
<path d="M323.38 1107.47H329.80V1113.58H323.38Z" fill="#0061ff"/>
<path d="M329.00 1107.47H335.43V1113.58H329.00Z" fill="#0000f3"/>
<path d="M334.63 1107.47H341.06V1113.58H334.63Z" fill="#0000c5"/>
<path d="M340.26 1107.47H346.69V1113.58H340.26Z" fill="#0000f3"/>
<path d="M345.89 1107.47H352.32V1113.58H345.89Z" fill="#0000f3"/>
<path d="M351.52 1107.47H357.94V1113.58H351.52Z" fill="#0000f3"/>
<path d="M357.14 1107.47H363.57V1113.58H357.14Z" fill="#0000f3"/>
<path d="M362.77 1107.47H368.40V1113.58H362.77Z" fill="#0024ff"/>
<path d="M374.03 1107.47H379.66V1112.78H374.03Z" fill="#000097"/>
<path d="M396.54 1107.47H402.17V1112.78H396.54Z" fill="#000097"/>
<path d="M407.80 1107.47H413.42V1112.78H407.80Z" fill="#000097"/>
<path d="M238.96 1112.78H245.38V1118.89H238.96Z" fill="#000097"/>
<path d="M244.58 1112.78H251.01V1118.89H244.58Z" fill="#0000f3"/>
<path d="M250.21 1112.78H256.64V1118.89H250.21Z" fill="#0061ff"/>
<path d="M255.84 1112.78H262.27V1118.89H255.84Z" fill="#0061ff"/>
<path d="M261.47 1112.78H267.90V1118.89H261.47Z" fill="#0000c5"/>
<path d="M267.10 1112.78H273.52V1118.09H272.72V1118.89H267.10Z" fill="#000097"/>
<path d="M272.72 1112.78H279.15V1118.09H272.72Z" fill="#0000c5"/>
<path d="M278.35 1112.78H284.78V1118.89H278.35Z" fill="#0000c5"/>
<path d="M283.98 1112.78H290.41V1118.89H283.98Z" fill="#0000c5"/>
<path d="M289.61 1112.78H296.04V1118.89H289.61Z" fill="#0000c5"/>
<path d="M295.24 1112.78H301.66V1118.89H295.24Z" fill="#0000f3"/>
<path d="M300.86 1112.78H307.29V1118.89H300.86Z" fill="#0000c5"/>
<path d="M306.49 1112.78H312.92V1118.89H306.49Z" fill="#0000c5"/>
<path d="M312.12 1112.78H318.55V1118.89H312.12Z" fill="#0000c5"/>
<path d="M317.75 1112.78H324.18V1118.89H317.75Z" fill="#0000c5"/>
<path d="M323.38 1112.78H329.80V1118.89H323.38Z" fill="#0000c5"/>
<path d="M329.00 1112.78H335.43V1118.89H329.00Z" fill="#29ffce"/>
<path d="M334.63 1112.78H341.06V1118.89H334.63Z" fill="#0024ff"/>
<path d="M340.26 1112.78H346.69V1118.89H340.26Z" fill="#0024ff"/>
<path d="M345.89 1112.78H352.32V1118.89H345.89Z" fill="#0000f3"/>
<path d="M351.52 1112.78H357.94V1118.89H351.52Z" fill="#0000c5"/>
<path d="M357.14 1112.78H363.57V1118.09H362.77V1118.89H357.14Z" fill="#0000c5"/>
<path d="M362.77 1112.78H368.40V1118.09H362.77Z" fill="#0000c5"/>
<path d="M402.17 1112.78H407.80V1118.09H402.17Z" fill="#000097"/>
<path d="M233.33 1118.09H239.76V1123.40H238.96V1124.20H233.33Z" fill="#000097"/>
<path d="M238.96 1118.09H245.38V1123.40H238.96Z" fill="#000097"/>
<path d="M244.58 1118.09H251.01V1124.20H244.58Z" fill="#0000c5"/>
<path d="M250.21 1118.09H256.64V1124.20H250.21Z" fill="#0061ff"/>
<path d="M255.84 1118.09H262.27V1124.20H255.84Z" fill="#29ffce"/>
<path d="M261.47 1118.09H267.90V1124.20H261.47Z" fill="#0061ff"/>
<path d="M267.10 1118.09H272.72V1124.20H267.10Z" fill="#0000f3"/>
<path d="M278.35 1118.09H284.78V1124.20H278.35Z" fill="#0000c5"/>
<path d="M283.98 1118.09H290.41V1124.20H283.98Z" fill="#0000c5"/>
<path d="M289.61 1118.09H296.04V1124.20H289.61Z" fill="#0000f3"/>
<path d="M295.24 1118.09H301.66V1124.20H295.24Z" fill="#0000f3"/>
<path d="M300.86 1118.09H307.29V1124.20H300.86Z" fill="#0000c5"/>
<path d="M306.49 1118.09H312.92V1124.20H306.49Z" fill="#0000c5"/>
<path d="M312.12 1118.09H318.55V1123.40H317.75V1124.20H312.12Z" fill="#0000c5"/>
<path d="M317.75 1118.09H324.18V1123.40H317.75Z" fill="#0000c5"/>
<path d="M323.38 1118.09H329.80V1124.20H323.38Z" fill="#0000c5"/>
<path d="M329.00 1118.09H335.43V1124.20H329.00Z" fill="#0000f3"/>
<path d="M334.63 1118.09H341.06V1124.20H334.63Z" fill="#29ffce"/>
<path d="M340.26 1118.09H346.69V1124.20H340.26Z" fill="#0024ff"/>
<path d="M345.89 1118.09H352.32V1124.20H345.89Z" fill="#0000f3"/>
<path d="M351.52 1118.09H357.94V1124.20H351.52Z" fill="#0024ff"/>
<path d="M357.14 1118.09H362.77V1124.20H357.14Z" fill="#000097"/>
<path d="M222.07 1123.40H228.50V1128.72H222.07Z" fill="#000097"/>
<path d="M227.70 1123.40H234.13V1128.72H227.70Z" fill="#000097"/>
<path d="M233.33 1123.40H238.96V1129.52H233.33Z" fill="#000097"/>
<path d="M244.58 1123.40H251.01V1129.52H244.58Z" fill="#0000c5"/>
<path d="M250.21 1123.40H256.64V1129.52H250.21Z" fill="#0000f3"/>
<path d="M255.84 1123.40H262.27V1129.52H255.84Z" fill="#0024ff"/>
<path d="M261.47 1123.40H267.90V1129.52H261.47Z" fill="#0000f3"/>
<path d="M267.10 1123.40H273.52V1129.52H267.10Z" fill="#0000f3"/>
<path d="M272.72 1123.40H279.15V1129.52H272.72Z" fill="#0000f3"/>
<path d="M278.35 1123.40H284.78V1129.52H278.35Z" fill="#0000f3"/>
<path d="M283.98 1123.40H290.41V1129.52H283.98Z" fill="#0061ff"/>
<path d="M289.61 1123.40H296.04V1129.52H289.61Z" fill="#0000f3"/>
<path d="M295.24 1123.40H301.66V1129.52H295.24Z" fill="#0024ff"/>
<path d="M300.86 1123.40H307.29V1129.52H300.86Z" fill="#0000c5"/>
<path d="M306.49 1123.40H312.92V1129.52H306.49Z" fill="#0000c5"/>
<path d="M312.12 1123.40H317.75V1129.52H312.12Z" fill="#0000c5"/>
<path d="M323.38 1123.40H329.80V1128.72H323.38Z" fill="#0000c5"/>
<path d="M329.00 1123.40H335.43V1128.72H329.00Z" fill="#0000c5"/>
<path d="M334.63 1123.40H341.06V1128.72H334.63Z" fill="#0000f3"/>
<path d="M340.26 1123.40H346.69V1129.52H340.26Z" fill="#0000f3"/>
<path d="M345.89 1123.40H352.32V1128.72H351.52V1129.52H345.89Z" fill="#0000f3"/>
<path d="M351.52 1123.40H357.94V1128.72H351.52Z" fill="#0024ff"/>
<path d="M357.14 1123.40H362.77V1128.72H357.14Z" fill="#0000c5"/>
<path d="M233.33 1128.72H239.76V1134.83H233.33Z" fill="#000097"/>
<path d="M238.96 1128.72H245.38V1134.83H238.96Z" fill="#0000c5"/>
<path d="M244.58 1128.72H251.01V1134.83H244.58Z" fill="#0000c5"/>
<path d="M250.21 1128.72H256.64V1134.83H250.21Z" fill="#0000f3"/>
<path d="M255.84 1128.72H262.27V1134.83H255.84Z" fill="#0061ff"/>
<path d="M261.47 1128.72H267.90V1134.83H261.47Z" fill="#0000f3"/>
<path d="M267.10 1128.72H273.52V1134.83H267.10Z" fill="#0024ff"/>
<path d="M272.72 1128.72H279.15V1134.83H272.72Z" fill="#009eff"/>
<path d="M278.35 1128.72H284.78V1134.83H278.35Z" fill="#009eff"/>
<path d="M283.98 1128.72H290.41V1134.83H283.98Z" fill="#0000f3"/>
<path d="M289.61 1128.72H296.04V1134.83H289.61Z" fill="#0061ff"/>
<path d="M295.24 1128.72H301.66V1134.83H295.24Z" fill="#0000f3"/>
<path d="M300.86 1128.72H307.29V1134.03H306.49V1134.83H300.86Z" fill="#0000c5"/>
<path d="M306.49 1128.72H312.92V1134.03H306.49Z" fill="#000097"/>
<path d="M312.12 1128.72H317.75V1134.83H312.12Z" fill="#000097"/>
<path d="M340.26 1128.72H346.69V1134.83H340.26Z" fill="#0000c5"/>
<path d="M345.89 1128.72H351.52V1134.83H345.89Z" fill="#0000c5"/>
<path d="M188.30 1134.03H193.93V1139.34H188.30Z" fill="#000097"/>
<path d="M199.56 1134.03H205.99V1139.34H199.56Z" fill="#000097"/>
<path d="M205.19 1134.03H211.62V1139.34H205.19Z" fill="#000097"/>
<path d="M210.82 1134.03H216.44V1139.34H210.82Z" fill="#000097"/>
<path d="M222.07 1134.03H228.50V1139.34H222.07Z" fill="#000097"/>
<path d="M227.70 1134.03H234.13V1139.34H227.70Z" fill="#000097"/>
<path d="M233.33 1134.03H239.76V1139.34H233.33Z" fill="#0000c5"/>
<path d="M238.96 1134.03H245.38V1140.14H238.96Z" fill="#0000c5"/>
<path d="M244.58 1134.03H251.01V1140.14H244.58Z" fill="#0000c5"/>
<path d="M250.21 1134.03H256.64V1140.14H250.21Z" fill="#0000f3"/>
<path d="M255.84 1134.03H262.27V1140.14H255.84Z" fill="#0024ff"/>
<path d="M261.47 1134.03H267.90V1140.14H261.47Z" fill="#0061ff"/>
<path d="M267.10 1134.03H273.52V1140.14H267.10Z" fill="#0061ff"/>
<path d="M272.72 1134.03H279.15V1140.14H272.72Z" fill="#009eff"/>
<path d="M278.35 1134.03H284.78V1140.14H278.35Z" fill="#0024ff"/>
<path d="M283.98 1134.03H290.41V1140.14H283.98Z" fill="#0000f3"/>
<path d="M289.61 1134.03H296.04V1140.14H289.61Z" fill="#0024ff"/>
<path d="M295.24 1134.03H301.66V1140.14H295.24Z" fill="#0000f3"/>
<path d="M300.86 1134.03H306.49V1140.14H300.86Z" fill="#0000c5"/>
<path d="M312.12 1134.03H318.55V1139.34H317.75V1140.14H312.12Z" fill="#0000c5"/>
<path d="M317.75 1134.03H324.18V1139.34H317.75Z" fill="#0000c5"/>
<path d="M323.38 1134.03H329.80V1139.34H323.38Z" fill="#0000c5"/>
<path d="M329.00 1134.03H334.63V1139.34H329.00Z" fill="#0000c5"/>
<path d="M340.26 1134.03H346.69V1140.14H340.26Z" fill="#0000c5"/>
<path d="M345.89 1134.03H351.52V1140.14H345.89Z" fill="#0000c5"/>
<path d="M238.96 1139.34H245.38V1145.45H238.96Z" fill="#0000c5"/>
<path d="M244.58 1139.34H251.01V1145.45H244.58Z" fill="#0000c5"/>
<path d="M250.21 1139.34H256.64V1145.45H250.21Z" fill="#0000f3"/>
<path d="M255.84 1139.34H262.27V1145.45H255.84Z" fill="#0024ff"/>
<path d="M261.47 1139.34H267.90V1145.45H261.47Z" fill="#29ffce"/>
<path d="M267.10 1139.34H273.52V1145.45H267.10Z" fill="#0061ff"/>
<path d="M272.72 1139.34H279.15V1145.45H272.72Z" fill="#0024ff"/>
<path d="M278.35 1139.34H284.78V1145.45H278.35Z" fill="#0024ff"/>
<path d="M283.98 1139.34H290.41V1145.45H283.98Z" fill="#0061ff"/>
<path d="M289.61 1139.34H296.04V1145.45H289.61Z" fill="#0000f3"/>
<path d="M295.24 1139.34H301.66V1145.45H295.24Z" fill="#0000f3"/>
<path d="M300.86 1139.34H307.29V1144.65H306.49V1145.45H300.86Z" fill="#0000c5"/>
<path d="M306.49 1139.34H312.92V1144.65H306.49Z" fill="#0000c5"/>
<path d="M312.12 1139.34H317.75V1145.45H312.12Z" fill="#000097"/>
<path d="M340.26 1139.34H346.69V1145.45H340.26Z" fill="#0000c5"/>
<path d="M345.89 1139.34H352.32V1144.65H351.52V1145.45H345.89Z" fill="#0000c5"/>
<path d="M351.52 1139.34H357.14V1144.65H351.52Z" fill="#000097"/>
<path d="M233.33 1144.65H239.76V1149.96H233.33Z" fill="#000097"/>
<path d="M238.96 1144.65H245.38V1150.76H238.96Z" fill="#0000c5"/>
<path d="M244.58 1144.65H251.01V1150.76H244.58Z" fill="#0000c5"/>
<path d="M250.21 1144.65H256.64V1150.76H250.21Z" fill="#0000f3"/>
<path d="M255.84 1144.65H262.27V1150.76H255.84Z" fill="#0024ff"/>
<path d="M261.47 1144.65H267.90V1150.76H261.47Z" fill="#8cff6b"/>
<path d="M267.10 1144.65H273.52V1150.76H267.10Z" fill="#bdff3a"/>
<path d="M272.72 1144.65H279.15V1150.76H272.72Z" fill="#29ffce"/>
<path d="M278.35 1144.65H284.78V1150.76H278.35Z" fill="#0061ff"/>
<path d="M283.98 1144.65H290.41V1150.76H283.98Z" fill="#0024ff"/>
<path d="M289.61 1144.65H296.04V1149.96H295.24V1150.76H289.61Z" fill="#0000f3"/>
<path d="M295.24 1144.65H301.66V1149.96H295.24Z" fill="#0000c5"/>
<path d="M300.86 1144.65H306.49V1149.96H300.86Z" fill="#0000c5"/>
<path d="M312.12 1144.65H317.75V1149.96H312.12Z" fill="#000097"/>
<path d="M323.38 1144.65H329.00V1149.96H323.38Z" fill="#000097"/>
<path d="M334.63 1144.65H341.06V1149.96H334.63Z" fill="#000097"/>
<path d="M340.26 1144.65H346.69V1149.96H345.89V1150.76H340.26Z" fill="#0000c5"/>
<path d="M345.89 1144.65H351.52V1149.96H345.89Z" fill="#000097"/>
<path d="M238.96 1149.96H245.38V1156.08H238.96Z" fill="#0000c5"/>
<path d="M244.58 1149.96H251.01V1156.08H244.58Z" fill="#0000c5"/>
<path d="M250.21 1149.96H256.64V1156.08H250.21Z" fill="#0061ff"/>
<path d="M255.84 1149.96H262.27V1156.08H255.84Z" fill="#8cff6b"/>
<path d="M261.47 1149.96H267.90V1156.08H261.47Z" fill="#bdff3a"/>
<path d="M267.10 1149.96H273.52V1156.08H267.10Z" fill="#8cff6b"/>
<path d="M272.72 1149.96H279.15V1156.08H272.72Z" fill="#29ffce"/>
<path d="M278.35 1149.96H284.78V1156.08H278.35Z" fill="#0061ff"/>
<path d="M283.98 1149.96H290.41V1156.08H283.98Z" fill="#0000f3"/>
<path d="M289.61 1149.96H295.24V1156.08H289.61Z" fill="#0000c5"/>
<path d="M340.26 1149.96H345.89V1155.28H340.26Z" fill="#000097"/>
<path d="M188.30 1155.28H193.93V1160.59H188.30Z" fill="#000097"/>
<path d="M238.96 1155.28H245.38V1161.39H238.96Z" fill="#0000c5"/>
<path d="M244.58 1155.28H251.01V1161.39H244.58Z" fill="#0061ff"/>
<path d="M250.21 1155.28H256.64V1161.39H250.21Z" fill="#00dbff"/>
<path d="M255.84 1155.28H262.27V1161.39H255.84Z" fill="#5aff9c"/>
<path d="M261.47 1155.28H267.90V1161.39H261.47Z" fill="#5aff9c"/>
<path d="M267.10 1155.28H273.52V1161.39H267.10Z" fill="#009eff"/>
<path d="M272.72 1155.28H279.15V1161.39H272.72Z" fill="#009eff"/>
<path d="M278.35 1155.28H284.78V1160.59H283.98V1161.39H278.35Z" fill="#0000c5"/>
<path d="M283.98 1155.28H290.41V1160.59H283.98Z" fill="#0000f3"/>
<path d="M289.61 1155.28H295.24V1160.59H289.61Z" fill="#0000c5"/>
<path d="M216.44 1160.59H222.07V1165.90H216.44Z" fill="#000097"/>
<path d="M233.33 1160.59H239.76V1166.70H233.33Z" fill="#0000c5"/>
<path d="M238.96 1160.59H245.38V1166.70H238.96Z" fill="#0000f3"/>
<path d="M244.58 1160.59H251.01V1166.70H244.58Z" fill="#0024ff"/>
<path d="M250.21 1160.59H256.64V1166.70H250.21Z" fill="#0024ff"/>
<path d="M255.84 1160.59H262.27V1166.70H255.84Z" fill="#0000f3"/>
<path d="M261.47 1160.59H267.90V1166.70H261.47Z" fill="#00dbff"/>
<path d="M267.10 1160.59H273.52V1166.70H267.10Z" fill="#0000f3"/>
<path d="M272.72 1160.59H279.15V1166.70H272.72Z" fill="#0000c5"/>
<path d="M278.35 1160.59H283.98V1166.70H278.35Z" fill="#0000c5"/>
<path d="M205.19 1165.90H210.82V1171.21H205.19Z" fill="#000097"/>
<path d="M233.33 1165.90H239.76V1171.21H233.33Z" fill="#0000c5"/>
<path d="M238.96 1165.90H245.38V1171.21H238.96Z" fill="#0000c5"/>
<path d="M244.58 1165.90H251.01V1171.21H244.58Z" fill="#0000c5"/>
<path d="M250.21 1165.90H256.64V1172.01H250.21Z" fill="#0000f3"/>
<path d="M255.84 1165.90H262.27V1172.01H255.84Z" fill="#0000f3"/>
<path d="M261.47 1165.90H267.90V1172.01H261.47Z" fill="#0000f3"/>
<path d="M267.10 1165.90H273.52V1172.01H267.10Z" fill="#0000c5"/>
<path d="M272.72 1165.90H279.15V1171.21H278.35V1172.01H272.72Z" fill="#000097"/>
<path d="M278.35 1165.90H283.98V1171.21H278.35Z" fill="#0000c5"/>
<path d="M250.21 1171.21H256.64V1176.52H250.21Z" fill="#0000c5"/>
<path d="M255.84 1171.21H262.27V1176.52H261.47V1177.32H255.84Z" fill="#0024ff"/>
<path d="M261.47 1171.21H267.90V1176.52H261.47Z" fill="#0000f3"/>
<path d="M267.10 1171.21H273.52V1176.52H267.10Z" fill="#0000f3"/>
<path d="M272.72 1171.21H278.35V1176.52H272.72Z" fill="#0000c5"/>
<path d="M255.84 1176.52H261.47V1182.64H255.84Z" fill="#0000c5"/>
<path d="M255.84 1181.84H262.27V1187.95H255.84Z" fill="#0000c5"/>
<path d="M261.47 1181.84H267.90V1187.95H261.47Z" fill="#000097"/>
<path d="M267.10 1181.84H272.72V1187.95H267.10Z" fill="#000097"/>
<path d="M255.84 1187.15H262.27V1193.26H255.84Z" fill="#0000c5"/>
<path d="M261.47 1187.15H267.90V1193.26H261.47Z" fill="#000097"/>
<path d="M267.10 1187.15H272.72V1193.26H267.10Z" fill="#000097"/>
<path d="M255.84 1192.46H262.27V1197.77H255.84Z" fill="#000097"/>
<path d="M261.47 1192.46H267.90V1197.77H267.10V1198.57H261.47Z" fill="#0000c5"/>
<path d="M267.10 1192.46H272.72V1197.77H267.10Z" fill="#000097"/>
<path d="M261.47 1197.77H267.10V1203.08H261.47Z" fill="#0000c5"/>
</g>
<line x1="87.0" y1="1298.7" x2="509.1" y2="900.3" stroke="#000" stroke-width="1.15"/>
<rect x="87.0" y="900.3" width="422.1" height="398.4" fill="none" stroke="#000" stroke-width="1.06" stroke-opacity="0.8"/>
<line x1="87.0" y1="1298.7" x2="87.0" y2="1303.2" stroke="#000" stroke-width="1.06" stroke-opacity="0.8"/>
<line x1="87.0" y1="1298.7" x2="82.5" y2="1298.7" stroke="#000" stroke-width="1.06" stroke-opacity="0.8"/>
<line x1="227.7" y1="1298.7" x2="227.7" y2="1303.2" stroke="#000" stroke-width="1.06" stroke-opacity="0.8"/>
<line x1="87.0" y1="1166.3" x2="82.5" y2="1166.3" stroke="#000" stroke-width="1.06" stroke-opacity="0.8"/>
<line x1="368.4" y1="1298.7" x2="368.4" y2="1303.2" stroke="#000" stroke-width="1.06" stroke-opacity="0.8"/>
<line x1="87.0" y1="1033.5" x2="82.5" y2="1033.5" stroke="#000" stroke-width="1.06" stroke-opacity="0.8"/>
<line x1="509.1" y1="1298.7" x2="509.1" y2="1303.2" stroke="#000" stroke-width="1.06" stroke-opacity="0.8"/>
<line x1="87.0" y1="900.3" x2="82.5" y2="900.3" stroke="#000" stroke-width="1.06" stroke-opacity="0.8"/>
<text x="78.0" y="1176.1" font-size="26.5" text-anchor="end">2.5</text>
<text x="78.0" y="1043.3" font-size="26.5" text-anchor="end">5.0</text>
<text transform="translate(25,1099.5) rotate(-90)" font-size="26.5" text-anchor="middle"><tspan class="it">h</tspan><tspan class="it" font-size="18.5" dy="4">c</tspan><tspan dy="-4"> [m]</tspan></text>
<text x="227.7" y="1328.7" font-size="26.5" text-anchor="middle">2.5</text>
<text x="368.4" y="1328.7" font-size="26.5" text-anchor="middle">5.0</text>
<text x="298.1" y="1360.2" font-size="26.5" text-anchor="middle"><tspan class="it">h</tspan><tspan class="it" font-size="18.5" dy="4">m</tspan><tspan dy="-4"> [m]</tspan></text>
<text x="120.8" y="983.7" font-size="39.2">E</text>
<text x="284.0" y="1219.0" font-size="18.35" fill="#222">RMSE=0.61m</text>
<text x="284.0" y="1272.1" font-size="18.35" fill="#222">bias=0.26m</text>
<text x="171.4" y="1272.1" font-size="18.35" fill="#222">60%</text>
</g>
<g id="panelF">
<g>
<path d="M772.78 1043.72H779.20V1049.04H772.78Z" fill="#0000c5"/>
<path d="M778.40 1043.72H784.03V1049.84H778.40Z" fill="#0000c5"/>
<path d="M789.66 1043.72H795.29V1049.84H789.66Z" fill="#000097"/>
<path d="M778.40 1049.04H784.83V1055.15H778.40Z" fill="#0000c5"/>
<path d="M784.03 1049.04H790.46V1055.15H784.03Z" fill="#0000c5"/>
<path d="M789.66 1049.04H796.09V1055.15H789.66Z" fill="#0000c5"/>
<path d="M795.29 1049.04H801.72V1054.35H800.92V1055.15H795.29Z" fill="#000097"/>
<path d="M800.92 1049.04H806.54V1054.35H800.92Z" fill="#000097"/>
<path d="M772.78 1054.35H779.20V1060.46H772.78Z" fill="#000097"/>
<path d="M778.40 1054.35H784.83V1060.46H778.40Z" fill="#0000c5"/>
<path d="M784.03 1054.35H790.46V1059.66H789.66V1060.46H784.03Z" fill="#0000c5"/>
<path d="M789.66 1054.35H796.09V1059.66H789.66Z" fill="#0000c5"/>
<path d="M795.29 1054.35H800.92V1060.46H795.29Z" fill="#0000c5"/>
<path d="M767.15 1059.66H773.58V1064.97H772.78V1065.77H767.15Z" fill="#000097"/>
<path d="M772.78 1059.66H779.20V1064.97H772.78Z" fill="#000097"/>
<path d="M778.40 1059.66H784.83V1064.97H778.40Z" fill="#000097"/>
<path d="M784.03 1059.66H789.66V1065.77H784.03Z" fill="#000097"/>
<path d="M795.29 1059.66H801.72V1065.77H795.29Z" fill="#0000c5"/>
<path d="M800.92 1059.66H806.54V1065.77H800.92Z" fill="#0000c5"/>
<path d="M682.73 1064.97H688.36V1071.08H682.73Z" fill="#000097"/>
<path d="M761.52 1064.97H767.95V1070.28H761.52Z" fill="#000097"/>
<path d="M767.15 1064.97H772.78V1070.28H767.15Z" fill="#000097"/>
<path d="M784.03 1064.97H790.46V1071.08H784.03Z" fill="#000097"/>
<path d="M789.66 1064.97H796.09V1071.08H789.66Z" fill="#000097"/>
<path d="M795.29 1064.97H801.72V1071.08H795.29Z" fill="#0000c5"/>
<path d="M800.92 1064.97H806.54V1071.08H800.92Z" fill="#0000c5"/>
<path d="M637.70 1070.28H644.13V1075.60H637.70Z" fill="#000097"/>
<path d="M643.33 1070.28H649.76V1075.60H643.33Z" fill="#000097"/>
<path d="M648.96 1070.28H654.59V1075.60H648.96Z" fill="#000097"/>
<path d="M682.73 1070.28H689.16V1075.60H688.36V1076.40H682.73Z" fill="#000097"/>
<path d="M688.36 1070.28H693.98V1075.60H688.36Z" fill="#000097"/>
<path d="M699.61 1070.28H706.04V1076.40H699.61Z" fill="#0000c5"/>
<path d="M705.24 1070.28H711.67V1076.40H705.24Z" fill="#0000c5"/>
<path d="M710.87 1070.28H716.50V1076.40H710.87Z" fill="#0000c5"/>
<path d="M722.12 1070.28H727.75V1076.40H722.12Z" fill="#000097"/>
<path d="M733.38 1070.28H739.81V1075.60H733.38Z" fill="#000097"/>
<path d="M739.01 1070.28H744.64V1076.40H739.01Z" fill="#000097"/>
<path d="M784.03 1070.28H790.46V1076.40H784.03Z" fill="#000097"/>
<path d="M789.66 1070.28H796.09V1076.40H789.66Z" fill="#000097"/>
<path d="M795.29 1070.28H801.72V1076.40H795.29Z" fill="#0000c5"/>
<path d="M800.92 1070.28H807.34V1076.40H800.92Z" fill="#0000c5"/>
<path d="M806.54 1070.28H812.97V1076.40H806.54Z" fill="#0000f3"/>
<path d="M812.17 1070.28H817.80V1076.40H812.17Z" fill="#000097"/>
<path d="M682.73 1075.60H688.36V1081.71H682.73Z" fill="#000097"/>
<path d="M699.61 1075.60H706.04V1081.71H699.61Z" fill="#0000c5"/>
<path d="M705.24 1075.60H711.67V1081.71H705.24Z" fill="#0000f3"/>
<path d="M710.87 1075.60H717.30V1081.71H710.87Z" fill="#0000c5"/>
<path d="M716.50 1075.60H722.92V1081.71H716.50Z" fill="#0000c5"/>
<path d="M722.12 1075.60H727.75V1081.71H722.12Z" fill="#0000c5"/>
<path d="M739.01 1075.60H744.64V1080.91H739.01Z" fill="#000097"/>
<path d="M755.89 1075.60H761.52V1081.71H755.89Z" fill="#000097"/>
<path d="M767.15 1075.60H772.78V1081.71H767.15Z" fill="#000097"/>
<path d="M784.03 1075.60H790.46V1081.71H784.03Z" fill="#000097"/>
<path d="M789.66 1075.60H796.09V1081.71H789.66Z" fill="#000097"/>
<path d="M795.29 1075.60H801.72V1081.71H795.29Z" fill="#0000c5"/>
<path d="M800.92 1075.60H807.34V1081.71H800.92Z" fill="#009eff"/>
<path d="M806.54 1075.60H812.97V1081.71H806.54Z" fill="#ff5500"/>
<path d="M812.17 1075.60H818.60V1081.71H812.17Z" fill="#5aff9c"/>
<path d="M817.80 1075.60H824.23V1081.71H817.80Z" fill="#009eff"/>
<path d="M823.43 1075.60H829.86V1081.71H823.43Z" fill="#000097"/>
<path d="M829.06 1075.60H834.68V1081.71H829.06Z" fill="#000097"/>
<path d="M643.33 1080.91H649.76V1086.22H643.33Z" fill="#000097"/>
<path d="M648.96 1080.91H654.59V1086.22H648.96Z" fill="#000097"/>
<path d="M677.10 1080.91H683.53V1087.02H677.10Z" fill="#000097"/>
<path d="M682.73 1080.91H688.36V1087.02H682.73Z" fill="#000097"/>
<path d="M693.98 1080.91H700.41V1087.02H693.98Z" fill="#0000c5"/>
<path d="M699.61 1080.91H706.04V1087.02H699.61Z" fill="#0000c5"/>
<path d="M705.24 1080.91H711.67V1087.02H705.24Z" fill="#0000c5"/>
<path d="M710.87 1080.91H717.30V1087.02H710.87Z" fill="#0000c5"/>
<path d="M716.50 1080.91H722.92V1086.22H722.12V1087.02H716.50Z" fill="#000097"/>
<path d="M722.12 1080.91H727.75V1086.22H722.12Z" fill="#000097"/>
<path d="M750.26 1080.91H756.69V1087.02H750.26Z" fill="#0000c5"/>
<path d="M755.89 1080.91H762.32V1087.02H755.89Z" fill="#0000c5"/>
<path d="M761.52 1080.91H767.95V1087.02H761.52Z" fill="#0000c5"/>
<path d="M767.15 1080.91H773.58V1087.02H767.15Z" fill="#0000c5"/>
<path d="M772.78 1080.91H779.20V1087.02H772.78Z" fill="#0000c5"/>
<path d="M778.40 1080.91H784.83V1087.02H778.40Z" fill="#0000c5"/>
<path d="M784.03 1080.91H790.46V1087.02H784.03Z" fill="#0000f3"/>
<path d="M789.66 1080.91H796.09V1087.02H789.66Z" fill="#0000c5"/>
<path d="M795.29 1080.91H801.72V1087.02H795.29Z" fill="#0000c5"/>
<path d="M800.92 1080.91H807.34V1087.02H800.92Z" fill="#29ffce"/>
<path d="M806.54 1080.91H812.97V1087.02H806.54Z" fill="#5aff9c"/>
<path d="M812.17 1080.91H818.60V1087.02H812.17Z" fill="#29ffce"/>
<path d="M817.80 1080.91H824.23V1087.02H817.80Z" fill="#0000c5"/>
<path d="M823.43 1080.91H829.86V1087.02H823.43Z" fill="#000097"/>
<path d="M829.06 1080.91H834.68V1087.02H829.06Z" fill="#000097"/>
<path d="M677.10 1086.22H683.53V1092.33H677.10Z" fill="#000097"/>
<path d="M682.73 1086.22H689.16V1092.33H682.73Z" fill="#0000c5"/>
<path d="M688.36 1086.22H694.78V1092.33H688.36Z" fill="#0000c5"/>
<path d="M693.98 1086.22H700.41V1092.33H693.98Z" fill="#0000f3"/>
<path d="M699.61 1086.22H706.04V1092.33H699.61Z" fill="#0000c5"/>
<path d="M705.24 1086.22H711.67V1092.33H705.24Z" fill="#0000c5"/>
<path d="M710.87 1086.22H717.30V1092.33H710.87Z" fill="#0000c5"/>
<path d="M716.50 1086.22H722.12V1092.33H716.50Z" fill="#000097"/>
<path d="M744.64 1086.22H751.06V1092.33H744.64Z" fill="#000097"/>
<path d="M750.26 1086.22H756.69V1092.33H750.26Z" fill="#0000c5"/>
<path d="M755.89 1086.22H762.32V1092.33H755.89Z" fill="#0000c5"/>
<path d="M761.52 1086.22H767.95V1092.33H761.52Z" fill="#0000c5"/>
<path d="M767.15 1086.22H773.58V1092.33H767.15Z" fill="#0000c5"/>
<path d="M772.78 1086.22H779.20V1092.33H772.78Z" fill="#0000c5"/>
<path d="M778.40 1086.22H784.83V1092.33H778.40Z" fill="#009eff"/>
<path d="M784.03 1086.22H790.46V1092.33H784.03Z" fill="#29ffce"/>
<path d="M789.66 1086.22H796.09V1092.33H789.66Z" fill="#5aff9c"/>
<path d="M795.29 1086.22H801.72V1092.33H795.29Z" fill="#5aff9c"/>
<path d="M800.92 1086.22H807.34V1092.33H800.92Z" fill="#29ffce"/>
<path d="M806.54 1086.22H812.97V1092.33H806.54Z" fill="#5aff9c"/>
<path d="M812.17 1086.22H818.60V1092.33H812.17Z" fill="#0061ff"/>
<path d="M817.80 1086.22H824.23V1091.53H823.43V1092.33H817.80Z" fill="#0000f3"/>
<path d="M823.43 1086.22H829.86V1091.53H823.43Z" fill="#000097"/>
<path d="M829.06 1086.22H834.68V1092.33H829.06Z" fill="#000097"/>
<path d="M677.10 1091.53H683.53V1097.64H677.10Z" fill="#0000f3"/>
<path d="M682.73 1091.53H689.16V1097.64H682.73Z" fill="#0000f3"/>
<path d="M688.36 1091.53H694.78V1097.64H688.36Z" fill="#0000f3"/>
<path d="M693.98 1091.53H700.41V1097.64H693.98Z" fill="#0024ff"/>
<path d="M699.61 1091.53H706.04V1097.64H699.61Z" fill="#0000f3"/>
<path d="M705.24 1091.53H711.67V1097.64H705.24Z" fill="#0024ff"/>
<path d="M710.87 1091.53H717.30V1097.64H710.87Z" fill="#0000c5"/>
<path d="M716.50 1091.53H722.12V1097.64H716.50Z" fill="#0000c5"/>
<path d="M744.64 1091.53H751.06V1097.64H744.64Z" fill="#000097"/>
<path d="M750.26 1091.53H756.69V1097.64H750.26Z" fill="#0000c5"/>
<path d="M755.89 1091.53H762.32V1097.64H755.89Z" fill="#0000c5"/>
<path d="M761.52 1091.53H767.95V1097.64H761.52Z" fill="#0000c5"/>
<path d="M767.15 1091.53H773.58V1097.64H767.15Z" fill="#0000f3"/>
<path d="M772.78 1091.53H779.20V1097.64H772.78Z" fill="#0061ff"/>
<path d="M778.40 1091.53H784.83V1097.64H778.40Z" fill="#ff8e00"/>
<path d="M784.03 1091.53H790.46V1097.64H784.03Z" fill="#c50000"/>
<path d="M789.66 1091.53H796.09V1097.64H789.66Z" fill="#ff5500"/>
<path d="M795.29 1091.53H801.72V1097.64H795.29Z" fill="#ffc600"/>
<path d="M800.92 1091.53H807.34V1097.64H800.92Z" fill="#29ffce"/>
<path d="M806.54 1091.53H812.97V1097.64H806.54Z" fill="#29ffce"/>
<path d="M812.17 1091.53H818.60V1097.64H812.17Z" fill="#29ffce"/>
<path d="M817.80 1091.53H823.43V1097.64H817.80Z" fill="#0000f3"/>
<path d="M829.06 1091.53H834.68V1096.84H829.06Z" fill="#000097"/>
<path d="M677.10 1096.84H683.53V1102.16H677.10Z" fill="#000097"/>
<path d="M682.73 1096.84H689.16V1102.16H688.36V1102.96H682.73Z" fill="#0000c5"/>
<path d="M688.36 1096.84H694.78V1102.16H688.36Z" fill="#0000c5"/>
<path d="M693.98 1096.84H700.41V1102.96H693.98Z" fill="#0000c5"/>
<path d="M699.61 1096.84H706.04V1102.96H699.61Z" fill="#0000c5"/>
<path d="M705.24 1096.84H711.67V1102.96H705.24Z" fill="#0000c5"/>
<path d="M710.87 1096.84H717.30V1102.96H710.87Z" fill="#000097"/>
<path d="M716.50 1096.84H722.12V1102.96H716.50Z" fill="#000097"/>
<path d="M739.01 1096.84H745.44V1102.96H739.01Z" fill="#000097"/>
<path d="M744.64 1096.84H751.06V1102.16H750.26V1102.96H744.64Z" fill="#000097"/>
<path d="M750.26 1096.84H756.69V1102.16H750.26Z" fill="#0000c5"/>
<path d="M755.89 1096.84H762.32V1102.96H755.89Z" fill="#0000c5"/>
<path d="M761.52 1096.84H767.95V1102.96H761.52Z" fill="#0000f3"/>
<path d="M767.15 1096.84H773.58V1102.96H767.15Z" fill="#bdff3a"/>
<path d="M772.78 1096.84H779.20V1102.96H772.78Z" fill="#5aff9c"/>
<path d="M778.40 1096.84H784.83V1102.96H778.40Z" fill="#efff08"/>
<path d="M784.03 1096.84H790.46V1102.96H784.03Z" fill="#ffc600"/>
<path d="M789.66 1096.84H796.09V1102.96H789.66Z" fill="#ffc600"/>
<path d="M795.29 1096.84H801.72V1102.96H795.29Z" fill="#ff8e00"/>
<path d="M800.92 1096.84H807.34V1102.96H800.92Z" fill="#ff8e00"/>
<path d="M806.54 1096.84H812.97V1102.96H806.54Z" fill="#ffc600"/>
<path d="M812.17 1096.84H818.60V1102.96H812.17Z" fill="#0000f3"/>
<path d="M817.80 1096.84H823.43V1102.96H817.80Z" fill="#0000c5"/>
<path d="M834.68 1096.84H840.31V1102.16H834.68Z" fill="#000097"/>
<path d="M682.73 1102.16H688.36V1107.47H682.73Z" fill="#000097"/>
<path d="M693.98 1102.16H700.41V1108.27H693.98Z" fill="#000097"/>
<path d="M699.61 1102.16H706.04V1108.27H699.61Z" fill="#0000c5"/>
<path d="M705.24 1102.16H711.67V1108.27H705.24Z" fill="#0000c5"/>
<path d="M710.87 1102.16H717.30V1108.27H710.87Z" fill="#0000c5"/>
<path d="M716.50 1102.16H722.12V1108.27H716.50Z" fill="#0000c5"/>
<path d="M733.38 1102.16H739.81V1108.27H733.38Z" fill="#000097"/>
<path d="M739.01 1102.16H745.44V1108.27H739.01Z" fill="#000097"/>
<path d="M744.64 1102.16H750.26V1108.27H744.64Z" fill="#000097"/>
<path d="M755.89 1102.16H762.32V1108.27H755.89Z" fill="#0000c5"/>
<path d="M761.52 1102.16H767.95V1108.27H761.52Z" fill="#0000f3"/>
<path d="M767.15 1102.16H773.58V1108.27H767.15Z" fill="#0024ff"/>
<path d="M772.78 1102.16H779.20V1108.27H772.78Z" fill="#29ffce"/>
<path d="M778.40 1102.16H784.83V1108.27H778.40Z" fill="#0061ff"/>
<path d="M784.03 1102.16H790.46V1108.27H784.03Z" fill="#009eff"/>
<path d="M789.66 1102.16H796.09V1108.27H789.66Z" fill="#8cff6b"/>
<path d="M795.29 1102.16H801.72V1108.27H795.29Z" fill="#8cff6b"/>
<path d="M800.92 1102.16H807.34V1108.27H800.92Z" fill="#8cff6b"/>
<path d="M806.54 1102.16H812.97V1108.27H806.54Z" fill="#009eff"/>
<path d="M812.17 1102.16H818.60V1108.27H812.17Z" fill="#0000f3"/>
<path d="M817.80 1102.16H824.23V1108.27H817.80Z" fill="#0000f3"/>
<path d="M823.43 1102.16H829.06V1108.27H823.43Z" fill="#000097"/>
<path d="M643.33 1107.47H648.96V1113.58H643.33Z" fill="#000097"/>
<path d="M654.59 1107.47H660.22V1112.78H654.59Z" fill="#000097"/>
<path d="M665.84 1107.47H672.27V1112.78H665.84Z" fill="#000097"/>
<path d="M671.47 1107.47H677.10V1112.78H671.47Z" fill="#000097"/>
<path d="M688.36 1107.47H694.78V1113.58H688.36Z" fill="#000097"/>
<path d="M693.98 1107.47H700.41V1113.58H693.98Z" fill="#000097"/>
<path d="M699.61 1107.47H706.04V1113.58H699.61Z" fill="#0000c5"/>
<path d="M705.24 1107.47H711.67V1113.58H705.24Z" fill="#0000c5"/>
<path d="M710.87 1107.47H717.30V1113.58H710.87Z" fill="#0000f3"/>
<path d="M716.50 1107.47H722.92V1113.58H716.50Z" fill="#0000c5"/>
<path d="M722.12 1107.47H728.55V1113.58H722.12Z" fill="#0000c5"/>
<path d="M727.75 1107.47H734.18V1113.58H727.75Z" fill="#0000c5"/>
<path d="M733.38 1107.47H739.81V1113.58H733.38Z" fill="#0000c5"/>
<path d="M739.01 1107.47H745.44V1113.58H739.01Z" fill="#0000c5"/>
<path d="M744.64 1107.47H751.06V1113.58H744.64Z" fill="#0000c5"/>
<path d="M750.26 1107.47H756.69V1113.58H750.26Z" fill="#0000f3"/>
<path d="M755.89 1107.47H762.32V1113.58H755.89Z" fill="#0024ff"/>
<path d="M761.52 1107.47H767.95V1113.58H761.52Z" fill="#0061ff"/>
<path d="M767.15 1107.47H773.58V1113.58H767.15Z" fill="#0024ff"/>
<path d="M772.78 1107.47H779.20V1113.58H772.78Z" fill="#009eff"/>
<path d="M778.40 1107.47H784.83V1113.58H778.40Z" fill="#8cff6b"/>
<path d="M784.03 1107.47H790.46V1113.58H784.03Z" fill="#009eff"/>
<path d="M789.66 1107.47H796.09V1113.58H789.66Z" fill="#efff08"/>
<path d="M795.29 1107.47H801.72V1113.58H795.29Z" fill="#ff5500"/>
<path d="M800.92 1107.47H807.34V1113.58H800.92Z" fill="#ff8e00"/>
<path d="M806.54 1107.47H812.97V1113.58H806.54Z" fill="#8cff6b"/>
<path d="M812.17 1107.47H818.60V1113.58H812.17Z" fill="#009eff"/>
<path d="M817.80 1107.47H824.23V1113.58H817.80Z" fill="#0000c5"/>
<path d="M823.43 1107.47H829.06V1113.58H823.43Z" fill="#000097"/>
<path d="M632.08 1112.78H637.70V1118.89H632.08Z" fill="#000097"/>
<path d="M643.33 1112.78H649.76V1118.89H643.33Z" fill="#000097"/>
<path d="M648.96 1112.78H654.59V1118.89H648.96Z" fill="#000097"/>
<path d="M688.36 1112.78H694.78V1118.89H688.36Z" fill="#000097"/>
<path d="M693.98 1112.78H700.41V1118.89H693.98Z" fill="#000097"/>
<path d="M699.61 1112.78H706.04V1118.89H699.61Z" fill="#0000c5"/>
<path d="M705.24 1112.78H711.67V1118.89H705.24Z" fill="#0000c5"/>
<path d="M710.87 1112.78H717.30V1118.89H710.87Z" fill="#0000f3"/>
<path d="M716.50 1112.78H722.92V1118.89H716.50Z" fill="#0024ff"/>
<path d="M722.12 1112.78H728.55V1118.89H722.12Z" fill="#000097"/>
<path d="M727.75 1112.78H734.18V1118.89H727.75Z" fill="#0000c5"/>
<path d="M733.38 1112.78H739.81V1118.89H733.38Z" fill="#0024ff"/>
<path d="M739.01 1112.78H745.44V1118.89H739.01Z" fill="#0000c5"/>
<path d="M744.64 1112.78H751.06V1118.89H744.64Z" fill="#0061ff"/>
<path d="M750.26 1112.78H756.69V1118.89H750.26Z" fill="#29ffce"/>
<path d="M755.89 1112.78H762.32V1118.89H755.89Z" fill="#5aff9c"/>
<path d="M761.52 1112.78H767.95V1118.89H761.52Z" fill="#bdff3a"/>
<path d="M767.15 1112.78H773.58V1118.89H767.15Z" fill="#0024ff"/>
<path d="M772.78 1112.78H779.20V1118.89H772.78Z" fill="#009eff"/>
<path d="M778.40 1112.78H784.83V1118.89H778.40Z" fill="#29ffce"/>
<path d="M784.03 1112.78H790.46V1118.89H784.03Z" fill="#5aff9c"/>
<path d="M789.66 1112.78H796.09V1118.89H789.66Z" fill="#5aff9c"/>
<path d="M795.29 1112.78H801.72V1118.89H795.29Z" fill="#ffc600"/>
<path d="M800.92 1112.78H807.34V1118.89H800.92Z" fill="#efff08"/>
<path d="M806.54 1112.78H812.97V1118.89H806.54Z" fill="#009eff"/>
<path d="M812.17 1112.78H818.60V1118.89H812.17Z" fill="#0000f3"/>
<path d="M817.80 1112.78H824.23V1118.09H823.43V1118.89H817.80Z" fill="#0000c5"/>
<path d="M823.43 1112.78H829.06V1118.09H823.43Z" fill="#000097"/>
<path d="M626.45 1118.09H632.88V1123.40H626.45Z" fill="#000097"/>
<path d="M632.08 1118.09H638.50V1123.40H632.08Z" fill="#000097"/>
<path d="M637.70 1118.09H644.13V1123.40H637.70Z" fill="#000097"/>
<path d="M643.33 1118.09H649.76V1123.40H643.33Z" fill="#000097"/>
<path d="M648.96 1118.09H654.59V1123.40H648.96Z" fill="#000097"/>
<path d="M660.22 1118.09H665.84V1123.40H660.22Z" fill="#000097"/>
<path d="M671.47 1118.09H677.90V1123.40H671.47Z" fill="#000097"/>
<path d="M677.10 1118.09H683.53V1123.40H677.10Z" fill="#0000c5"/>
<path d="M682.73 1118.09H689.16V1123.40H688.36V1124.20H682.73Z" fill="#0000c5"/>
<path d="M688.36 1118.09H694.78V1123.40H688.36Z" fill="#0000c5"/>
<path d="M693.98 1118.09H700.41V1124.20H693.98Z" fill="#0000f3"/>
<path d="M699.61 1118.09H706.04V1124.20H699.61Z" fill="#29ffce"/>
<path d="M705.24 1118.09H711.67V1124.20H705.24Z" fill="#009eff"/>
<path d="M710.87 1118.09H717.30V1124.20H710.87Z" fill="#bdff3a"/>
<path d="M716.50 1118.09H722.92V1124.20H716.50Z" fill="#8cff6b"/>
<path d="M722.12 1118.09H728.55V1124.20H722.12Z" fill="#0000f3"/>
<path d="M727.75 1118.09H734.18V1124.20H727.75Z" fill="#0024ff"/>
<path d="M733.38 1118.09H739.81V1124.20H733.38Z" fill="#0061ff"/>
<path d="M739.01 1118.09H745.44V1124.20H739.01Z" fill="#00dbff"/>
<path d="M744.64 1118.09H751.06V1124.20H744.64Z" fill="#5aff9c"/>
<path d="M750.26 1118.09H756.69V1124.20H750.26Z" fill="#5aff9c"/>
<path d="M755.89 1118.09H762.32V1124.20H755.89Z" fill="#00dbff"/>
<path d="M761.52 1118.09H767.95V1124.20H761.52Z" fill="#00dbff"/>
<path d="M767.15 1118.09H773.58V1124.20H767.15Z" fill="#5aff9c"/>
<path d="M772.78 1118.09H779.20V1124.20H772.78Z" fill="#ff5500"/>
<path d="M778.40 1118.09H784.83V1124.20H778.40Z" fill="#ff1c00"/>
<path d="M784.03 1118.09H790.46V1124.20H784.03Z" fill="#bdff3a"/>
<path d="M789.66 1118.09H796.09V1124.20H789.66Z" fill="#5aff9c"/>
<path d="M795.29 1118.09H801.72V1124.20H795.29Z" fill="#5aff9c"/>
<path d="M800.92 1118.09H807.34V1124.20H800.92Z" fill="#8cff6b"/>
<path d="M806.54 1118.09H812.97V1124.20H806.54Z" fill="#00dbff"/>
<path d="M812.17 1118.09H818.60V1124.20H812.17Z" fill="#0000c5"/>
<path d="M817.80 1118.09H823.43V1124.20H817.80Z" fill="#000097"/>
<path d="M682.73 1123.40H688.36V1128.72H682.73Z" fill="#000097"/>
<path d="M693.98 1123.40H700.41V1129.52H693.98Z" fill="#0000f3"/>
<path d="M699.61 1123.40H706.04V1129.52H699.61Z" fill="#0061ff"/>
<path d="M705.24 1123.40H711.67V1129.52H705.24Z" fill="#009eff"/>
<path d="M710.87 1123.40H717.30V1129.52H710.87Z" fill="#009eff"/>
<path d="M716.50 1123.40H722.92V1129.52H716.50Z" fill="#0024ff"/>
<path d="M722.12 1123.40H728.55V1129.52H722.12Z" fill="#0000f3"/>
<path d="M727.75 1123.40H734.18V1129.52H727.75Z" fill="#0024ff"/>
<path d="M733.38 1123.40H739.81V1129.52H733.38Z" fill="#0061ff"/>
<path d="M739.01 1123.40H745.44V1129.52H739.01Z" fill="#00dbff"/>
<path d="M744.64 1123.40H751.06V1129.52H744.64Z" fill="#009eff"/>
<path d="M750.26 1123.40H756.69V1129.52H750.26Z" fill="#0024ff"/>
<path d="M755.89 1123.40H762.32V1129.52H755.89Z" fill="#0024ff"/>
<path d="M761.52 1123.40H767.95V1129.52H761.52Z" fill="#00dbff"/>
<path d="M767.15 1123.40H773.58V1129.52H767.15Z" fill="#ff1c00"/>
<path d="M772.78 1123.40H779.20V1129.52H772.78Z" fill="#c50000"/>
<path d="M778.40 1123.40H784.83V1129.52H778.40Z" fill="#ff8e00"/>
<path d="M784.03 1123.40H790.46V1129.52H784.03Z" fill="#29ffce"/>
<path d="M789.66 1123.40H796.09V1128.72H795.29V1129.52H789.66Z" fill="#00dbff"/>
<path d="M795.29 1123.40H801.72V1128.72H795.29Z" fill="#0000f3"/>
<path d="M800.92 1123.40H807.34V1129.52H800.92Z" fill="#00dbff"/>
<path d="M806.54 1123.40H812.97V1129.52H806.54Z" fill="#0061ff"/>
<path d="M812.17 1123.40H818.60V1129.52H812.17Z" fill="#0000c5"/>
<path d="M817.80 1123.40H823.43V1129.52H817.80Z" fill="#000097"/>
<path d="M643.33 1128.72H648.96V1134.03H643.33Z" fill="#000097"/>
<path d="M654.59 1128.72H660.22V1134.03H654.59Z" fill="#000097"/>
<path d="M693.98 1128.72H700.41V1134.83H693.98Z" fill="#0000f3"/>
<path d="M699.61 1128.72H706.04V1134.83H699.61Z" fill="#0000f3"/>
<path d="M705.24 1128.72H711.67V1134.83H705.24Z" fill="#0000f3"/>
<path d="M710.87 1128.72H717.30V1134.83H710.87Z" fill="#0000f3"/>
<path d="M716.50 1128.72H722.92V1134.83H716.50Z" fill="#0024ff"/>
<path d="M722.12 1128.72H728.55V1134.83H722.12Z" fill="#00dbff"/>
<path d="M727.75 1128.72H734.18V1134.83H727.75Z" fill="#29ffce"/>
<path d="M733.38 1128.72H739.81V1134.83H733.38Z" fill="#009eff"/>
<path d="M739.01 1128.72H745.44V1134.83H739.01Z" fill="#0061ff"/>
<path d="M744.64 1128.72H751.06V1134.83H744.64Z" fill="#0024ff"/>
<path d="M750.26 1128.72H756.69V1134.83H750.26Z" fill="#0024ff"/>
<path d="M755.89 1128.72H762.32V1134.83H755.89Z" fill="#5aff9c"/>
<path d="M761.52 1128.72H767.95V1134.83H761.52Z" fill="#efff08"/>
<path d="M767.15 1128.72H773.58V1134.83H767.15Z" fill="#ff5500"/>
<path d="M772.78 1128.72H779.20V1134.83H772.78Z" fill="#ff1c00"/>
<path d="M778.40 1128.72H784.83V1134.83H778.40Z" fill="#5aff9c"/>
<path d="M784.03 1128.72H790.46V1134.83H784.03Z" fill="#00dbff"/>
<path d="M789.66 1128.72H795.29V1134.83H789.66Z" fill="#0000c5"/>
<path d="M800.92 1128.72H807.34V1134.03H806.54V1134.83H800.92Z" fill="#0000c5"/>
<path d="M806.54 1128.72H812.97V1134.03H806.54Z" fill="#0000c5"/>
<path d="M812.17 1128.72H818.60V1134.03H812.17Z" fill="#000097"/>
<path d="M817.80 1128.72H823.43V1134.03H817.80Z" fill="#000097"/>
<path d="M665.84 1134.03H671.47V1139.34H665.84Z" fill="#000097"/>
<path d="M677.10 1134.03H683.53V1139.34H677.10Z" fill="#000097"/>
<path d="M682.73 1134.03H689.16V1140.14H682.73Z" fill="#000097"/>
<path d="M688.36 1134.03H694.78V1140.14H688.36Z" fill="#000097"/>
<path d="M693.98 1134.03H700.41V1140.14H693.98Z" fill="#0000c5"/>
<path d="M699.61 1134.03H706.04V1140.14H699.61Z" fill="#009eff"/>
<path d="M705.24 1134.03H711.67V1140.14H705.24Z" fill="#29ffce"/>
<path d="M710.87 1134.03H717.30V1140.14H710.87Z" fill="#29ffce"/>
<path d="M716.50 1134.03H722.92V1140.14H716.50Z" fill="#0024ff"/>
<path d="M722.12 1134.03H728.55V1140.14H722.12Z" fill="#29ffce"/>
<path d="M727.75 1134.03H734.18V1140.14H727.75Z" fill="#009eff"/>
<path d="M733.38 1134.03H739.81V1140.14H733.38Z" fill="#00dbff"/>
<path d="M739.01 1134.03H745.44V1140.14H739.01Z" fill="#00dbff"/>
<path d="M744.64 1134.03H751.06V1140.14H744.64Z" fill="#0061ff"/>
<path d="M750.26 1134.03H756.69V1140.14H750.26Z" fill="#009eff"/>
<path d="M755.89 1134.03H762.32V1140.14H755.89Z" fill="#0061ff"/>
<path d="M761.52 1134.03H767.95V1140.14H761.52Z" fill="#0024ff"/>
<path d="M767.15 1134.03H773.58V1140.14H767.15Z" fill="#0024ff"/>
<path d="M772.78 1134.03H779.20V1140.14H772.78Z" fill="#5aff9c"/>
<path d="M778.40 1134.03H784.83V1140.14H778.40Z" fill="#5aff9c"/>
<path d="M784.03 1134.03H790.46V1140.14H784.03Z" fill="#0061ff"/>
<path d="M789.66 1134.03H796.09V1140.14H789.66Z" fill="#0061ff"/>
<path d="M795.29 1134.03H801.72V1140.14H795.29Z" fill="#0000c5"/>
<path d="M800.92 1134.03H806.54V1140.14H800.92Z" fill="#0000c5"/>
<path d="M682.73 1139.34H689.16V1145.45H682.73Z" fill="#0000c5"/>
<path d="M688.36 1139.34H694.78V1145.45H688.36Z" fill="#0000c5"/>
<path d="M693.98 1139.34H700.41V1145.45H693.98Z" fill="#0000c5"/>
<path d="M699.61 1139.34H706.04V1145.45H699.61Z" fill="#009eff"/>
<path d="M705.24 1139.34H711.67V1145.45H705.24Z" fill="#009eff"/>
<path d="M710.87 1139.34H717.30V1145.45H710.87Z" fill="#00dbff"/>
<path d="M716.50 1139.34H722.92V1145.45H716.50Z" fill="#009eff"/>
<path d="M722.12 1139.34H728.55V1145.45H722.12Z" fill="#009eff"/>
<path d="M727.75 1139.34H734.18V1145.45H727.75Z" fill="#5aff9c"/>
<path d="M733.38 1139.34H739.81V1145.45H733.38Z" fill="#5aff9c"/>
<path d="M739.01 1139.34H745.44V1145.45H739.01Z" fill="#00dbff"/>
<path d="M744.64 1139.34H751.06V1145.45H744.64Z" fill="#009eff"/>
<path d="M750.26 1139.34H756.69V1145.45H750.26Z" fill="#00dbff"/>
<path d="M755.89 1139.34H762.32V1145.45H755.89Z" fill="#0000c5"/>
<path d="M761.52 1139.34H767.95V1145.45H761.52Z" fill="#0000c5"/>
<path d="M767.15 1139.34H773.58V1145.45H767.15Z" fill="#0000f3"/>
<path d="M772.78 1139.34H779.20V1145.45H772.78Z" fill="#0000c5"/>
<path d="M778.40 1139.34H784.83V1144.65H784.03V1145.45H778.40Z" fill="#0000f3"/>
<path d="M784.03 1139.34H790.46V1144.65H784.03Z" fill="#0061ff"/>
<path d="M789.66 1139.34H796.09V1144.65H789.66Z" fill="#0000f3"/>
<path d="M795.29 1139.34H801.72V1144.65H795.29Z" fill="#0000c5"/>
<path d="M800.92 1139.34H806.54V1144.65H800.92Z" fill="#0000c5"/>
<path d="M654.59 1144.65H661.02V1149.96H660.22V1150.76H654.59Z" fill="#000097"/>
<path d="M660.22 1144.65H666.64V1149.96H660.22Z" fill="#0000c5"/>
<path d="M665.84 1144.65H672.27V1149.96H665.84Z" fill="#0000c5"/>
<path d="M671.47 1144.65H677.90V1149.96H671.47Z" fill="#0000c5"/>
<path d="M677.10 1144.65H683.53V1149.96H677.10Z" fill="#0000c5"/>
<path d="M682.73 1144.65H689.16V1149.96H682.73Z" fill="#0000c5"/>
<path d="M688.36 1144.65H694.78V1149.96H688.36Z" fill="#0000c5"/>
<path d="M693.98 1144.65H700.41V1150.76H693.98Z" fill="#0000f3"/>
<path d="M699.61 1144.65H706.04V1150.76H699.61Z" fill="#0024ff"/>
<path d="M705.24 1144.65H711.67V1150.76H705.24Z" fill="#5aff9c"/>
<path d="M710.87 1144.65H717.30V1150.76H710.87Z" fill="#ff8e00"/>
<path d="M716.50 1144.65H722.92V1150.76H716.50Z" fill="#bdff3a"/>
<path d="M722.12 1144.65H728.55V1150.76H722.12Z" fill="#bdff3a"/>
<path d="M727.75 1144.65H734.18V1149.96H733.38V1150.76H727.75Z" fill="#0000f3"/>
<path d="M733.38 1144.65H739.81V1149.96H733.38Z" fill="#0000c5"/>
<path d="M739.01 1144.65H745.44V1149.96H744.64V1150.76H739.01Z" fill="#0000c5"/>
<path d="M744.64 1144.65H751.06V1149.96H744.64Z" fill="#0000c5"/>
<path d="M750.26 1144.65H756.69V1149.96H755.89V1150.76H750.26Z" fill="#0000c5"/>
<path d="M755.89 1144.65H762.32V1149.96H755.89Z" fill="#0000c5"/>
<path d="M761.52 1144.65H767.95V1149.96H761.52Z" fill="#0000c5"/>
<path d="M767.15 1144.65H773.58V1149.96H767.15Z" fill="#0000c5"/>
<path d="M772.78 1144.65H779.20V1149.96H772.78Z" fill="#0000c5"/>
<path d="M778.40 1144.65H784.03V1149.96H778.40Z" fill="#0000c5"/>
<path d="M592.68 1149.96H598.31V1155.28H592.68Z" fill="#000097"/>
<path d="M654.59 1149.96H660.22V1156.08H654.59Z" fill="#0000c5"/>
<path d="M693.98 1149.96H700.41V1156.08H693.98Z" fill="#0000c5"/>
<path d="M699.61 1149.96H706.04V1156.08H699.61Z" fill="#0000f3"/>
<path d="M705.24 1149.96H711.67V1156.08H705.24Z" fill="#29ffce"/>
<path d="M710.87 1149.96H717.30V1156.08H710.87Z" fill="#29ffce"/>
<path d="M716.50 1149.96H722.92V1156.08H716.50Z" fill="#ff8e00"/>
<path d="M722.12 1149.96H728.55V1156.08H722.12Z" fill="#009eff"/>
<path d="M727.75 1149.96H733.38V1156.08H727.75Z" fill="#0000f3"/>
<path d="M739.01 1149.96H744.64V1155.28H739.01Z" fill="#0000c5"/>
<path d="M750.26 1149.96H755.89V1155.28H750.26Z" fill="#0000c5"/>
<path d="M648.96 1155.28H655.39V1160.59H648.96Z" fill="#000097"/>
<path d="M654.59 1155.28H660.22V1160.59H654.59Z" fill="#000097"/>
<path d="M693.98 1155.28H700.41V1160.59H693.98Z" fill="#0000c5"/>
<path d="M699.61 1155.28H706.04V1161.39H699.61Z" fill="#0000f3"/>
<path d="M705.24 1155.28H711.67V1161.39H705.24Z" fill="#0024ff"/>
<path d="M710.87 1155.28H717.30V1161.39H710.87Z" fill="#29ffce"/>
<path d="M716.50 1155.28H722.92V1161.39H716.50Z" fill="#29ffce"/>
<path d="M722.12 1155.28H728.55V1161.39H722.12Z" fill="#0000f3"/>
<path d="M727.75 1155.28H734.18V1161.39H727.75Z" fill="#0000f3"/>
<path d="M733.38 1155.28H739.01V1161.39H733.38Z" fill="#0000c5"/>
<path d="M744.64 1155.28H750.26V1161.39H744.64Z" fill="#0000c5"/>
<path d="M699.61 1160.59H706.04V1165.90H699.61Z" fill="#0000c5"/>
<path d="M705.24 1160.59H711.67V1165.90H705.24Z" fill="#0000f3"/>
<path d="M710.87 1160.59H717.30V1166.70H710.87Z" fill="#0000f3"/>
<path d="M716.50 1160.59H722.92V1166.70H716.50Z" fill="#0024ff"/>
<path d="M722.12 1160.59H728.55V1166.70H722.12Z" fill="#0000f3"/>
<path d="M727.75 1160.59H734.18V1165.90H733.38V1166.70H727.75Z" fill="#0000c5"/>
<path d="M733.38 1160.59H739.81V1165.90H733.38Z" fill="#0000c5"/>
<path d="M739.01 1160.59H745.44V1165.90H739.01Z" fill="#0000c5"/>
<path d="M744.64 1160.59H750.26V1165.90H744.64Z" fill="#0000c5"/>
<path d="M710.87 1165.90H717.30V1171.21H710.87Z" fill="#000097"/>
<path d="M716.50 1165.90H722.92V1171.21H716.50Z" fill="#000097"/>
<path d="M722.12 1165.90H728.55V1171.21H722.12Z" fill="#000097"/>
<path d="M727.75 1165.90H733.38V1171.21H727.75Z" fill="#000097"/>
</g>
<line x1="536.4" y1="1298.7" x2="958.5" y2="900.3" stroke="#000" stroke-width="1.15"/>
<rect x="536.4" y="900.3" width="422.1" height="398.4" fill="none" stroke="#000" stroke-width="1.06" stroke-opacity="0.8"/>
<line x1="536.4" y1="1298.7" x2="536.4" y2="1303.2" stroke="#000" stroke-width="1.06" stroke-opacity="0.8"/>
<line x1="536.4" y1="1298.7" x2="531.9" y2="1298.7" stroke="#000" stroke-width="1.06" stroke-opacity="0.8"/>
<line x1="677.1" y1="1298.7" x2="677.1" y2="1303.2" stroke="#000" stroke-width="1.06" stroke-opacity="0.8"/>
<line x1="536.4" y1="1166.3" x2="531.9" y2="1166.3" stroke="#000" stroke-width="1.06" stroke-opacity="0.8"/>
<line x1="817.8" y1="1298.7" x2="817.8" y2="1303.2" stroke="#000" stroke-width="1.06" stroke-opacity="0.8"/>
<line x1="536.4" y1="1033.5" x2="531.9" y2="1033.5" stroke="#000" stroke-width="1.06" stroke-opacity="0.8"/>
<line x1="958.5" y1="1298.7" x2="958.5" y2="1303.2" stroke="#000" stroke-width="1.06" stroke-opacity="0.8"/>
<line x1="536.4" y1="900.3" x2="531.9" y2="900.3" stroke="#000" stroke-width="1.06" stroke-opacity="0.8"/>
<text x="677.1" y="1328.7" font-size="26.5" text-anchor="middle">2.5</text>
<text x="817.8" y="1328.7" font-size="26.5" text-anchor="middle">5.0</text>
<text x="747.5" y="1360.2" font-size="26.5" text-anchor="middle"><tspan class="it">h</tspan><tspan class="it" font-size="18.5" dy="4">m</tspan><tspan dy="-4"> [m]</tspan></text>
<text x="570.2" y="983.7" font-size="39.2">F</text>
<text x="733.4" y="1219.0" font-size="18.35" fill="#222">RMSE=0.84m</text>
<text x="733.4" y="1272.1" font-size="18.35" fill="#222">bias=0.59m</text>
<text x="620.8" y="1272.1" font-size="18.35" fill="#222">80%</text>
</g>
<text transform="translate(1000,260.5) rotate(-90)" font-size="29.15" text-anchor="start"><tspan class="it">F</tspan></text>
<text transform="translate(1000,693.0) rotate(-90)" font-size="29.15" text-anchor="start"><tspan class="it">L</tspan><tspan font-size="20.4" dy="4.5">1</tspan></text>
<text transform="translate(1000,1125.5) rotate(-90)" font-size="29.15" text-anchor="start"><tspan class="it">L</tspan><tspan font-size="20.4" dy="4.5">2</tspan></text>
<defs><linearGradient id="jet" x1="0" y1="1" x2="0" y2="0">
<stop offset="0.0000" stop-color="#000080"/>
<stop offset="0.0156" stop-color="#000092"/>
<stop offset="0.0312" stop-color="#0000a4"/>
<stop offset="0.0469" stop-color="#0000b6"/>
<stop offset="0.0625" stop-color="#0000c8"/>
<stop offset="0.0781" stop-color="#0000da"/>
<stop offset="0.0938" stop-color="#0000ec"/>
<stop offset="0.1094" stop-color="#0000fe"/>
<stop offset="0.1250" stop-color="#0000ff"/>
<stop offset="0.1406" stop-color="#0010ff"/>
<stop offset="0.1562" stop-color="#0020ff"/>
<stop offset="0.1719" stop-color="#0030ff"/>
<stop offset="0.1875" stop-color="#0040ff"/>
<stop offset="0.2031" stop-color="#0050ff"/>
<stop offset="0.2188" stop-color="#0060ff"/>
<stop offset="0.2344" stop-color="#0070ff"/>
<stop offset="0.2500" stop-color="#0080ff"/>
<stop offset="0.2656" stop-color="#008fff"/>
<stop offset="0.2812" stop-color="#009fff"/>
<stop offset="0.2969" stop-color="#00afff"/>
<stop offset="0.3125" stop-color="#00bfff"/>
<stop offset="0.3281" stop-color="#00cfff"/>
<stop offset="0.3438" stop-color="#00dffc"/>
<stop offset="0.3594" stop-color="#08efef"/>
<stop offset="0.3750" stop-color="#15ffe2"/>
<stop offset="0.3906" stop-color="#21ffd5"/>
<stop offset="0.4062" stop-color="#2effc9"/>
<stop offset="0.4219" stop-color="#3bffbc"/>
<stop offset="0.4375" stop-color="#48ffaf"/>
<stop offset="0.4531" stop-color="#55ffa2"/>
<stop offset="0.4688" stop-color="#62ff95"/>
<stop offset="0.4844" stop-color="#6fff88"/>
<stop offset="0.5000" stop-color="#7bff7b"/>
<stop offset="0.5156" stop-color="#88ff6f"/>
<stop offset="0.5312" stop-color="#95ff62"/>
<stop offset="0.5469" stop-color="#a2ff55"/>
<stop offset="0.5625" stop-color="#afff48"/>
<stop offset="0.5781" stop-color="#bcff3b"/>
<stop offset="0.5938" stop-color="#c9ff2e"/>
<stop offset="0.6094" stop-color="#d5ff21"/>
<stop offset="0.6250" stop-color="#e2ff15"/>
<stop offset="0.6406" stop-color="#effe08"/>
<stop offset="0.6562" stop-color="#fcf000"/>
<stop offset="0.6719" stop-color="#ffe100"/>
<stop offset="0.6875" stop-color="#ffd200"/>
<stop offset="0.7031" stop-color="#ffc300"/>
<stop offset="0.7188" stop-color="#ffb500"/>
<stop offset="0.7344" stop-color="#ffa600"/>
<stop offset="0.7500" stop-color="#ff9700"/>
<stop offset="0.7656" stop-color="#ff8800"/>
<stop offset="0.7812" stop-color="#ff7a00"/>
<stop offset="0.7969" stop-color="#ff6b00"/>
<stop offset="0.8125" stop-color="#ff5c00"/>
<stop offset="0.8281" stop-color="#ff4d00"/>
<stop offset="0.8438" stop-color="#ff3f00"/>
<stop offset="0.8594" stop-color="#ff3000"/>
<stop offset="0.8750" stop-color="#ff2100"/>
<stop offset="0.8906" stop-color="#fe1200"/>
<stop offset="0.9062" stop-color="#ec0400"/>
<stop offset="0.9219" stop-color="#da0000"/>
<stop offset="0.9375" stop-color="#c80000"/>
<stop offset="0.9531" stop-color="#b60000"/>
<stop offset="0.9688" stop-color="#a40000"/>
<stop offset="0.9844" stop-color="#920000"/>
<stop offset="1.0000" stop-color="#800000"/>
</linearGradient></defs>
<rect x="1050.8" y="188.7" width="31.0" height="991.6" fill="url(#jet)" stroke="#000" stroke-width="0.9" stroke-opacity="0.8"/>
<line x1="1081.8" y1="1180.3" x2="1086.3" y2="1180.3" stroke="#000" stroke-width="0.9" stroke-opacity="0.75"/>
<text x="1091.0" y="1190.9" font-size="26.5">0</text>
<line x1="1081.8" y1="982.0" x2="1086.3" y2="982.0" stroke="#000" stroke-width="0.9" stroke-opacity="0.75"/>
<text x="1091.0" y="992.6" font-size="26.5">10</text>
<line x1="1081.8" y1="783.7" x2="1086.3" y2="783.7" stroke="#000" stroke-width="0.9" stroke-opacity="0.75"/>
<text x="1091.0" y="794.3" font-size="26.5">20</text>
<line x1="1081.8" y1="585.3" x2="1086.3" y2="585.3" stroke="#000" stroke-width="0.9" stroke-opacity="0.75"/>
<text x="1091.0" y="595.9" font-size="26.5">30</text>
<line x1="1081.8" y1="387.0" x2="1086.3" y2="387.0" stroke="#000" stroke-width="0.9" stroke-opacity="0.75"/>
<text x="1091.0" y="397.6" font-size="26.5">40</text>
<line x1="1081.8" y1="188.7" x2="1086.3" y2="188.7" stroke="#000" stroke-width="0.9" stroke-opacity="0.75"/>
<text x="1091.0" y="199.3" font-size="26.5">50</text>
</svg></body></html>
